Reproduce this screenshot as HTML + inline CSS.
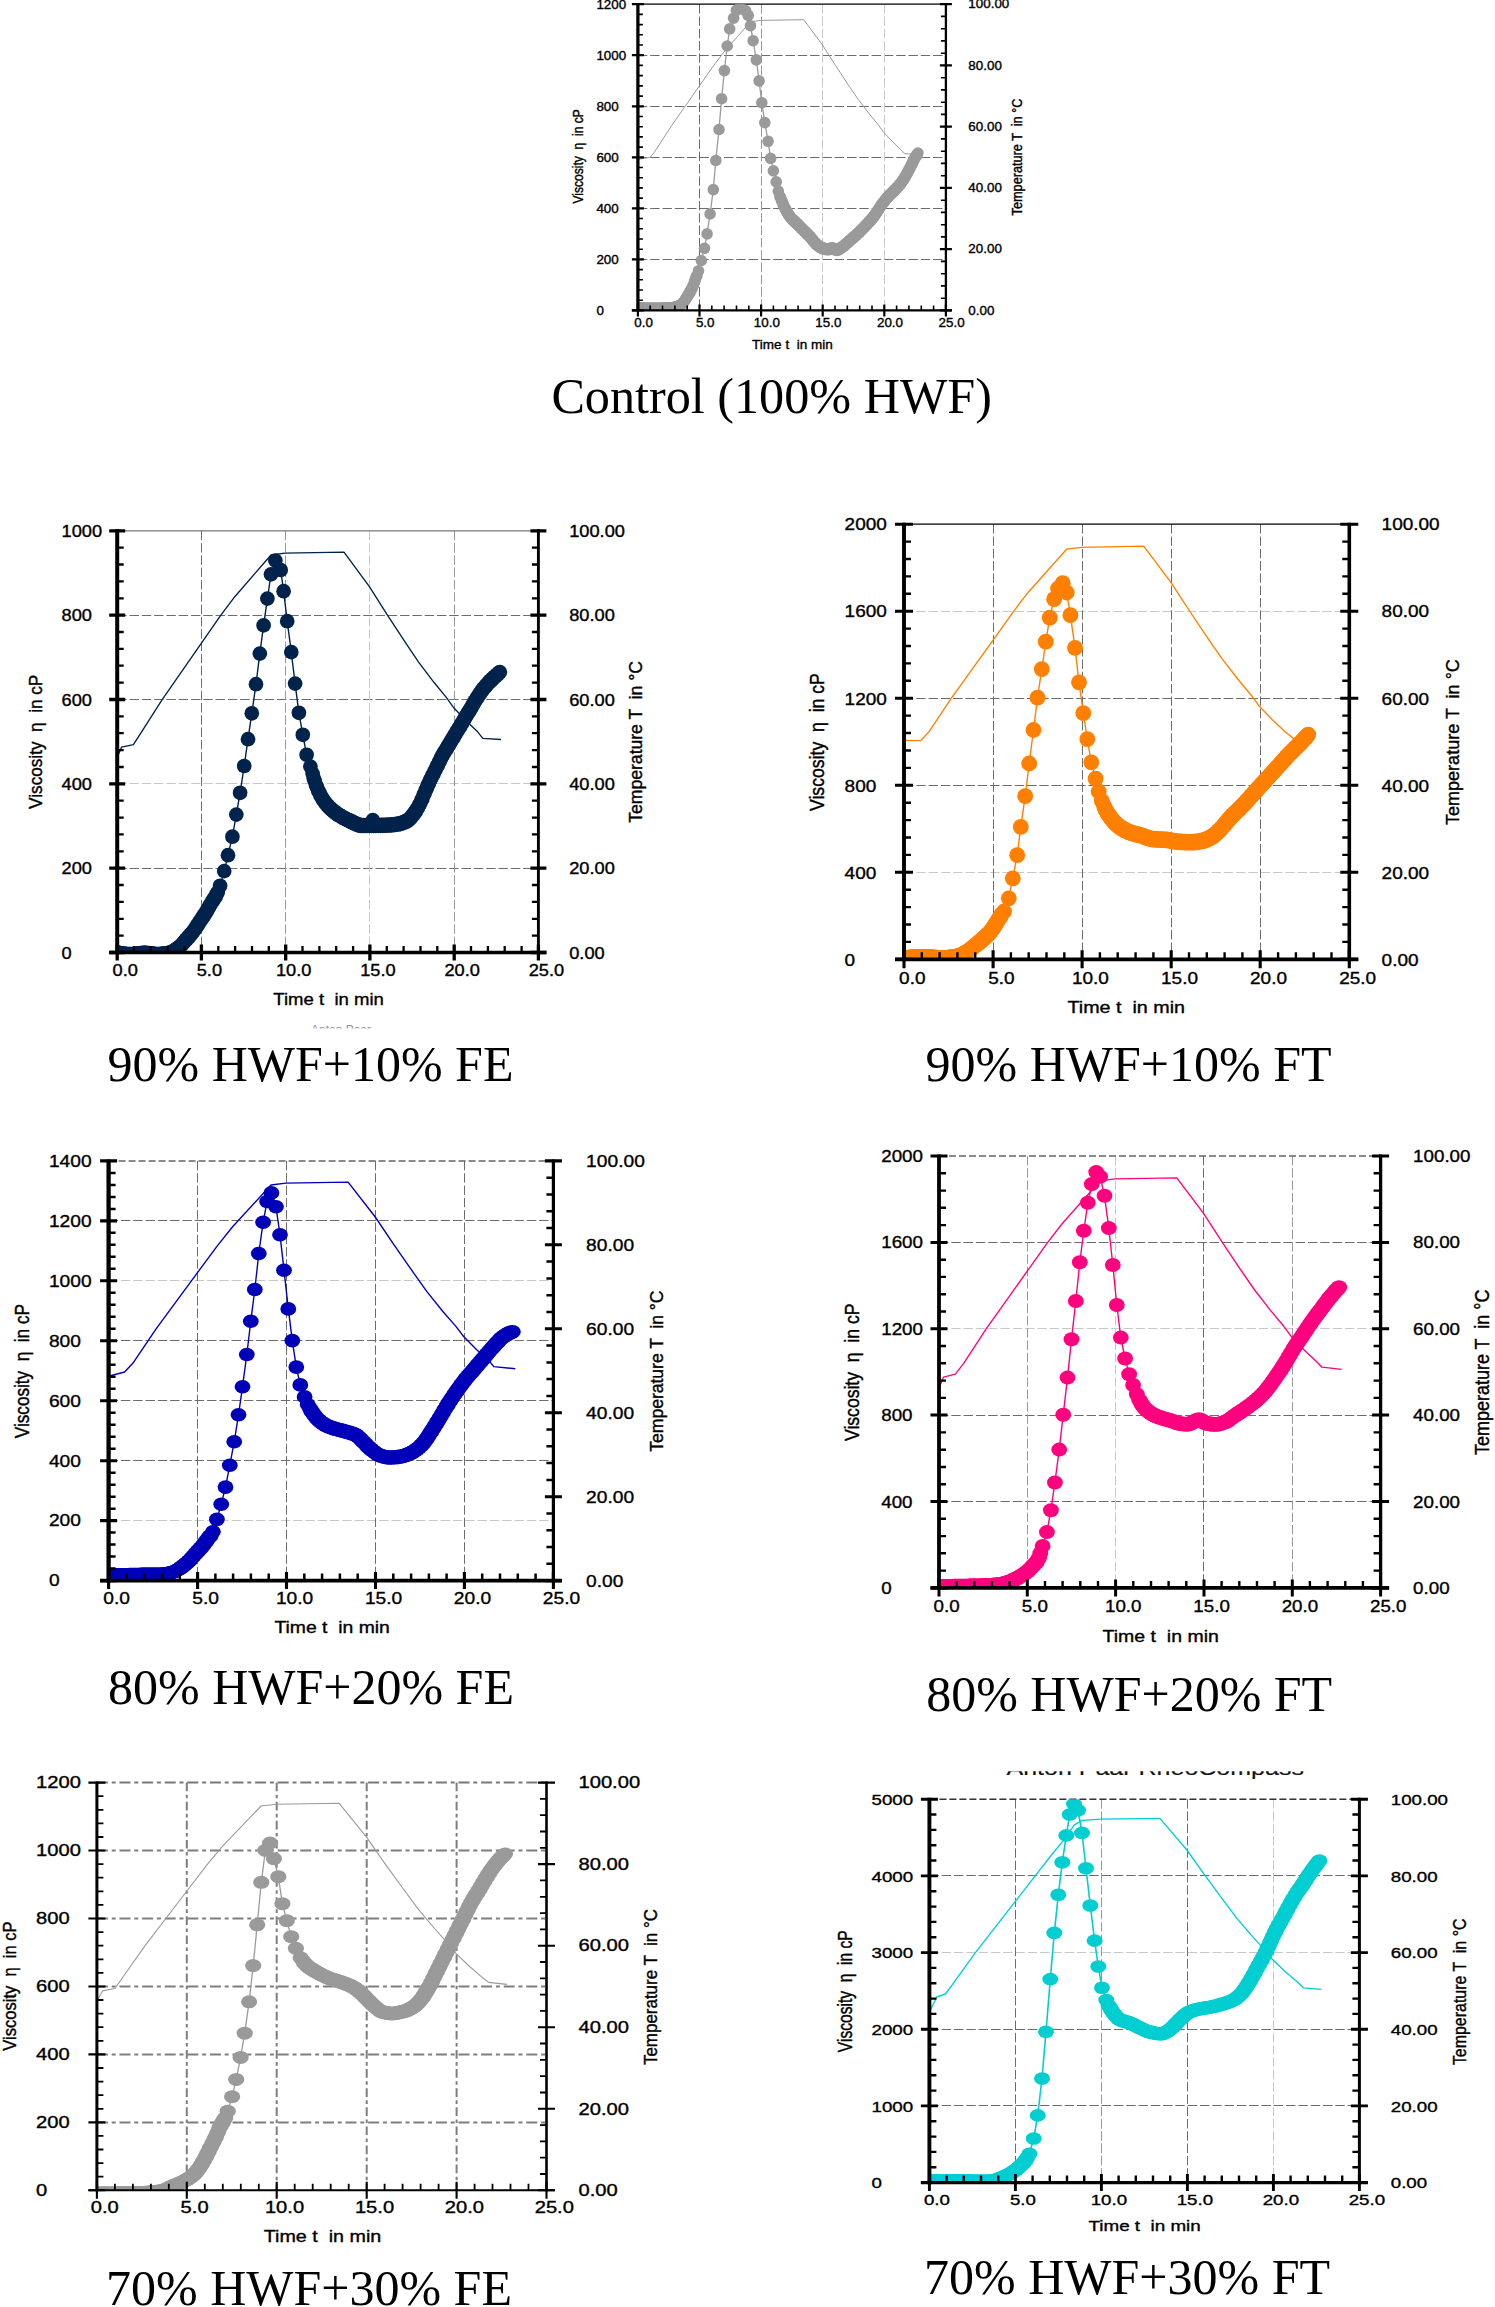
<!DOCTYPE html>
<html lang="en">
<head>
<meta charset="utf-8">
<title>RVA pasting profiles</title>
<style>html,body{margin:0;padding:0;background:#fff}body{width:1495px;height:2307px;overflow:hidden}svg{display:block}text{white-space:pre}</style>
</head>
<body>
<svg width="1495" height="2307" viewBox="0 0 1495 2307">
<rect width="1495" height="2307" fill="#fff"/>
<defs><clipPath id="clipA"><rect x="290" y="1024" width="120" height="4.6"/></clipPath><clipPath id="clipB"><rect x="1000" y="1771.2" width="320" height="12"/></clipPath></defs>
<!-- control -->
<g>
<g stroke-width="1" stroke-dasharray="9.4 2.9" fill="none">
<path d="M637.9 259.5H945.9" stroke="#6c6c6c"/>
<path d="M637.9 208.5H945.9" stroke="#6c6c6c"/>
<path d="M637.9 157.5H945.9" stroke="#6c6c6c"/>
<path d="M637.9 106.5H945.9" stroke="#6c6c6c"/>
<path d="M637.9 55.5H945.9" stroke="#6c6c6c"/>
<path d="M699.5 4.2V310.4" stroke="#6c6c6c"/>
<path d="M761.5 4.2V310.4" stroke="#989898"/>
<path d="M822.5 4.2V310.4" stroke="#c8c8c8"/>
<path d="M884.5 4.2V310.4" stroke="#c8c8c8"/>
</g>
<path d="M637.9 4.2H945.9" stroke="#000" stroke-width="1.3" fill="none"/>
<clipPath id="cp_control"><rect x="637.9" y="4.2" width="308" height="306.2"/></clipPath>
<g clip-path="url(#cp_control)">
<polyline fill="none" stroke="#9a9a9a" stroke-width="1.0" stroke-linejoin="round" points="637.9,159.4 650.1,157.3 655.1,151.2 670.7,127 700.1,84.9 713.4,65.8 723.9,52.1 750.4,21.8 760.6,20.4 803.7,19.7 822.3,44.7 835.6,65.6 848.3,84.9 858.3,99.6 869.5,114.2 878.4,125 883.7,132.3 892.8,141.9 901.7,150.4 904.6,153.6 917.6,154.5"/>
<polyline fill="none" stroke="#9a9a9a" stroke-width="1.3" stroke-linejoin="round" points="636.6,308 637.4,308 638.2,308 639.1,308 639.9,308.1 640.7,308.1 641.5,308.1 642.3,308.1 643.1,308.1 643.9,308.1 644.8,308.2 645.6,308.2 646.4,308.2 647.2,308.2 648,308.2 648.8,308.2 649.6,308.2 650.5,308.2 651.3,308.2 652.1,308.2 652.9,308.2 653.7,308.2 654.5,308.2 655.3,308.2 656.2,308.2 657,308.2 657.8,308.2 658.6,308.2 659.4,308.2 660.2,308.2 661,308.2 661.9,308.2 662.7,308.1 663.5,308.1 664.3,308.1 665.1,308.1 665.9,308 666.7,308 667.6,307.9 668.4,307.9 669.2,307.8 670,307.8 670.8,307.7 671.6,307.7 672.4,307.6 673.3,307.5 674.1,307.4 674.9,307.2 675.7,307 676.5,306.7 677.3,306.4 678.1,306.1 679,305.7 679.8,305.3 680.6,304.8 681.4,304.4 682.2,303.7 683,302.9 683.8,301.8 684.7,300.7 685.5,299.4 686.3,298.2 687.1,297 687.9,295.2 688.7,294.7 689.5,292.3 690.4,291.8 691.2,289.2 692,288.6 692.8,286 693.6,285.1 694.4,281.7 695.2,279.9 696.1,276.8 696.9,275.7 698.5,270.8 701.3,260.5 704.5,248.3 707.1,233.9 710.1,214 713.3,189.6 715.8,160.5 719,129.5 721.6,98.7 724.4,70.6 727.2,46 729.7,28.9 733.6,18.2 736.4,10.3 739.4,8.1 742.4,9 745.6,10.7 748.2,15.4 750.5,25.7 753.1,40.7 756.3,59.9 759.1,80.9 761.8,102.7 764.8,122.6 768.1,141.3 770.6,158.4 773.4,170.8 776.2,181.9 778.3,191.1 780,196.7 780.8,197.8 781.6,200.8 782.4,201.8 783.2,204.7 784,205.8 784.8,208.5 785.7,209.2 786.5,211.6 787.3,212 788.1,214.3 788.9,214.6 789.7,216.6 790.5,216.8 791.4,218.7 792.2,218.7 793,220.4 793.8,220.2 794.6,221.9 795.4,221.7 796.2,223.5 797.1,223.4 797.9,225.1 798.7,224.9 799.5,226.7 800.3,226.6 801.1,228.3 801.9,228.2 802.8,230 803.6,229.9 804.4,231.6 805.2,231.4 806,233.2 806.8,233 807.6,234.8 808.5,234.6 809.3,236.4 810.1,236.4 810.9,238.2 811.7,238.4 812.5,240.3 813.3,240.4 814.2,242.3 815,242.3 815.8,244.1 816.6,243.9 817.4,245.4 818.2,245.2 819,246.8 819.9,246.4 820.7,247.8 821.5,247.4 822.3,248.6 823.1,247.9 823.9,249.2 824.7,248.4 825.6,249.5 826.4,248.7 827.2,249.8 828,248.9 828.8,249.7 829.6,248.5 830.4,249.2 831.3,247.9 832.1,248.7 832.9,247.9 833.7,249.2 834.5,248.8 835.3,250.2 836.1,249.5 837,250.4 837.8,249.3 838.6,249.9 839.4,248.5 840.2,248.8 841,247.3 841.8,247.7 842.7,246.3 843.5,246.6 844.3,245 845.1,245.2 845.9,243.5 846.7,243.7 847.5,242.1 848.4,242.3 849.2,240.7 850,240.9 850.8,239.3 851.6,239.5 852.4,237.9 853.2,238.1 854.1,236.5 854.9,236.7 855.7,235 856.5,235.2 857.3,233.5 858.1,233.7 858.9,232 859.8,232.1 860.6,230.3 861.4,230.5 862.2,228.7 863,228.8 863.8,227 864.6,227.1 865.5,225.4 866.3,225.4 867.1,223.6 867.9,223.7 868.7,221.9 869.5,221.9 870.3,220.1 871.2,220.1 872,218.2 872.8,218.2 873.6,216.3 874.4,216.1 875.2,214.1 876,213.8 876.9,211.6 877.7,211.2 878.5,209 879.3,208.7 880.1,206.6 880.9,206.3 881.7,204.2 882.6,204 883.4,202 884.2,201.8 885,199.8 885.8,199.7 886.6,197.8 887.4,197.8 888.3,196 889.1,196.1 889.9,194.4 890.7,194.5 891.5,192.8 892.3,193 893.1,191.2 894,191.4 894.8,189.6 895.6,189.7 896.4,187.9 897.2,187.9 898,186.1 898.8,186.2 899.7,184.3 900.5,184.2 901.3,182.2 902.1,182 902.9,179.9 903.7,179.6 904.5,177.3 905.4,176.9 906.2,174.5 907,174 907.8,171.6 908.6,171 909.4,168.5 910.2,167.8 911.1,165.2 911.9,164.4 912.7,161.9 913.5,161.2 914.3,158.7 915.1,158.2 915.9,155.9 916.8,155.4 917.9,153"/>
<g fill="#9a9a9a">
<ellipse cx="636.6" cy="308" rx="5.8" ry="5.8"/>
<ellipse cx="637.4" cy="308" rx="5.8" ry="5.8"/>
<ellipse cx="638.2" cy="308" rx="5.8" ry="5.8"/>
<ellipse cx="639.1" cy="308" rx="5.8" ry="5.8"/>
<ellipse cx="639.9" cy="308.1" rx="5.8" ry="5.8"/>
<ellipse cx="640.7" cy="308.1" rx="5.8" ry="5.8"/>
<ellipse cx="641.5" cy="308.1" rx="5.8" ry="5.8"/>
<ellipse cx="642.3" cy="308.1" rx="5.8" ry="5.8"/>
<ellipse cx="643.1" cy="308.1" rx="5.8" ry="5.8"/>
<ellipse cx="643.9" cy="308.1" rx="5.8" ry="5.8"/>
<ellipse cx="644.8" cy="308.2" rx="5.8" ry="5.8"/>
<ellipse cx="645.6" cy="308.2" rx="5.8" ry="5.8"/>
<ellipse cx="646.4" cy="308.2" rx="5.8" ry="5.8"/>
<ellipse cx="647.2" cy="308.2" rx="5.8" ry="5.8"/>
<ellipse cx="648" cy="308.2" rx="5.8" ry="5.8"/>
<ellipse cx="648.8" cy="308.2" rx="5.8" ry="5.8"/>
<ellipse cx="649.6" cy="308.2" rx="5.8" ry="5.8"/>
<ellipse cx="650.5" cy="308.2" rx="5.8" ry="5.8"/>
<ellipse cx="651.3" cy="308.2" rx="5.8" ry="5.8"/>
<ellipse cx="652.1" cy="308.2" rx="5.8" ry="5.8"/>
<ellipse cx="652.9" cy="308.2" rx="5.8" ry="5.8"/>
<ellipse cx="653.7" cy="308.2" rx="5.8" ry="5.8"/>
<ellipse cx="654.5" cy="308.2" rx="5.8" ry="5.8"/>
<ellipse cx="655.3" cy="308.2" rx="5.8" ry="5.8"/>
<ellipse cx="656.2" cy="308.2" rx="5.8" ry="5.8"/>
<ellipse cx="657" cy="308.2" rx="5.8" ry="5.8"/>
<ellipse cx="657.8" cy="308.2" rx="5.8" ry="5.8"/>
<ellipse cx="658.6" cy="308.2" rx="5.8" ry="5.8"/>
<ellipse cx="659.4" cy="308.2" rx="5.8" ry="5.8"/>
<ellipse cx="660.2" cy="308.2" rx="5.8" ry="5.8"/>
<ellipse cx="661" cy="308.2" rx="5.8" ry="5.8"/>
<ellipse cx="661.9" cy="308.2" rx="5.8" ry="5.8"/>
<ellipse cx="662.7" cy="308.1" rx="5.8" ry="5.8"/>
<ellipse cx="663.5" cy="308.1" rx="5.8" ry="5.8"/>
<ellipse cx="664.3" cy="308.1" rx="5.8" ry="5.8"/>
<ellipse cx="665.1" cy="308.1" rx="5.8" ry="5.8"/>
<ellipse cx="665.9" cy="308" rx="5.8" ry="5.8"/>
<ellipse cx="666.7" cy="308" rx="5.8" ry="5.8"/>
<ellipse cx="667.6" cy="307.9" rx="5.8" ry="5.8"/>
<ellipse cx="668.4" cy="307.9" rx="5.8" ry="5.8"/>
<ellipse cx="669.2" cy="307.8" rx="5.8" ry="5.8"/>
<ellipse cx="670" cy="307.8" rx="5.8" ry="5.8"/>
<ellipse cx="670.8" cy="307.7" rx="5.8" ry="5.8"/>
<ellipse cx="671.6" cy="307.7" rx="5.8" ry="5.8"/>
<ellipse cx="672.4" cy="307.6" rx="5.8" ry="5.8"/>
<ellipse cx="673.3" cy="307.5" rx="5.8" ry="5.8"/>
<ellipse cx="674.1" cy="307.4" rx="5.8" ry="5.8"/>
<ellipse cx="674.9" cy="307.2" rx="5.8" ry="5.8"/>
<ellipse cx="675.7" cy="307" rx="5.8" ry="5.8"/>
<ellipse cx="676.5" cy="306.7" rx="5.8" ry="5.8"/>
<ellipse cx="677.3" cy="306.4" rx="5.8" ry="5.8"/>
<ellipse cx="678.1" cy="306.1" rx="5.8" ry="5.8"/>
<ellipse cx="679" cy="305.7" rx="5.8" ry="5.8"/>
<ellipse cx="679.8" cy="305.3" rx="5.8" ry="5.8"/>
<ellipse cx="680.6" cy="304.8" rx="5.8" ry="5.8"/>
<ellipse cx="681.4" cy="304.4" rx="5.8" ry="5.8"/>
<ellipse cx="682.2" cy="303.7" rx="5.8" ry="5.8"/>
<ellipse cx="683" cy="302.9" rx="5.8" ry="5.8"/>
<ellipse cx="683.8" cy="301.8" rx="5.8" ry="5.8"/>
<ellipse cx="684.7" cy="300.7" rx="5.8" ry="5.8"/>
<ellipse cx="685.5" cy="299.4" rx="5.8" ry="5.8"/>
<ellipse cx="686.3" cy="298.2" rx="5.8" ry="5.8"/>
<ellipse cx="687.1" cy="297" rx="5.8" ry="5.8"/>
<ellipse cx="687.9" cy="295.2" rx="5.8" ry="5.8"/>
<ellipse cx="688.7" cy="294.7" rx="5.8" ry="5.8"/>
<ellipse cx="689.5" cy="292.3" rx="5.8" ry="5.8"/>
<ellipse cx="690.4" cy="291.8" rx="5.8" ry="5.8"/>
<ellipse cx="691.2" cy="289.2" rx="5.8" ry="5.8"/>
<ellipse cx="692" cy="288.6" rx="5.8" ry="5.8"/>
<ellipse cx="692.8" cy="286" rx="5.8" ry="5.8"/>
<ellipse cx="693.6" cy="285.1" rx="5.8" ry="5.8"/>
<ellipse cx="694.4" cy="281.7" rx="5.8" ry="5.8"/>
<ellipse cx="695.2" cy="279.9" rx="5.8" ry="5.8"/>
<ellipse cx="696.1" cy="276.8" rx="5.8" ry="5.8"/>
<ellipse cx="696.9" cy="275.7" rx="5.8" ry="5.8"/>
<ellipse cx="698.5" cy="270.8" rx="5.8" ry="5.8"/>
<ellipse cx="701.3" cy="260.5" rx="5.8" ry="5.8"/>
<ellipse cx="704.5" cy="248.3" rx="5.8" ry="5.8"/>
<ellipse cx="707.1" cy="233.9" rx="5.8" ry="5.8"/>
<ellipse cx="710.1" cy="214" rx="5.8" ry="5.8"/>
<ellipse cx="713.3" cy="189.6" rx="5.8" ry="5.8"/>
<ellipse cx="715.8" cy="160.5" rx="5.8" ry="5.8"/>
<ellipse cx="719" cy="129.5" rx="5.8" ry="5.8"/>
<ellipse cx="721.6" cy="98.7" rx="5.8" ry="5.8"/>
<ellipse cx="724.4" cy="70.6" rx="5.8" ry="5.8"/>
<ellipse cx="727.2" cy="46" rx="5.8" ry="5.8"/>
<ellipse cx="729.7" cy="28.9" rx="5.8" ry="5.8"/>
<ellipse cx="733.6" cy="18.2" rx="5.8" ry="5.8"/>
<ellipse cx="736.4" cy="10.3" rx="5.8" ry="5.8"/>
<ellipse cx="739.4" cy="8.1" rx="5.8" ry="5.8"/>
<ellipse cx="742.4" cy="9" rx="5.8" ry="5.8"/>
<ellipse cx="745.6" cy="10.7" rx="5.8" ry="5.8"/>
<ellipse cx="748.2" cy="15.4" rx="5.8" ry="5.8"/>
<ellipse cx="750.5" cy="25.7" rx="5.8" ry="5.8"/>
<ellipse cx="753.1" cy="40.7" rx="5.8" ry="5.8"/>
<ellipse cx="756.3" cy="59.9" rx="5.8" ry="5.8"/>
<ellipse cx="759.1" cy="80.9" rx="5.8" ry="5.8"/>
<ellipse cx="761.8" cy="102.7" rx="5.8" ry="5.8"/>
<ellipse cx="764.8" cy="122.6" rx="5.8" ry="5.8"/>
<ellipse cx="768.1" cy="141.3" rx="5.8" ry="5.8"/>
<ellipse cx="770.6" cy="158.4" rx="5.8" ry="5.8"/>
<ellipse cx="773.4" cy="170.8" rx="5.8" ry="5.8"/>
<ellipse cx="776.2" cy="181.9" rx="5.8" ry="5.8"/>
<ellipse cx="778.3" cy="191.1" rx="5.8" ry="5.8"/>
<ellipse cx="780" cy="196.7" rx="5.8" ry="5.8"/>
<ellipse cx="780.8" cy="197.8" rx="5.8" ry="5.8"/>
<ellipse cx="781.6" cy="200.8" rx="5.8" ry="5.8"/>
<ellipse cx="782.4" cy="201.8" rx="5.8" ry="5.8"/>
<ellipse cx="783.2" cy="204.7" rx="5.8" ry="5.8"/>
<ellipse cx="784" cy="205.8" rx="5.8" ry="5.8"/>
<ellipse cx="784.8" cy="208.5" rx="5.8" ry="5.8"/>
<ellipse cx="785.7" cy="209.2" rx="5.8" ry="5.8"/>
<ellipse cx="786.5" cy="211.6" rx="5.8" ry="5.8"/>
<ellipse cx="787.3" cy="212" rx="5.8" ry="5.8"/>
<ellipse cx="788.1" cy="214.3" rx="5.8" ry="5.8"/>
<ellipse cx="788.9" cy="214.6" rx="5.8" ry="5.8"/>
<ellipse cx="789.7" cy="216.6" rx="5.8" ry="5.8"/>
<ellipse cx="790.5" cy="216.8" rx="5.8" ry="5.8"/>
<ellipse cx="791.4" cy="218.7" rx="5.8" ry="5.8"/>
<ellipse cx="792.2" cy="218.7" rx="5.8" ry="5.8"/>
<ellipse cx="793" cy="220.4" rx="5.8" ry="5.8"/>
<ellipse cx="793.8" cy="220.2" rx="5.8" ry="5.8"/>
<ellipse cx="794.6" cy="221.9" rx="5.8" ry="5.8"/>
<ellipse cx="795.4" cy="221.7" rx="5.8" ry="5.8"/>
<ellipse cx="796.2" cy="223.5" rx="5.8" ry="5.8"/>
<ellipse cx="797.1" cy="223.4" rx="5.8" ry="5.8"/>
<ellipse cx="797.9" cy="225.1" rx="5.8" ry="5.8"/>
<ellipse cx="798.7" cy="224.9" rx="5.8" ry="5.8"/>
<ellipse cx="799.5" cy="226.7" rx="5.8" ry="5.8"/>
<ellipse cx="800.3" cy="226.6" rx="5.8" ry="5.8"/>
<ellipse cx="801.1" cy="228.3" rx="5.8" ry="5.8"/>
<ellipse cx="801.9" cy="228.2" rx="5.8" ry="5.8"/>
<ellipse cx="802.8" cy="230" rx="5.8" ry="5.8"/>
<ellipse cx="803.6" cy="229.9" rx="5.8" ry="5.8"/>
<ellipse cx="804.4" cy="231.6" rx="5.8" ry="5.8"/>
<ellipse cx="805.2" cy="231.4" rx="5.8" ry="5.8"/>
<ellipse cx="806" cy="233.2" rx="5.8" ry="5.8"/>
<ellipse cx="806.8" cy="233" rx="5.8" ry="5.8"/>
<ellipse cx="807.6" cy="234.8" rx="5.8" ry="5.8"/>
<ellipse cx="808.5" cy="234.6" rx="5.8" ry="5.8"/>
<ellipse cx="809.3" cy="236.4" rx="5.8" ry="5.8"/>
<ellipse cx="810.1" cy="236.4" rx="5.8" ry="5.8"/>
<ellipse cx="810.9" cy="238.2" rx="5.8" ry="5.8"/>
<ellipse cx="811.7" cy="238.4" rx="5.8" ry="5.8"/>
<ellipse cx="812.5" cy="240.3" rx="5.8" ry="5.8"/>
<ellipse cx="813.3" cy="240.4" rx="5.8" ry="5.8"/>
<ellipse cx="814.2" cy="242.3" rx="5.8" ry="5.8"/>
<ellipse cx="815" cy="242.3" rx="5.8" ry="5.8"/>
<ellipse cx="815.8" cy="244.1" rx="5.8" ry="5.8"/>
<ellipse cx="816.6" cy="243.9" rx="5.8" ry="5.8"/>
<ellipse cx="817.4" cy="245.4" rx="5.8" ry="5.8"/>
<ellipse cx="818.2" cy="245.2" rx="5.8" ry="5.8"/>
<ellipse cx="819" cy="246.8" rx="5.8" ry="5.8"/>
<ellipse cx="819.9" cy="246.4" rx="5.8" ry="5.8"/>
<ellipse cx="820.7" cy="247.8" rx="5.8" ry="5.8"/>
<ellipse cx="821.5" cy="247.4" rx="5.8" ry="5.8"/>
<ellipse cx="822.3" cy="248.6" rx="5.8" ry="5.8"/>
<ellipse cx="823.1" cy="247.9" rx="5.8" ry="5.8"/>
<ellipse cx="823.9" cy="249.2" rx="5.8" ry="5.8"/>
<ellipse cx="824.7" cy="248.4" rx="5.8" ry="5.8"/>
<ellipse cx="825.6" cy="249.5" rx="5.8" ry="5.8"/>
<ellipse cx="826.4" cy="248.7" rx="5.8" ry="5.8"/>
<ellipse cx="827.2" cy="249.8" rx="5.8" ry="5.8"/>
<ellipse cx="828" cy="248.9" rx="5.8" ry="5.8"/>
<ellipse cx="828.8" cy="249.7" rx="5.8" ry="5.8"/>
<ellipse cx="829.6" cy="248.5" rx="5.8" ry="5.8"/>
<ellipse cx="830.4" cy="249.2" rx="5.8" ry="5.8"/>
<ellipse cx="831.3" cy="247.9" rx="5.8" ry="5.8"/>
<ellipse cx="832.1" cy="248.7" rx="5.8" ry="5.8"/>
<ellipse cx="832.9" cy="247.9" rx="5.8" ry="5.8"/>
<ellipse cx="833.7" cy="249.2" rx="5.8" ry="5.8"/>
<ellipse cx="834.5" cy="248.8" rx="5.8" ry="5.8"/>
<ellipse cx="835.3" cy="250.2" rx="5.8" ry="5.8"/>
<ellipse cx="836.1" cy="249.5" rx="5.8" ry="5.8"/>
<ellipse cx="837" cy="250.4" rx="5.8" ry="5.8"/>
<ellipse cx="837.8" cy="249.3" rx="5.8" ry="5.8"/>
<ellipse cx="838.6" cy="249.9" rx="5.8" ry="5.8"/>
<ellipse cx="839.4" cy="248.5" rx="5.8" ry="5.8"/>
<ellipse cx="840.2" cy="248.8" rx="5.8" ry="5.8"/>
<ellipse cx="841" cy="247.3" rx="5.8" ry="5.8"/>
<ellipse cx="841.8" cy="247.7" rx="5.8" ry="5.8"/>
<ellipse cx="842.7" cy="246.3" rx="5.8" ry="5.8"/>
<ellipse cx="843.5" cy="246.6" rx="5.8" ry="5.8"/>
<ellipse cx="844.3" cy="245" rx="5.8" ry="5.8"/>
<ellipse cx="845.1" cy="245.2" rx="5.8" ry="5.8"/>
<ellipse cx="845.9" cy="243.5" rx="5.8" ry="5.8"/>
<ellipse cx="846.7" cy="243.7" rx="5.8" ry="5.8"/>
<ellipse cx="847.5" cy="242.1" rx="5.8" ry="5.8"/>
<ellipse cx="848.4" cy="242.3" rx="5.8" ry="5.8"/>
<ellipse cx="849.2" cy="240.7" rx="5.8" ry="5.8"/>
<ellipse cx="850" cy="240.9" rx="5.8" ry="5.8"/>
<ellipse cx="850.8" cy="239.3" rx="5.8" ry="5.8"/>
<ellipse cx="851.6" cy="239.5" rx="5.8" ry="5.8"/>
<ellipse cx="852.4" cy="237.9" rx="5.8" ry="5.8"/>
<ellipse cx="853.2" cy="238.1" rx="5.8" ry="5.8"/>
<ellipse cx="854.1" cy="236.5" rx="5.8" ry="5.8"/>
<ellipse cx="854.9" cy="236.7" rx="5.8" ry="5.8"/>
<ellipse cx="855.7" cy="235" rx="5.8" ry="5.8"/>
<ellipse cx="856.5" cy="235.2" rx="5.8" ry="5.8"/>
<ellipse cx="857.3" cy="233.5" rx="5.8" ry="5.8"/>
<ellipse cx="858.1" cy="233.7" rx="5.8" ry="5.8"/>
<ellipse cx="858.9" cy="232" rx="5.8" ry="5.8"/>
<ellipse cx="859.8" cy="232.1" rx="5.8" ry="5.8"/>
<ellipse cx="860.6" cy="230.3" rx="5.8" ry="5.8"/>
<ellipse cx="861.4" cy="230.5" rx="5.8" ry="5.8"/>
<ellipse cx="862.2" cy="228.7" rx="5.8" ry="5.8"/>
<ellipse cx="863" cy="228.8" rx="5.8" ry="5.8"/>
<ellipse cx="863.8" cy="227" rx="5.8" ry="5.8"/>
<ellipse cx="864.6" cy="227.1" rx="5.8" ry="5.8"/>
<ellipse cx="865.5" cy="225.4" rx="5.8" ry="5.8"/>
<ellipse cx="866.3" cy="225.4" rx="5.8" ry="5.8"/>
<ellipse cx="867.1" cy="223.6" rx="5.8" ry="5.8"/>
<ellipse cx="867.9" cy="223.7" rx="5.8" ry="5.8"/>
<ellipse cx="868.7" cy="221.9" rx="5.8" ry="5.8"/>
<ellipse cx="869.5" cy="221.9" rx="5.8" ry="5.8"/>
<ellipse cx="870.3" cy="220.1" rx="5.8" ry="5.8"/>
<ellipse cx="871.2" cy="220.1" rx="5.8" ry="5.8"/>
<ellipse cx="872" cy="218.2" rx="5.8" ry="5.8"/>
<ellipse cx="872.8" cy="218.2" rx="5.8" ry="5.8"/>
<ellipse cx="873.6" cy="216.3" rx="5.8" ry="5.8"/>
<ellipse cx="874.4" cy="216.1" rx="5.8" ry="5.8"/>
<ellipse cx="875.2" cy="214.1" rx="5.8" ry="5.8"/>
<ellipse cx="876" cy="213.8" rx="5.8" ry="5.8"/>
<ellipse cx="876.9" cy="211.6" rx="5.8" ry="5.8"/>
<ellipse cx="877.7" cy="211.2" rx="5.8" ry="5.8"/>
<ellipse cx="878.5" cy="209" rx="5.8" ry="5.8"/>
<ellipse cx="879.3" cy="208.7" rx="5.8" ry="5.8"/>
<ellipse cx="880.1" cy="206.6" rx="5.8" ry="5.8"/>
<ellipse cx="880.9" cy="206.3" rx="5.8" ry="5.8"/>
<ellipse cx="881.7" cy="204.2" rx="5.8" ry="5.8"/>
<ellipse cx="882.6" cy="204" rx="5.8" ry="5.8"/>
<ellipse cx="883.4" cy="202" rx="5.8" ry="5.8"/>
<ellipse cx="884.2" cy="201.8" rx="5.8" ry="5.8"/>
<ellipse cx="885" cy="199.8" rx="5.8" ry="5.8"/>
<ellipse cx="885.8" cy="199.7" rx="5.8" ry="5.8"/>
<ellipse cx="886.6" cy="197.8" rx="5.8" ry="5.8"/>
<ellipse cx="887.4" cy="197.8" rx="5.8" ry="5.8"/>
<ellipse cx="888.3" cy="196" rx="5.8" ry="5.8"/>
<ellipse cx="889.1" cy="196.1" rx="5.8" ry="5.8"/>
<ellipse cx="889.9" cy="194.4" rx="5.8" ry="5.8"/>
<ellipse cx="890.7" cy="194.5" rx="5.8" ry="5.8"/>
<ellipse cx="891.5" cy="192.8" rx="5.8" ry="5.8"/>
<ellipse cx="892.3" cy="193" rx="5.8" ry="5.8"/>
<ellipse cx="893.1" cy="191.2" rx="5.8" ry="5.8"/>
<ellipse cx="894" cy="191.4" rx="5.8" ry="5.8"/>
<ellipse cx="894.8" cy="189.6" rx="5.8" ry="5.8"/>
<ellipse cx="895.6" cy="189.7" rx="5.8" ry="5.8"/>
<ellipse cx="896.4" cy="187.9" rx="5.8" ry="5.8"/>
<ellipse cx="897.2" cy="187.9" rx="5.8" ry="5.8"/>
<ellipse cx="898" cy="186.1" rx="5.8" ry="5.8"/>
<ellipse cx="898.8" cy="186.2" rx="5.8" ry="5.8"/>
<ellipse cx="899.7" cy="184.3" rx="5.8" ry="5.8"/>
<ellipse cx="900.5" cy="184.2" rx="5.8" ry="5.8"/>
<ellipse cx="901.3" cy="182.2" rx="5.8" ry="5.8"/>
<ellipse cx="902.1" cy="182" rx="5.8" ry="5.8"/>
<ellipse cx="902.9" cy="179.9" rx="5.8" ry="5.8"/>
<ellipse cx="903.7" cy="179.6" rx="5.8" ry="5.8"/>
<ellipse cx="904.5" cy="177.3" rx="5.8" ry="5.8"/>
<ellipse cx="905.4" cy="176.9" rx="5.8" ry="5.8"/>
<ellipse cx="906.2" cy="174.5" rx="5.8" ry="5.8"/>
<ellipse cx="907" cy="174" rx="5.8" ry="5.8"/>
<ellipse cx="907.8" cy="171.6" rx="5.8" ry="5.8"/>
<ellipse cx="908.6" cy="171" rx="5.8" ry="5.8"/>
<ellipse cx="909.4" cy="168.5" rx="5.8" ry="5.8"/>
<ellipse cx="910.2" cy="167.8" rx="5.8" ry="5.8"/>
<ellipse cx="911.1" cy="165.2" rx="5.8" ry="5.8"/>
<ellipse cx="911.9" cy="164.4" rx="5.8" ry="5.8"/>
<ellipse cx="912.7" cy="161.9" rx="5.8" ry="5.8"/>
<ellipse cx="913.5" cy="161.2" rx="5.8" ry="5.8"/>
<ellipse cx="914.3" cy="158.7" rx="5.8" ry="5.8"/>
<ellipse cx="915.1" cy="158.2" rx="5.8" ry="5.8"/>
<ellipse cx="915.9" cy="155.9" rx="5.8" ry="5.8"/>
<ellipse cx="916.8" cy="155.4" rx="5.8" ry="5.8"/>
<ellipse cx="917.9" cy="153" rx="5.8" ry="5.8"/>
</g>
</g>
<g stroke="#000" fill="none" stroke-linecap="butt">
<path d="M637.9 3.1V311.5" stroke-width="3.3"/>
<path d="M945.9 3.1V311.5" stroke-width="2.3"/>
<path d="M631.9 310.4H951.9" stroke-width="2.3"/>
<path d="M631.9 310.4H643.9M631.9 259.4H643.9M631.9 208.3H643.9M631.9 157.3H643.9M631.9 106.3H643.9M631.9 55.2H643.9M631.9 4.2H643.9M939.9 310.4H951.9M939.9 249.2H951.9M939.9 187.9H951.9M939.9 126.7H951.9M939.9 65.4H951.9M939.9 4.2H951.9M637.9 304.4V316.4M699.5 304.4V316.4M761.1 304.4V316.4M822.7 304.4V316.4M884.3 304.4V316.4M945.9 304.4V316.4" stroke-width="2.2"/>
<path d="M637.9 300.2H642.9M637.9 290H642.9M637.9 279.8H642.9M637.9 269.6H642.9M637.9 249.2H642.9M637.9 239H642.9M637.9 228.7H642.9M637.9 218.5H642.9M637.9 198.1H642.9M637.9 187.9H642.9M637.9 177.7H642.9M637.9 167.5H642.9M637.9 147.1H642.9M637.9 136.9H642.9M637.9 126.7H642.9M637.9 116.5H642.9M637.9 96.1H642.9M637.9 85.9H642.9M637.9 75.6H642.9M637.9 65.4H642.9M637.9 45H642.9M637.9 34.8H642.9M637.9 24.6H642.9M637.9 14.4H642.9M940.9 298.2H945.9M940.9 285.9H945.9M940.9 273.7H945.9M940.9 261.4H945.9M940.9 236.9H945.9M940.9 224.7H945.9M940.9 212.4H945.9M940.9 200.2H945.9M940.9 175.7H945.9M940.9 163.4H945.9M940.9 151.2H945.9M940.9 138.9H945.9M940.9 114.4H945.9M940.9 102.2H945.9M940.9 89.9H945.9M940.9 77.7H945.9M940.9 53.2H945.9M940.9 40.9H945.9M940.9 28.7H945.9M940.9 16.4H945.9M650.2 305.4V310.4M662.5 305.4V310.4M674.9 305.4V310.4M687.2 305.4V310.4M711.8 305.4V310.4M724.1 305.4V310.4M736.5 305.4V310.4M748.8 305.4V310.4M773.4 305.4V310.4M785.7 305.4V310.4M798.1 305.4V310.4M810.4 305.4V310.4M835 305.4V310.4M847.3 305.4V310.4M859.7 305.4V310.4M872 305.4V310.4M896.6 305.4V310.4M908.9 305.4V310.4M921.3 305.4V310.4M933.6 305.4V310.4" stroke-width="1.6"/>
</g>
<g font-family='"Liberation Sans", Arial, Helvetica, sans-serif' font-size="12.3" fill="#000" stroke="#000" stroke-width="0.35">
<text transform="translate(596.4 315.3) scale(1.09 1)">0</text>
<text transform="translate(596.4 264.3) scale(1.09 1)">200</text>
<text transform="translate(596.4 213.2) scale(1.09 1)">400</text>
<text transform="translate(596.4 162.2) scale(1.09 1)">600</text>
<text transform="translate(596.4 111.2) scale(1.09 1)">800</text>
<text transform="translate(596.4 60.1) scale(1.09 1)">1000</text>
<text transform="translate(596.4 9.1) scale(1.09 1)">1200</text>
<text transform="translate(968.3 314.5) scale(1.09 1)">0.00</text>
<text transform="translate(968.3 253.3) scale(1.09 1)">20.00</text>
<text transform="translate(968.3 192) scale(1.09 1)">40.00</text>
<text transform="translate(968.3 130.8) scale(1.09 1)">60.00</text>
<text transform="translate(968.3 69.5) scale(1.09 1)">80.00</text>
<text transform="translate(968.3 8.3) scale(1.09 1)">100.00</text>
<text text-anchor="middle" transform="translate(643.6 327.4) scale(1.09 1)">0.0</text>
<text text-anchor="middle" transform="translate(705.2 327.4) scale(1.09 1)">5.0</text>
<text text-anchor="middle" transform="translate(766.8 327.4) scale(1.09 1)">10.0</text>
<text text-anchor="middle" transform="translate(828.4 327.4) scale(1.09 1)">15.0</text>
<text text-anchor="middle" transform="translate(890 327.4) scale(1.09 1)">20.0</text>
<text text-anchor="middle" transform="translate(951.6 327.4) scale(1.09 1)">25.0</text>
</g>
<g font-family='"Liberation Sans", Arial, Helvetica, sans-serif' font-size="12.4" fill="#000" stroke="#000" stroke-width="0.35">
<text transform="translate(752.1 349) scale(1.0903 1)">Time t  in min</text>
<text transform="translate(582.9 203.6) rotate(-90) scale(0.9755 1.12)">Viscosity  η  in cP</text>
<text transform="translate(1022.2 215.4) rotate(-90) scale(1.0247 1.12)">Temperature T  in °C</text>
</g>
</g>
<!-- 90FE -->
<g>
<g stroke-width="1" stroke-dasharray="9.4 2.9" fill="none">
<path d="M117.2 868.5H538.4" stroke="#6c6c6c"/>
<path d="M117.2 783.5H538.4" stroke="#c8c8c8"/>
<path d="M117.2 699.5H538.4" stroke="#6c6c6c"/>
<path d="M117.2 615.5H538.4" stroke="#6c6c6c"/>
<path d="M201.5 530.8V952.5" stroke="#6c6c6c"/>
<path d="M285.5 530.8V952.5" stroke="#989898"/>
<path d="M369.5 530.8V952.5" stroke="#c8c8c8"/>
<path d="M454.5 530.8V952.5" stroke="#989898"/>
</g>
<path d="M117.2 530.8H538.4" stroke="#777" stroke-width="1.3" fill="none"/>
<clipPath id="cp_90FE"><rect x="117.2" y="530.8" width="421.2" height="421.7"/></clipPath>
<g clip-path="url(#cp_90FE)">
<polyline fill="none" stroke="#00234b" stroke-width="1.35" stroke-linejoin="round" points="117.2,757.3 121.6,747.1 133.4,744.6 140.8,733.2 162,699.9 202.3,641.9 220.5,615.7 234.8,596.7 271,555 285,553.2 344,552.1 369.4,586.6 387.6,615.4 405,641.9 418.6,662.1 433.9,682.3 446.1,697.1 453.3,707.2 465.8,720.5 477.9,732.1 482.8,738.3 501,739.5"/>
<polyline fill="none" stroke="#00234b" stroke-width="1.4" stroke-linejoin="round" points="115.9,952.6 117,952.6 118.1,952.7 119.2,953 120.3,953.2 121.4,953.3 122.5,953.5 123.6,953.6 124.7,953.8 125.8,953.9 126.9,954 128.1,954 129.2,954.1 130.3,954.1 131.4,954.1 132.5,954 133.6,954 134.7,953.9 135.8,953.7 136.9,953.6 138,953.5 139.1,953.3 140.2,953.2 141.4,953.1 142.5,953 143.6,952.9 144.7,952.9 145.8,952.9 146.9,953 148,953.1 149.1,953.2 150.2,953.3 151.3,953.5 152.4,953.7 153.6,953.8 154.7,953.9 155.8,954 156.9,954.1 158,954.1 159.1,954 160.2,954 161.3,953.9 162.4,953.8 163.5,953.7 164.6,953.5 165.7,953.4 166.9,953.2 168,953.1 169.1,952.9 170.2,952.6 171.3,952.2 172.4,951.6 173.5,951 174.6,950.3 175.7,949.6 176.8,948.8 177.9,947.9 179,947.1 180.2,946.2 181.3,945.2 182.4,944 183.5,942.8 184.6,941.6 185.7,939.8 186.8,939.5 187.9,937.3 189,937 190.1,934.7 191.2,934.4 192.4,932.1 193.5,931.6 194.6,929.1 195.7,928.4 196.8,925.8 197.9,925.1 199,922.4 200.1,921.6 201.2,919.1 202.3,918.4 203.4,915.8 204.5,915 205.7,912.4 206.8,911.5 207.9,908.6 209,907.5 210.1,904.6 211.2,903.6 212.3,900.9 213.4,900.3 214.5,897.7 215.6,896.9 216.7,893.7 217.8,892.1 220.1,885.8 224.2,871.1 228,855.2 232.4,836.7 236.3,814.6 240.1,792.8 244.2,766 248,739.2 251.8,713.3 256,684.2 259.8,653.6 263.6,625.4 267.4,598.6 271,574.4 275.4,560.6 280.7,570 283.6,591.2 287.2,621.2 291.3,652.1 295.1,683.6 298.9,712.8 302.8,734.8 306.6,754.8 310.4,766.6 312.6,773.6 313.7,778.2 314.8,780.9 316,785.2 317.1,787.2 318.2,790.8 319.3,792.4 320.4,795.6 321.5,796.6 322.6,799.4 323.7,800.1 324.8,802.6 325.9,803.1 327,805.3 328.1,805.6 329.3,807.8 330.4,808 331.5,809.9 332.6,810 333.7,811.9 334.8,811.8 335.9,813.5 337,813.4 338.1,815 339.2,814.9 340.3,816.4 341.5,816.2 342.6,817.8 343.7,817.5 344.8,818.9 345.9,818.6 347,820.1 348.1,819.8 349.2,821.1 350.3,820.7 351.4,822.2 352.5,821.7 353.6,823.2 354.8,822.8 355.9,824.3 357,823.8 358.1,825.3 359.2,824.7 360.3,825.8 361.4,825 362.5,826 363.6,825 364.7,826 365.8,825 366.9,825.9 368.1,825 369.2,825.9 370.3,825 371.4,825.9 372.5,825 373.6,826 374.7,825 375.8,825.9 376.9,825 378,825.9 379.1,825 380.3,825.8 381.4,824.9 382.5,825.8 383.6,824.8 384.7,825.7 385.8,824.8 386.9,825.6 388,824.7 389.1,825.5 390.2,824.5 391.3,825.4 392.4,824.3 393.6,825.1 394.7,824.1 395.8,824.8 396.9,823.8 398,824.5 399.1,823.4 400.2,824.1 401.3,822.9 402.4,823.4 403.5,822.1 404.6,822.6 405.7,821.1 406.9,821.5 408,819.8 409.1,819.9 410.2,817.9 411.3,817.6 412.4,815.2 413.5,814.7 414.6,812.3 415.7,811.7 416.8,808.9 417.9,807.9 419.1,804.9 420.2,803.6 421.3,800.3 422.4,798.7 423.5,795.1 424.6,793.4 425.7,789.9 426.8,788.3 427.9,784.8 429,783.2 430.1,779.9 431.2,778.5 432.4,775.3 433.5,774 434.6,770.9 435.7,769.6 436.8,766.5 437.9,765.2 439,762 440.1,760.6 441.2,757.5 442.3,756.3 443.4,753.4 444.5,752.4 445.7,749.6 446.8,748.7 447.9,746 449,745.1 450.1,742.4 451.2,741.5 452.3,738.7 453.4,737.7 454.5,735 455.6,734.1 456.7,731.3 457.9,730.4 459,727.6 460.1,726.7 461.2,724 462.3,723 463.4,720.2 464.5,719.3 465.6,716.5 466.7,715.6 467.8,712.8 468.9,711.9 470,709.1 471.2,708.2 472.3,705.3 473.4,704.3 474.5,701.5 475.6,700.6 476.7,697.9 477.8,697.2 478.9,694.6 480,693.9 481.1,691.4 482.2,690.8 483.3,688.5 484.5,687.9 485.6,685.6 486.7,685.3 487.8,683.2 488.9,682.9 490,680.8 491.1,680.7 492.2,678.7 493.3,678.6 494.4,676.6 495.5,676.5 496.7,674.6 497.8,674.5 498.9,672.6 499.9,672.1"/>
<g fill="#00234b">
<ellipse cx="115.9" cy="952.6" rx="7.35" ry="7.35"/>
<ellipse cx="117" cy="952.6" rx="7.35" ry="7.35"/>
<ellipse cx="118.1" cy="952.7" rx="7.35" ry="7.35"/>
<ellipse cx="119.2" cy="953" rx="7.35" ry="7.35"/>
<ellipse cx="120.3" cy="953.2" rx="7.35" ry="7.35"/>
<ellipse cx="121.4" cy="953.3" rx="7.35" ry="7.35"/>
<ellipse cx="122.5" cy="953.5" rx="7.35" ry="7.35"/>
<ellipse cx="123.6" cy="953.6" rx="7.35" ry="7.35"/>
<ellipse cx="124.7" cy="953.8" rx="7.35" ry="7.35"/>
<ellipse cx="125.8" cy="953.9" rx="7.35" ry="7.35"/>
<ellipse cx="126.9" cy="954" rx="7.35" ry="7.35"/>
<ellipse cx="128.1" cy="954" rx="7.35" ry="7.35"/>
<ellipse cx="129.2" cy="954.1" rx="7.35" ry="7.35"/>
<ellipse cx="130.3" cy="954.1" rx="7.35" ry="7.35"/>
<ellipse cx="131.4" cy="954.1" rx="7.35" ry="7.35"/>
<ellipse cx="132.5" cy="954" rx="7.35" ry="7.35"/>
<ellipse cx="133.6" cy="954" rx="7.35" ry="7.35"/>
<ellipse cx="134.7" cy="953.9" rx="7.35" ry="7.35"/>
<ellipse cx="135.8" cy="953.7" rx="7.35" ry="7.35"/>
<ellipse cx="136.9" cy="953.6" rx="7.35" ry="7.35"/>
<ellipse cx="138" cy="953.5" rx="7.35" ry="7.35"/>
<ellipse cx="139.1" cy="953.3" rx="7.35" ry="7.35"/>
<ellipse cx="140.2" cy="953.2" rx="7.35" ry="7.35"/>
<ellipse cx="141.4" cy="953.1" rx="7.35" ry="7.35"/>
<ellipse cx="142.5" cy="953" rx="7.35" ry="7.35"/>
<ellipse cx="143.6" cy="952.9" rx="7.35" ry="7.35"/>
<ellipse cx="144.7" cy="952.9" rx="7.35" ry="7.35"/>
<ellipse cx="145.8" cy="952.9" rx="7.35" ry="7.35"/>
<ellipse cx="146.9" cy="953" rx="7.35" ry="7.35"/>
<ellipse cx="148" cy="953.1" rx="7.35" ry="7.35"/>
<ellipse cx="149.1" cy="953.2" rx="7.35" ry="7.35"/>
<ellipse cx="150.2" cy="953.3" rx="7.35" ry="7.35"/>
<ellipse cx="151.3" cy="953.5" rx="7.35" ry="7.35"/>
<ellipse cx="152.4" cy="953.7" rx="7.35" ry="7.35"/>
<ellipse cx="153.6" cy="953.8" rx="7.35" ry="7.35"/>
<ellipse cx="154.7" cy="953.9" rx="7.35" ry="7.35"/>
<ellipse cx="155.8" cy="954" rx="7.35" ry="7.35"/>
<ellipse cx="156.9" cy="954.1" rx="7.35" ry="7.35"/>
<ellipse cx="158" cy="954.1" rx="7.35" ry="7.35"/>
<ellipse cx="159.1" cy="954" rx="7.35" ry="7.35"/>
<ellipse cx="160.2" cy="954" rx="7.35" ry="7.35"/>
<ellipse cx="161.3" cy="953.9" rx="7.35" ry="7.35"/>
<ellipse cx="162.4" cy="953.8" rx="7.35" ry="7.35"/>
<ellipse cx="163.5" cy="953.7" rx="7.35" ry="7.35"/>
<ellipse cx="164.6" cy="953.5" rx="7.35" ry="7.35"/>
<ellipse cx="165.7" cy="953.4" rx="7.35" ry="7.35"/>
<ellipse cx="166.9" cy="953.2" rx="7.35" ry="7.35"/>
<ellipse cx="168" cy="953.1" rx="7.35" ry="7.35"/>
<ellipse cx="169.1" cy="952.9" rx="7.35" ry="7.35"/>
<ellipse cx="170.2" cy="952.6" rx="7.35" ry="7.35"/>
<ellipse cx="171.3" cy="952.2" rx="7.35" ry="7.35"/>
<ellipse cx="172.4" cy="951.6" rx="7.35" ry="7.35"/>
<ellipse cx="173.5" cy="951" rx="7.35" ry="7.35"/>
<ellipse cx="174.6" cy="950.3" rx="7.35" ry="7.35"/>
<ellipse cx="175.7" cy="949.6" rx="7.35" ry="7.35"/>
<ellipse cx="176.8" cy="948.8" rx="7.35" ry="7.35"/>
<ellipse cx="177.9" cy="947.9" rx="7.35" ry="7.35"/>
<ellipse cx="179" cy="947.1" rx="7.35" ry="7.35"/>
<ellipse cx="180.2" cy="946.2" rx="7.35" ry="7.35"/>
<ellipse cx="181.3" cy="945.2" rx="7.35" ry="7.35"/>
<ellipse cx="182.4" cy="944" rx="7.35" ry="7.35"/>
<ellipse cx="183.5" cy="942.8" rx="7.35" ry="7.35"/>
<ellipse cx="184.6" cy="941.6" rx="7.35" ry="7.35"/>
<ellipse cx="185.7" cy="939.8" rx="7.35" ry="7.35"/>
<ellipse cx="186.8" cy="939.5" rx="7.35" ry="7.35"/>
<ellipse cx="187.9" cy="937.3" rx="7.35" ry="7.35"/>
<ellipse cx="189" cy="937" rx="7.35" ry="7.35"/>
<ellipse cx="190.1" cy="934.7" rx="7.35" ry="7.35"/>
<ellipse cx="191.2" cy="934.4" rx="7.35" ry="7.35"/>
<ellipse cx="192.4" cy="932.1" rx="7.35" ry="7.35"/>
<ellipse cx="193.5" cy="931.6" rx="7.35" ry="7.35"/>
<ellipse cx="194.6" cy="929.1" rx="7.35" ry="7.35"/>
<ellipse cx="195.7" cy="928.4" rx="7.35" ry="7.35"/>
<ellipse cx="196.8" cy="925.8" rx="7.35" ry="7.35"/>
<ellipse cx="197.9" cy="925.1" rx="7.35" ry="7.35"/>
<ellipse cx="199" cy="922.4" rx="7.35" ry="7.35"/>
<ellipse cx="200.1" cy="921.6" rx="7.35" ry="7.35"/>
<ellipse cx="201.2" cy="919.1" rx="7.35" ry="7.35"/>
<ellipse cx="202.3" cy="918.4" rx="7.35" ry="7.35"/>
<ellipse cx="203.4" cy="915.8" rx="7.35" ry="7.35"/>
<ellipse cx="204.5" cy="915" rx="7.35" ry="7.35"/>
<ellipse cx="205.7" cy="912.4" rx="7.35" ry="7.35"/>
<ellipse cx="206.8" cy="911.5" rx="7.35" ry="7.35"/>
<ellipse cx="207.9" cy="908.6" rx="7.35" ry="7.35"/>
<ellipse cx="209" cy="907.5" rx="7.35" ry="7.35"/>
<ellipse cx="210.1" cy="904.6" rx="7.35" ry="7.35"/>
<ellipse cx="211.2" cy="903.6" rx="7.35" ry="7.35"/>
<ellipse cx="212.3" cy="900.9" rx="7.35" ry="7.35"/>
<ellipse cx="213.4" cy="900.3" rx="7.35" ry="7.35"/>
<ellipse cx="214.5" cy="897.7" rx="7.35" ry="7.35"/>
<ellipse cx="215.6" cy="896.9" rx="7.35" ry="7.35"/>
<ellipse cx="216.7" cy="893.7" rx="7.35" ry="7.35"/>
<ellipse cx="217.8" cy="892.1" rx="7.35" ry="7.35"/>
<ellipse cx="220.1" cy="885.8" rx="7.35" ry="7.35"/>
<ellipse cx="224.2" cy="871.1" rx="7.35" ry="7.35"/>
<ellipse cx="228" cy="855.2" rx="7.35" ry="7.35"/>
<ellipse cx="232.4" cy="836.7" rx="7.35" ry="7.35"/>
<ellipse cx="236.3" cy="814.6" rx="7.35" ry="7.35"/>
<ellipse cx="240.1" cy="792.8" rx="7.35" ry="7.35"/>
<ellipse cx="244.2" cy="766" rx="7.35" ry="7.35"/>
<ellipse cx="248" cy="739.2" rx="7.35" ry="7.35"/>
<ellipse cx="251.8" cy="713.3" rx="7.35" ry="7.35"/>
<ellipse cx="256" cy="684.2" rx="7.35" ry="7.35"/>
<ellipse cx="259.8" cy="653.6" rx="7.35" ry="7.35"/>
<ellipse cx="263.6" cy="625.4" rx="7.35" ry="7.35"/>
<ellipse cx="267.4" cy="598.6" rx="7.35" ry="7.35"/>
<ellipse cx="271" cy="574.4" rx="7.35" ry="7.35"/>
<ellipse cx="275.4" cy="560.6" rx="7.35" ry="7.35"/>
<ellipse cx="280.7" cy="570" rx="7.35" ry="7.35"/>
<ellipse cx="283.6" cy="591.2" rx="7.35" ry="7.35"/>
<ellipse cx="287.2" cy="621.2" rx="7.35" ry="7.35"/>
<ellipse cx="291.3" cy="652.1" rx="7.35" ry="7.35"/>
<ellipse cx="295.1" cy="683.6" rx="7.35" ry="7.35"/>
<ellipse cx="298.9" cy="712.8" rx="7.35" ry="7.35"/>
<ellipse cx="302.8" cy="734.8" rx="7.35" ry="7.35"/>
<ellipse cx="306.6" cy="754.8" rx="7.35" ry="7.35"/>
<ellipse cx="310.4" cy="766.6" rx="7.35" ry="7.35"/>
<ellipse cx="312.6" cy="773.6" rx="7.35" ry="7.35"/>
<ellipse cx="313.7" cy="778.2" rx="7.35" ry="7.35"/>
<ellipse cx="314.8" cy="780.9" rx="7.35" ry="7.35"/>
<ellipse cx="316" cy="785.2" rx="7.35" ry="7.35"/>
<ellipse cx="317.1" cy="787.2" rx="7.35" ry="7.35"/>
<ellipse cx="318.2" cy="790.8" rx="7.35" ry="7.35"/>
<ellipse cx="319.3" cy="792.4" rx="7.35" ry="7.35"/>
<ellipse cx="320.4" cy="795.6" rx="7.35" ry="7.35"/>
<ellipse cx="321.5" cy="796.6" rx="7.35" ry="7.35"/>
<ellipse cx="322.6" cy="799.4" rx="7.35" ry="7.35"/>
<ellipse cx="323.7" cy="800.1" rx="7.35" ry="7.35"/>
<ellipse cx="324.8" cy="802.6" rx="7.35" ry="7.35"/>
<ellipse cx="325.9" cy="803.1" rx="7.35" ry="7.35"/>
<ellipse cx="327" cy="805.3" rx="7.35" ry="7.35"/>
<ellipse cx="328.1" cy="805.6" rx="7.35" ry="7.35"/>
<ellipse cx="329.3" cy="807.8" rx="7.35" ry="7.35"/>
<ellipse cx="330.4" cy="808" rx="7.35" ry="7.35"/>
<ellipse cx="331.5" cy="809.9" rx="7.35" ry="7.35"/>
<ellipse cx="332.6" cy="810" rx="7.35" ry="7.35"/>
<ellipse cx="333.7" cy="811.9" rx="7.35" ry="7.35"/>
<ellipse cx="334.8" cy="811.8" rx="7.35" ry="7.35"/>
<ellipse cx="335.9" cy="813.5" rx="7.35" ry="7.35"/>
<ellipse cx="337" cy="813.4" rx="7.35" ry="7.35"/>
<ellipse cx="338.1" cy="815" rx="7.35" ry="7.35"/>
<ellipse cx="339.2" cy="814.9" rx="7.35" ry="7.35"/>
<ellipse cx="340.3" cy="816.4" rx="7.35" ry="7.35"/>
<ellipse cx="341.5" cy="816.2" rx="7.35" ry="7.35"/>
<ellipse cx="342.6" cy="817.8" rx="7.35" ry="7.35"/>
<ellipse cx="343.7" cy="817.5" rx="7.35" ry="7.35"/>
<ellipse cx="344.8" cy="818.9" rx="7.35" ry="7.35"/>
<ellipse cx="345.9" cy="818.6" rx="7.35" ry="7.35"/>
<ellipse cx="347" cy="820.1" rx="7.35" ry="7.35"/>
<ellipse cx="348.1" cy="819.8" rx="7.35" ry="7.35"/>
<ellipse cx="349.2" cy="821.1" rx="7.35" ry="7.35"/>
<ellipse cx="350.3" cy="820.7" rx="7.35" ry="7.35"/>
<ellipse cx="351.4" cy="822.2" rx="7.35" ry="7.35"/>
<ellipse cx="352.5" cy="821.7" rx="7.35" ry="7.35"/>
<ellipse cx="353.6" cy="823.2" rx="7.35" ry="7.35"/>
<ellipse cx="354.8" cy="822.8" rx="7.35" ry="7.35"/>
<ellipse cx="355.9" cy="824.3" rx="7.35" ry="7.35"/>
<ellipse cx="357" cy="823.8" rx="7.35" ry="7.35"/>
<ellipse cx="358.1" cy="825.3" rx="7.35" ry="7.35"/>
<ellipse cx="359.2" cy="824.7" rx="7.35" ry="7.35"/>
<ellipse cx="360.3" cy="825.8" rx="7.35" ry="7.35"/>
<ellipse cx="361.4" cy="825" rx="7.35" ry="7.35"/>
<ellipse cx="362.5" cy="826" rx="7.35" ry="7.35"/>
<ellipse cx="363.6" cy="825" rx="7.35" ry="7.35"/>
<ellipse cx="364.7" cy="826" rx="7.35" ry="7.35"/>
<ellipse cx="365.8" cy="825" rx="7.35" ry="7.35"/>
<ellipse cx="366.9" cy="825.9" rx="7.35" ry="7.35"/>
<ellipse cx="368.1" cy="825" rx="7.35" ry="7.35"/>
<ellipse cx="369.2" cy="825.9" rx="7.35" ry="7.35"/>
<ellipse cx="370.3" cy="825" rx="7.35" ry="7.35"/>
<ellipse cx="371.4" cy="825.9" rx="7.35" ry="7.35"/>
<ellipse cx="372.5" cy="825" rx="7.35" ry="7.35"/>
<ellipse cx="373.6" cy="826" rx="7.35" ry="7.35"/>
<ellipse cx="374.7" cy="825" rx="7.35" ry="7.35"/>
<ellipse cx="375.8" cy="825.9" rx="7.35" ry="7.35"/>
<ellipse cx="376.9" cy="825" rx="7.35" ry="7.35"/>
<ellipse cx="378" cy="825.9" rx="7.35" ry="7.35"/>
<ellipse cx="379.1" cy="825" rx="7.35" ry="7.35"/>
<ellipse cx="380.3" cy="825.8" rx="7.35" ry="7.35"/>
<ellipse cx="381.4" cy="824.9" rx="7.35" ry="7.35"/>
<ellipse cx="382.5" cy="825.8" rx="7.35" ry="7.35"/>
<ellipse cx="383.6" cy="824.8" rx="7.35" ry="7.35"/>
<ellipse cx="384.7" cy="825.7" rx="7.35" ry="7.35"/>
<ellipse cx="385.8" cy="824.8" rx="7.35" ry="7.35"/>
<ellipse cx="386.9" cy="825.6" rx="7.35" ry="7.35"/>
<ellipse cx="388" cy="824.7" rx="7.35" ry="7.35"/>
<ellipse cx="389.1" cy="825.5" rx="7.35" ry="7.35"/>
<ellipse cx="390.2" cy="824.5" rx="7.35" ry="7.35"/>
<ellipse cx="391.3" cy="825.4" rx="7.35" ry="7.35"/>
<ellipse cx="392.4" cy="824.3" rx="7.35" ry="7.35"/>
<ellipse cx="393.6" cy="825.1" rx="7.35" ry="7.35"/>
<ellipse cx="394.7" cy="824.1" rx="7.35" ry="7.35"/>
<ellipse cx="395.8" cy="824.8" rx="7.35" ry="7.35"/>
<ellipse cx="396.9" cy="823.8" rx="7.35" ry="7.35"/>
<ellipse cx="398" cy="824.5" rx="7.35" ry="7.35"/>
<ellipse cx="399.1" cy="823.4" rx="7.35" ry="7.35"/>
<ellipse cx="400.2" cy="824.1" rx="7.35" ry="7.35"/>
<ellipse cx="401.3" cy="822.9" rx="7.35" ry="7.35"/>
<ellipse cx="402.4" cy="823.4" rx="7.35" ry="7.35"/>
<ellipse cx="403.5" cy="822.1" rx="7.35" ry="7.35"/>
<ellipse cx="404.6" cy="822.6" rx="7.35" ry="7.35"/>
<ellipse cx="405.7" cy="821.1" rx="7.35" ry="7.35"/>
<ellipse cx="406.9" cy="821.5" rx="7.35" ry="7.35"/>
<ellipse cx="408" cy="819.8" rx="7.35" ry="7.35"/>
<ellipse cx="409.1" cy="819.9" rx="7.35" ry="7.35"/>
<ellipse cx="410.2" cy="817.9" rx="7.35" ry="7.35"/>
<ellipse cx="411.3" cy="817.6" rx="7.35" ry="7.35"/>
<ellipse cx="412.4" cy="815.2" rx="7.35" ry="7.35"/>
<ellipse cx="413.5" cy="814.7" rx="7.35" ry="7.35"/>
<ellipse cx="414.6" cy="812.3" rx="7.35" ry="7.35"/>
<ellipse cx="415.7" cy="811.7" rx="7.35" ry="7.35"/>
<ellipse cx="416.8" cy="808.9" rx="7.35" ry="7.35"/>
<ellipse cx="417.9" cy="807.9" rx="7.35" ry="7.35"/>
<ellipse cx="419.1" cy="804.9" rx="7.35" ry="7.35"/>
<ellipse cx="420.2" cy="803.6" rx="7.35" ry="7.35"/>
<ellipse cx="421.3" cy="800.3" rx="7.35" ry="7.35"/>
<ellipse cx="422.4" cy="798.7" rx="7.35" ry="7.35"/>
<ellipse cx="423.5" cy="795.1" rx="7.35" ry="7.35"/>
<ellipse cx="424.6" cy="793.4" rx="7.35" ry="7.35"/>
<ellipse cx="425.7" cy="789.9" rx="7.35" ry="7.35"/>
<ellipse cx="426.8" cy="788.3" rx="7.35" ry="7.35"/>
<ellipse cx="427.9" cy="784.8" rx="7.35" ry="7.35"/>
<ellipse cx="429" cy="783.2" rx="7.35" ry="7.35"/>
<ellipse cx="430.1" cy="779.9" rx="7.35" ry="7.35"/>
<ellipse cx="431.2" cy="778.5" rx="7.35" ry="7.35"/>
<ellipse cx="432.4" cy="775.3" rx="7.35" ry="7.35"/>
<ellipse cx="433.5" cy="774" rx="7.35" ry="7.35"/>
<ellipse cx="434.6" cy="770.9" rx="7.35" ry="7.35"/>
<ellipse cx="435.7" cy="769.6" rx="7.35" ry="7.35"/>
<ellipse cx="436.8" cy="766.5" rx="7.35" ry="7.35"/>
<ellipse cx="437.9" cy="765.2" rx="7.35" ry="7.35"/>
<ellipse cx="439" cy="762" rx="7.35" ry="7.35"/>
<ellipse cx="440.1" cy="760.6" rx="7.35" ry="7.35"/>
<ellipse cx="441.2" cy="757.5" rx="7.35" ry="7.35"/>
<ellipse cx="442.3" cy="756.3" rx="7.35" ry="7.35"/>
<ellipse cx="443.4" cy="753.4" rx="7.35" ry="7.35"/>
<ellipse cx="444.5" cy="752.4" rx="7.35" ry="7.35"/>
<ellipse cx="445.7" cy="749.6" rx="7.35" ry="7.35"/>
<ellipse cx="446.8" cy="748.7" rx="7.35" ry="7.35"/>
<ellipse cx="447.9" cy="746" rx="7.35" ry="7.35"/>
<ellipse cx="449" cy="745.1" rx="7.35" ry="7.35"/>
<ellipse cx="450.1" cy="742.4" rx="7.35" ry="7.35"/>
<ellipse cx="451.2" cy="741.5" rx="7.35" ry="7.35"/>
<ellipse cx="452.3" cy="738.7" rx="7.35" ry="7.35"/>
<ellipse cx="453.4" cy="737.7" rx="7.35" ry="7.35"/>
<ellipse cx="454.5" cy="735" rx="7.35" ry="7.35"/>
<ellipse cx="455.6" cy="734.1" rx="7.35" ry="7.35"/>
<ellipse cx="456.7" cy="731.3" rx="7.35" ry="7.35"/>
<ellipse cx="457.9" cy="730.4" rx="7.35" ry="7.35"/>
<ellipse cx="459" cy="727.6" rx="7.35" ry="7.35"/>
<ellipse cx="460.1" cy="726.7" rx="7.35" ry="7.35"/>
<ellipse cx="461.2" cy="724" rx="7.35" ry="7.35"/>
<ellipse cx="462.3" cy="723" rx="7.35" ry="7.35"/>
<ellipse cx="463.4" cy="720.2" rx="7.35" ry="7.35"/>
<ellipse cx="464.5" cy="719.3" rx="7.35" ry="7.35"/>
<ellipse cx="465.6" cy="716.5" rx="7.35" ry="7.35"/>
<ellipse cx="466.7" cy="715.6" rx="7.35" ry="7.35"/>
<ellipse cx="467.8" cy="712.8" rx="7.35" ry="7.35"/>
<ellipse cx="468.9" cy="711.9" rx="7.35" ry="7.35"/>
<ellipse cx="470" cy="709.1" rx="7.35" ry="7.35"/>
<ellipse cx="471.2" cy="708.2" rx="7.35" ry="7.35"/>
<ellipse cx="472.3" cy="705.3" rx="7.35" ry="7.35"/>
<ellipse cx="473.4" cy="704.3" rx="7.35" ry="7.35"/>
<ellipse cx="474.5" cy="701.5" rx="7.35" ry="7.35"/>
<ellipse cx="475.6" cy="700.6" rx="7.35" ry="7.35"/>
<ellipse cx="476.7" cy="697.9" rx="7.35" ry="7.35"/>
<ellipse cx="477.8" cy="697.2" rx="7.35" ry="7.35"/>
<ellipse cx="478.9" cy="694.6" rx="7.35" ry="7.35"/>
<ellipse cx="480" cy="693.9" rx="7.35" ry="7.35"/>
<ellipse cx="481.1" cy="691.4" rx="7.35" ry="7.35"/>
<ellipse cx="482.2" cy="690.8" rx="7.35" ry="7.35"/>
<ellipse cx="483.3" cy="688.5" rx="7.35" ry="7.35"/>
<ellipse cx="484.5" cy="687.9" rx="7.35" ry="7.35"/>
<ellipse cx="485.6" cy="685.6" rx="7.35" ry="7.35"/>
<ellipse cx="486.7" cy="685.3" rx="7.35" ry="7.35"/>
<ellipse cx="487.8" cy="683.2" rx="7.35" ry="7.35"/>
<ellipse cx="488.9" cy="682.9" rx="7.35" ry="7.35"/>
<ellipse cx="490" cy="680.8" rx="7.35" ry="7.35"/>
<ellipse cx="491.1" cy="680.7" rx="7.35" ry="7.35"/>
<ellipse cx="492.2" cy="678.7" rx="7.35" ry="7.35"/>
<ellipse cx="493.3" cy="678.6" rx="7.35" ry="7.35"/>
<ellipse cx="494.4" cy="676.6" rx="7.35" ry="7.35"/>
<ellipse cx="495.5" cy="676.5" rx="7.35" ry="7.35"/>
<ellipse cx="496.7" cy="674.6" rx="7.35" ry="7.35"/>
<ellipse cx="497.8" cy="674.5" rx="7.35" ry="7.35"/>
<ellipse cx="498.9" cy="672.6" rx="7.35" ry="7.35"/>
<ellipse cx="499.9" cy="672.1" rx="7.35" ry="7.35"/>
<ellipse cx="372.8" cy="820.2" rx="7.35" ry="7.35"/>
</g>
</g>
<g stroke="#000" fill="none" stroke-linecap="butt">
<path d="M117.2 529.1V954.2" stroke-width="4.0"/>
<path d="M538.4 529.1V954.2" stroke-width="2.9"/>
<path d="M109.2 952.5H546.4" stroke-width="3.4"/>
<path d="M109.2 952.5H125.2M109.2 868.2H125.2M109.2 783.8H125.2M109.2 699.5H125.2M109.2 615.1H125.2M109.2 530.8H125.2M530.4 952.5H546.4M530.4 868.2H546.4M530.4 783.8H546.4M530.4 699.5H546.4M530.4 615.1H546.4M530.4 530.8H546.4M117.2 944.5V960.5M201.4 944.5V960.5M285.7 944.5V960.5M369.9 944.5V960.5M454.2 944.5V960.5M538.4 944.5V960.5" stroke-width="3.3"/>
<path d="M117.2 935.6H123.7M117.2 918.8H123.7M117.2 901.9H123.7M117.2 885H123.7M117.2 851.3H123.7M117.2 834.4H123.7M117.2 817.6H123.7M117.2 800.7H123.7M117.2 767H123.7M117.2 750.1H123.7M117.2 733.2H123.7M117.2 716.3H123.7M117.2 682.6H123.7M117.2 665.7H123.7M117.2 648.9H123.7M117.2 632H123.7M117.2 598.3H123.7M117.2 581.4H123.7M117.2 564.5H123.7M117.2 547.7H123.7M531.9 935.6H538.4M531.9 918.8H538.4M531.9 901.9H538.4M531.9 885H538.4M531.9 851.3H538.4M531.9 834.4H538.4M531.9 817.6H538.4M531.9 800.7H538.4M531.9 767H538.4M531.9 750.1H538.4M531.9 733.2H538.4M531.9 716.3H538.4M531.9 682.6H538.4M531.9 665.7H538.4M531.9 648.9H538.4M531.9 632H538.4M531.9 598.3H538.4M531.9 581.4H538.4M531.9 564.5H538.4M531.9 547.7H538.4M134 946V952.5M150.9 946V952.5M167.7 946V952.5M184.6 946V952.5M218.3 946V952.5M235.1 946V952.5M252 946V952.5M268.8 946V952.5M302.5 946V952.5M319.4 946V952.5M336.2 946V952.5M353.1 946V952.5M386.8 946V952.5M403.6 946V952.5M420.5 946V952.5M437.3 946V952.5M471 946V952.5M487.9 946V952.5M504.7 946V952.5M521.6 946V952.5" stroke-width="2.3"/>
</g>
<g font-family='"Liberation Sans", Arial, Helvetica, sans-serif' font-size="16.2" fill="#000" stroke="#000" stroke-width="0.35">
<text transform="translate(61.5 958.5) scale(1.125 1)">0</text>
<text transform="translate(61.5 874.2) scale(1.125 1)">200</text>
<text transform="translate(61.5 789.8) scale(1.125 1)">400</text>
<text transform="translate(61.5 705.5) scale(1.125 1)">600</text>
<text transform="translate(61.5 621.1) scale(1.125 1)">800</text>
<text transform="translate(61.5 536.8) scale(1.125 1)">1000</text>
<text transform="translate(569.2 958.5) scale(1.125 1)">0.00</text>
<text transform="translate(569.2 874.2) scale(1.125 1)">20.00</text>
<text transform="translate(569.2 789.8) scale(1.125 1)">40.00</text>
<text transform="translate(569.2 705.5) scale(1.125 1)">60.00</text>
<text transform="translate(569.2 621.1) scale(1.125 1)">80.00</text>
<text transform="translate(569.2 536.8) scale(1.125 1)">100.00</text>
<text text-anchor="middle" transform="translate(125.2 976.2) scale(1.125 1)">0.0</text>
<text text-anchor="middle" transform="translate(209.4 976.2) scale(1.125 1)">5.0</text>
<text text-anchor="middle" transform="translate(293.7 976.2) scale(1.125 1)">10.0</text>
<text text-anchor="middle" transform="translate(377.9 976.2) scale(1.125 1)">15.0</text>
<text text-anchor="middle" transform="translate(462.2 976.2) scale(1.125 1)">20.0</text>
<text text-anchor="middle" transform="translate(546.4 976.2) scale(1.125 1)">25.0</text>
</g>
<g font-family='"Liberation Sans", Arial, Helvetica, sans-serif' font-size="16.5" fill="#000" stroke="#000" stroke-width="0.35">
<text transform="translate(273.3 1004.9) scale(1.1251 1)">Time t  in min</text>
<text transform="translate(41.5 808.9) rotate(-90) scale(1.0412 1.12)">Viscosity  η  in cP</text>
<text transform="translate(642.2 822.7) rotate(-90) scale(1.0657 1.12)">Temperature T  in °C</text>
</g>
<text x="311" y="1034.3" font-family='"Liberation Sans", Arial, sans-serif' font-size="12" fill="#8f93a3" clip-path="url(#clipA)">Anton Paar</text>
</g>
<!-- 90FT -->
<g>
<g stroke-width="1" stroke-dasharray="9.4 2.9" fill="none">
<path d="M904 872.5H1349.3" stroke="#c8c8c8"/>
<path d="M904 785.5H1349.3" stroke="#6c6c6c"/>
<path d="M904 698.5H1349.3" stroke="#6c6c6c"/>
<path d="M904 611.5H1349.3" stroke="#c8c8c8"/>
<path d="M993.5 524.2V959.3" stroke="#6c6c6c"/>
<path d="M1082.5 524.2V959.3" stroke="#6c6c6c"/>
<path d="M1171.5 524.2V959.3" stroke="#6c6c6c"/>
<path d="M1260.5 524.2V959.3" stroke="#6c6c6c"/>
</g>
<path d="M904 524.2H1349.3" stroke="#000" stroke-width="1.3" fill="none"/>
<clipPath id="cp_90FT"><rect x="904" y="524.2" width="445.3" height="435.1"/></clipPath>
<g clip-path="url(#cp_90FT)">
<polyline fill="none" stroke="#ff8000" stroke-width="1.35" stroke-linejoin="round" points="904,740.4 920.6,740.7 928.9,731.9 951.4,698.2 994,638.8 1013.2,611.8 1028.3,592.2 1066.6,549.2 1081.4,547.3 1143.7,546.2 1170.6,581.8 1189.9,611.5 1208.2,638.8 1222.7,659.7 1238.9,680.5 1251.7,695.8 1259.3,706.2 1272.5,719.9 1285.4,731.9 1294.1,739.1"/>
<polyline fill="none" stroke="#ff8000" stroke-width="1.4" stroke-linejoin="round" points="902.6,958.3 903.8,958.3 905,958.1 906.1,957.9 907.3,957.8 908.5,957.7 909.6,957.5 910.8,957.4 912,957.3 913.1,957.2 914.3,957.1 915.5,957.1 916.6,957 917.8,956.9 918.9,956.9 920.1,956.8 921.3,956.8 922.4,956.8 923.6,956.8 924.8,956.8 925.9,956.8 927.1,956.8 928.3,956.9 929.4,956.9 930.6,957.1 931.8,957.2 932.9,957.3 934.1,957.5 935.3,957.6 936.4,957.7 937.6,957.8 938.8,957.9 939.9,958 941.1,958 942.3,958 943.4,958 944.6,957.9 945.8,957.8 946.9,957.8 948.1,957.6 949.3,957.5 950.4,957.4 951.6,957.2 952.8,957.1 953.9,956.9 955.1,956.7 956.3,956.5 957.4,956.3 958.6,956 959.7,955.7 960.9,955.2 962.1,954.7 963.2,954 964.4,953.3 965.6,952.6 966.7,951.9 967.9,951.2 969.1,950.4 970.2,949.5 971.4,948.6 972.6,947.7 973.7,946.7 974.9,945.8 976.1,944.4 977.2,944.4 978.4,942.5 979.6,942.4 980.7,940.5 981.9,940.4 983.1,938.4 984.2,938.4 985.4,936.4 986.6,936.2 987.7,934.2 988.9,934 990.1,931.8 991.2,931.2 992.4,928.7 993.6,927.8 994.7,925.1 995.9,924.1 997.1,921.3 998.2,920.3 999.4,917.5 1000.5,916.6 1001.7,914.2 1004,911.5 1008.8,898.3 1012.8,878.3 1017.2,855.2 1020.8,826.9 1025.2,796.2 1029.2,763.5 1033.5,730 1037.5,697.7 1041.8,669.1 1045.8,641.7 1049.8,617.7 1054.1,599.2 1058.1,588.5 1062.7,583.2 1066.7,592.5 1070.4,615.2 1075,647.8 1079,682.3 1083.3,713.1 1087.3,739.2 1091.3,762.3 1095.6,778.6 1098.7,791.5 1101.8,800.8 1104.1,806.1 1105.3,809.5 1106.4,810.7 1107.6,813.7 1108.8,814.5 1109.9,817.1 1111.1,817.8 1112.3,820.1 1113.4,820.6 1114.6,822.8 1115.8,823.1 1116.9,825.1 1118.1,825.3 1119.3,827.2 1120.4,827 1121.6,828.7 1122.8,828.4 1123.9,830.1 1125.1,829.7 1126.2,831.2 1127.4,830.8 1128.6,832.3 1129.7,831.8 1130.9,833.1 1132.1,832.6 1133.2,833.9 1134.4,833.3 1135.6,834.5 1136.7,833.9 1137.9,835.1 1139.1,834.5 1140.2,835.7 1141.4,835.2 1142.6,836.5 1143.7,836 1144.9,837.2 1146.1,836.8 1147.2,838.1 1148.4,837.6 1149.6,838.9 1150.7,838.3 1151.9,839.5 1153.1,838.7 1154.2,839.7 1155.4,838.9 1156.6,839.9 1157.7,839 1158.9,840 1160.1,839.1 1161.2,840 1162.4,839.2 1163.6,840.2 1164.7,839.3 1165.9,840.3 1167,839.5 1168.2,840.6 1169.4,839.8 1170.5,840.9 1171.7,840.3 1172.9,841.4 1174,840.7 1175.2,841.8 1176.4,841.1 1177.5,842.1 1178.7,841.3 1179.9,842.3 1181,841.5 1182.2,842.4 1183.4,841.6 1184.5,842.6 1185.7,841.7 1186.9,842.7 1188,841.8 1189.2,842.7 1190.4,841.9 1191.5,842.7 1192.7,841.8 1193.9,842.6 1195,841.5 1196.2,842.3 1197.4,841.3 1198.5,842 1199.7,840.9 1200.9,841.6 1202,840.4 1203.2,841.2 1204.4,839.9 1205.5,840.4 1206.7,839 1207.8,839.4 1209,838 1210.2,838.2 1211.3,836.6 1212.5,836.9 1213.7,835.1 1214.8,835.1 1216,833.1 1217.2,833 1218.3,830.9 1219.5,830.6 1220.7,828.5 1221.8,828.2 1223,826 1224.2,825.5 1225.3,823.2 1226.5,822.7 1227.7,820.4 1228.8,819.9 1230,817.7 1231.2,817.3 1232.3,815.2 1233.5,814.9 1234.7,812.9 1235.8,812.7 1237,810.6 1238.2,810.4 1239.3,808.3 1240.5,808.1 1241.7,806 1242.8,805.7 1244,803.6 1245.2,803.3 1246.3,801.1 1247.5,800.7 1248.6,798.5 1249.8,798.1 1251,795.9 1252.1,795.5 1253.3,793.3 1254.5,792.9 1255.6,790.7 1256.8,790.4 1258,788.1 1259.1,787.7 1260.3,785.5 1261.5,785.2 1262.6,783 1263.8,782.6 1265,780.4 1266.1,780.1 1267.3,777.9 1268.5,777.5 1269.6,775.3 1270.8,774.9 1272,772.7 1273.1,772.4 1274.3,770.1 1275.5,769.8 1276.6,767.6 1277.8,767.2 1279,765 1280.1,764.6 1281.3,762.3 1282.5,762 1283.6,759.8 1284.8,759.5 1286,757.2 1287.1,756.9 1288.3,754.7 1289.4,754.4 1290.6,752.4 1291.8,752.1 1292.9,750 1294.1,749.8 1295.3,747.8 1296.4,747.5 1297.6,745.4 1298.8,745.2 1299.9,743.1 1301.1,742.8 1302.3,740.6 1303.4,740.3 1304.6,738.2 1305.8,737.8 1306.9,735.6 1308.2,734.6"/>
<g fill="#ff8000">
<ellipse cx="902.6" cy="958.3" rx="7.9" ry="7.9"/>
<ellipse cx="903.8" cy="958.3" rx="7.9" ry="7.9"/>
<ellipse cx="905" cy="958.1" rx="7.9" ry="7.9"/>
<ellipse cx="906.1" cy="957.9" rx="7.9" ry="7.9"/>
<ellipse cx="907.3" cy="957.8" rx="7.9" ry="7.9"/>
<ellipse cx="908.5" cy="957.7" rx="7.9" ry="7.9"/>
<ellipse cx="909.6" cy="957.5" rx="7.9" ry="7.9"/>
<ellipse cx="910.8" cy="957.4" rx="7.9" ry="7.9"/>
<ellipse cx="912" cy="957.3" rx="7.9" ry="7.9"/>
<ellipse cx="913.1" cy="957.2" rx="7.9" ry="7.9"/>
<ellipse cx="914.3" cy="957.1" rx="7.9" ry="7.9"/>
<ellipse cx="915.5" cy="957.1" rx="7.9" ry="7.9"/>
<ellipse cx="916.6" cy="957" rx="7.9" ry="7.9"/>
<ellipse cx="917.8" cy="956.9" rx="7.9" ry="7.9"/>
<ellipse cx="918.9" cy="956.9" rx="7.9" ry="7.9"/>
<ellipse cx="920.1" cy="956.8" rx="7.9" ry="7.9"/>
<ellipse cx="921.3" cy="956.8" rx="7.9" ry="7.9"/>
<ellipse cx="922.4" cy="956.8" rx="7.9" ry="7.9"/>
<ellipse cx="923.6" cy="956.8" rx="7.9" ry="7.9"/>
<ellipse cx="924.8" cy="956.8" rx="7.9" ry="7.9"/>
<ellipse cx="925.9" cy="956.8" rx="7.9" ry="7.9"/>
<ellipse cx="927.1" cy="956.8" rx="7.9" ry="7.9"/>
<ellipse cx="928.3" cy="956.9" rx="7.9" ry="7.9"/>
<ellipse cx="929.4" cy="956.9" rx="7.9" ry="7.9"/>
<ellipse cx="930.6" cy="957.1" rx="7.9" ry="7.9"/>
<ellipse cx="931.8" cy="957.2" rx="7.9" ry="7.9"/>
<ellipse cx="932.9" cy="957.3" rx="7.9" ry="7.9"/>
<ellipse cx="934.1" cy="957.5" rx="7.9" ry="7.9"/>
<ellipse cx="935.3" cy="957.6" rx="7.9" ry="7.9"/>
<ellipse cx="936.4" cy="957.7" rx="7.9" ry="7.9"/>
<ellipse cx="937.6" cy="957.8" rx="7.9" ry="7.9"/>
<ellipse cx="938.8" cy="957.9" rx="7.9" ry="7.9"/>
<ellipse cx="939.9" cy="958" rx="7.9" ry="7.9"/>
<ellipse cx="941.1" cy="958" rx="7.9" ry="7.9"/>
<ellipse cx="942.3" cy="958" rx="7.9" ry="7.9"/>
<ellipse cx="943.4" cy="958" rx="7.9" ry="7.9"/>
<ellipse cx="944.6" cy="957.9" rx="7.9" ry="7.9"/>
<ellipse cx="945.8" cy="957.8" rx="7.9" ry="7.9"/>
<ellipse cx="946.9" cy="957.8" rx="7.9" ry="7.9"/>
<ellipse cx="948.1" cy="957.6" rx="7.9" ry="7.9"/>
<ellipse cx="949.3" cy="957.5" rx="7.9" ry="7.9"/>
<ellipse cx="950.4" cy="957.4" rx="7.9" ry="7.9"/>
<ellipse cx="951.6" cy="957.2" rx="7.9" ry="7.9"/>
<ellipse cx="952.8" cy="957.1" rx="7.9" ry="7.9"/>
<ellipse cx="953.9" cy="956.9" rx="7.9" ry="7.9"/>
<ellipse cx="955.1" cy="956.7" rx="7.9" ry="7.9"/>
<ellipse cx="956.3" cy="956.5" rx="7.9" ry="7.9"/>
<ellipse cx="957.4" cy="956.3" rx="7.9" ry="7.9"/>
<ellipse cx="958.6" cy="956" rx="7.9" ry="7.9"/>
<ellipse cx="959.7" cy="955.7" rx="7.9" ry="7.9"/>
<ellipse cx="960.9" cy="955.2" rx="7.9" ry="7.9"/>
<ellipse cx="962.1" cy="954.7" rx="7.9" ry="7.9"/>
<ellipse cx="963.2" cy="954" rx="7.9" ry="7.9"/>
<ellipse cx="964.4" cy="953.3" rx="7.9" ry="7.9"/>
<ellipse cx="965.6" cy="952.6" rx="7.9" ry="7.9"/>
<ellipse cx="966.7" cy="951.9" rx="7.9" ry="7.9"/>
<ellipse cx="967.9" cy="951.2" rx="7.9" ry="7.9"/>
<ellipse cx="969.1" cy="950.4" rx="7.9" ry="7.9"/>
<ellipse cx="970.2" cy="949.5" rx="7.9" ry="7.9"/>
<ellipse cx="971.4" cy="948.6" rx="7.9" ry="7.9"/>
<ellipse cx="972.6" cy="947.7" rx="7.9" ry="7.9"/>
<ellipse cx="973.7" cy="946.7" rx="7.9" ry="7.9"/>
<ellipse cx="974.9" cy="945.8" rx="7.9" ry="7.9"/>
<ellipse cx="976.1" cy="944.4" rx="7.9" ry="7.9"/>
<ellipse cx="977.2" cy="944.4" rx="7.9" ry="7.9"/>
<ellipse cx="978.4" cy="942.5" rx="7.9" ry="7.9"/>
<ellipse cx="979.6" cy="942.4" rx="7.9" ry="7.9"/>
<ellipse cx="980.7" cy="940.5" rx="7.9" ry="7.9"/>
<ellipse cx="981.9" cy="940.4" rx="7.9" ry="7.9"/>
<ellipse cx="983.1" cy="938.4" rx="7.9" ry="7.9"/>
<ellipse cx="984.2" cy="938.4" rx="7.9" ry="7.9"/>
<ellipse cx="985.4" cy="936.4" rx="7.9" ry="7.9"/>
<ellipse cx="986.6" cy="936.2" rx="7.9" ry="7.9"/>
<ellipse cx="987.7" cy="934.2" rx="7.9" ry="7.9"/>
<ellipse cx="988.9" cy="934" rx="7.9" ry="7.9"/>
<ellipse cx="990.1" cy="931.8" rx="7.9" ry="7.9"/>
<ellipse cx="991.2" cy="931.2" rx="7.9" ry="7.9"/>
<ellipse cx="992.4" cy="928.7" rx="7.9" ry="7.9"/>
<ellipse cx="993.6" cy="927.8" rx="7.9" ry="7.9"/>
<ellipse cx="994.7" cy="925.1" rx="7.9" ry="7.9"/>
<ellipse cx="995.9" cy="924.1" rx="7.9" ry="7.9"/>
<ellipse cx="997.1" cy="921.3" rx="7.9" ry="7.9"/>
<ellipse cx="998.2" cy="920.3" rx="7.9" ry="7.9"/>
<ellipse cx="999.4" cy="917.5" rx="7.9" ry="7.9"/>
<ellipse cx="1000.5" cy="916.6" rx="7.9" ry="7.9"/>
<ellipse cx="1001.7" cy="914.2" rx="7.9" ry="7.9"/>
<ellipse cx="1004" cy="911.5" rx="7.9" ry="7.9"/>
<ellipse cx="1008.8" cy="898.3" rx="7.9" ry="7.9"/>
<ellipse cx="1012.8" cy="878.3" rx="7.9" ry="7.9"/>
<ellipse cx="1017.2" cy="855.2" rx="7.9" ry="7.9"/>
<ellipse cx="1020.8" cy="826.9" rx="7.9" ry="7.9"/>
<ellipse cx="1025.2" cy="796.2" rx="7.9" ry="7.9"/>
<ellipse cx="1029.2" cy="763.5" rx="7.9" ry="7.9"/>
<ellipse cx="1033.5" cy="730" rx="7.9" ry="7.9"/>
<ellipse cx="1037.5" cy="697.7" rx="7.9" ry="7.9"/>
<ellipse cx="1041.8" cy="669.1" rx="7.9" ry="7.9"/>
<ellipse cx="1045.8" cy="641.7" rx="7.9" ry="7.9"/>
<ellipse cx="1049.8" cy="617.7" rx="7.9" ry="7.9"/>
<ellipse cx="1054.1" cy="599.2" rx="7.9" ry="7.9"/>
<ellipse cx="1058.1" cy="588.5" rx="7.9" ry="7.9"/>
<ellipse cx="1062.7" cy="583.2" rx="7.9" ry="7.9"/>
<ellipse cx="1066.7" cy="592.5" rx="7.9" ry="7.9"/>
<ellipse cx="1070.4" cy="615.2" rx="7.9" ry="7.9"/>
<ellipse cx="1075" cy="647.8" rx="7.9" ry="7.9"/>
<ellipse cx="1079" cy="682.3" rx="7.9" ry="7.9"/>
<ellipse cx="1083.3" cy="713.1" rx="7.9" ry="7.9"/>
<ellipse cx="1087.3" cy="739.2" rx="7.9" ry="7.9"/>
<ellipse cx="1091.3" cy="762.3" rx="7.9" ry="7.9"/>
<ellipse cx="1095.6" cy="778.6" rx="7.9" ry="7.9"/>
<ellipse cx="1098.7" cy="791.5" rx="7.9" ry="7.9"/>
<ellipse cx="1101.8" cy="800.8" rx="7.9" ry="7.9"/>
<ellipse cx="1104.1" cy="806.1" rx="7.9" ry="7.9"/>
<ellipse cx="1105.3" cy="809.5" rx="7.9" ry="7.9"/>
<ellipse cx="1106.4" cy="810.7" rx="7.9" ry="7.9"/>
<ellipse cx="1107.6" cy="813.7" rx="7.9" ry="7.9"/>
<ellipse cx="1108.8" cy="814.5" rx="7.9" ry="7.9"/>
<ellipse cx="1109.9" cy="817.1" rx="7.9" ry="7.9"/>
<ellipse cx="1111.1" cy="817.8" rx="7.9" ry="7.9"/>
<ellipse cx="1112.3" cy="820.1" rx="7.9" ry="7.9"/>
<ellipse cx="1113.4" cy="820.6" rx="7.9" ry="7.9"/>
<ellipse cx="1114.6" cy="822.8" rx="7.9" ry="7.9"/>
<ellipse cx="1115.8" cy="823.1" rx="7.9" ry="7.9"/>
<ellipse cx="1116.9" cy="825.1" rx="7.9" ry="7.9"/>
<ellipse cx="1118.1" cy="825.3" rx="7.9" ry="7.9"/>
<ellipse cx="1119.3" cy="827.2" rx="7.9" ry="7.9"/>
<ellipse cx="1120.4" cy="827" rx="7.9" ry="7.9"/>
<ellipse cx="1121.6" cy="828.7" rx="7.9" ry="7.9"/>
<ellipse cx="1122.8" cy="828.4" rx="7.9" ry="7.9"/>
<ellipse cx="1123.9" cy="830.1" rx="7.9" ry="7.9"/>
<ellipse cx="1125.1" cy="829.7" rx="7.9" ry="7.9"/>
<ellipse cx="1126.2" cy="831.2" rx="7.9" ry="7.9"/>
<ellipse cx="1127.4" cy="830.8" rx="7.9" ry="7.9"/>
<ellipse cx="1128.6" cy="832.3" rx="7.9" ry="7.9"/>
<ellipse cx="1129.7" cy="831.8" rx="7.9" ry="7.9"/>
<ellipse cx="1130.9" cy="833.1" rx="7.9" ry="7.9"/>
<ellipse cx="1132.1" cy="832.6" rx="7.9" ry="7.9"/>
<ellipse cx="1133.2" cy="833.9" rx="7.9" ry="7.9"/>
<ellipse cx="1134.4" cy="833.3" rx="7.9" ry="7.9"/>
<ellipse cx="1135.6" cy="834.5" rx="7.9" ry="7.9"/>
<ellipse cx="1136.7" cy="833.9" rx="7.9" ry="7.9"/>
<ellipse cx="1137.9" cy="835.1" rx="7.9" ry="7.9"/>
<ellipse cx="1139.1" cy="834.5" rx="7.9" ry="7.9"/>
<ellipse cx="1140.2" cy="835.7" rx="7.9" ry="7.9"/>
<ellipse cx="1141.4" cy="835.2" rx="7.9" ry="7.9"/>
<ellipse cx="1142.6" cy="836.5" rx="7.9" ry="7.9"/>
<ellipse cx="1143.7" cy="836" rx="7.9" ry="7.9"/>
<ellipse cx="1144.9" cy="837.2" rx="7.9" ry="7.9"/>
<ellipse cx="1146.1" cy="836.8" rx="7.9" ry="7.9"/>
<ellipse cx="1147.2" cy="838.1" rx="7.9" ry="7.9"/>
<ellipse cx="1148.4" cy="837.6" rx="7.9" ry="7.9"/>
<ellipse cx="1149.6" cy="838.9" rx="7.9" ry="7.9"/>
<ellipse cx="1150.7" cy="838.3" rx="7.9" ry="7.9"/>
<ellipse cx="1151.9" cy="839.5" rx="7.9" ry="7.9"/>
<ellipse cx="1153.1" cy="838.7" rx="7.9" ry="7.9"/>
<ellipse cx="1154.2" cy="839.7" rx="7.9" ry="7.9"/>
<ellipse cx="1155.4" cy="838.9" rx="7.9" ry="7.9"/>
<ellipse cx="1156.6" cy="839.9" rx="7.9" ry="7.9"/>
<ellipse cx="1157.7" cy="839" rx="7.9" ry="7.9"/>
<ellipse cx="1158.9" cy="840" rx="7.9" ry="7.9"/>
<ellipse cx="1160.1" cy="839.1" rx="7.9" ry="7.9"/>
<ellipse cx="1161.2" cy="840" rx="7.9" ry="7.9"/>
<ellipse cx="1162.4" cy="839.2" rx="7.9" ry="7.9"/>
<ellipse cx="1163.6" cy="840.2" rx="7.9" ry="7.9"/>
<ellipse cx="1164.7" cy="839.3" rx="7.9" ry="7.9"/>
<ellipse cx="1165.9" cy="840.3" rx="7.9" ry="7.9"/>
<ellipse cx="1167" cy="839.5" rx="7.9" ry="7.9"/>
<ellipse cx="1168.2" cy="840.6" rx="7.9" ry="7.9"/>
<ellipse cx="1169.4" cy="839.8" rx="7.9" ry="7.9"/>
<ellipse cx="1170.5" cy="840.9" rx="7.9" ry="7.9"/>
<ellipse cx="1171.7" cy="840.3" rx="7.9" ry="7.9"/>
<ellipse cx="1172.9" cy="841.4" rx="7.9" ry="7.9"/>
<ellipse cx="1174" cy="840.7" rx="7.9" ry="7.9"/>
<ellipse cx="1175.2" cy="841.8" rx="7.9" ry="7.9"/>
<ellipse cx="1176.4" cy="841.1" rx="7.9" ry="7.9"/>
<ellipse cx="1177.5" cy="842.1" rx="7.9" ry="7.9"/>
<ellipse cx="1178.7" cy="841.3" rx="7.9" ry="7.9"/>
<ellipse cx="1179.9" cy="842.3" rx="7.9" ry="7.9"/>
<ellipse cx="1181" cy="841.5" rx="7.9" ry="7.9"/>
<ellipse cx="1182.2" cy="842.4" rx="7.9" ry="7.9"/>
<ellipse cx="1183.4" cy="841.6" rx="7.9" ry="7.9"/>
<ellipse cx="1184.5" cy="842.6" rx="7.9" ry="7.9"/>
<ellipse cx="1185.7" cy="841.7" rx="7.9" ry="7.9"/>
<ellipse cx="1186.9" cy="842.7" rx="7.9" ry="7.9"/>
<ellipse cx="1188" cy="841.8" rx="7.9" ry="7.9"/>
<ellipse cx="1189.2" cy="842.7" rx="7.9" ry="7.9"/>
<ellipse cx="1190.4" cy="841.9" rx="7.9" ry="7.9"/>
<ellipse cx="1191.5" cy="842.7" rx="7.9" ry="7.9"/>
<ellipse cx="1192.7" cy="841.8" rx="7.9" ry="7.9"/>
<ellipse cx="1193.9" cy="842.6" rx="7.9" ry="7.9"/>
<ellipse cx="1195" cy="841.5" rx="7.9" ry="7.9"/>
<ellipse cx="1196.2" cy="842.3" rx="7.9" ry="7.9"/>
<ellipse cx="1197.4" cy="841.3" rx="7.9" ry="7.9"/>
<ellipse cx="1198.5" cy="842" rx="7.9" ry="7.9"/>
<ellipse cx="1199.7" cy="840.9" rx="7.9" ry="7.9"/>
<ellipse cx="1200.9" cy="841.6" rx="7.9" ry="7.9"/>
<ellipse cx="1202" cy="840.4" rx="7.9" ry="7.9"/>
<ellipse cx="1203.2" cy="841.2" rx="7.9" ry="7.9"/>
<ellipse cx="1204.4" cy="839.9" rx="7.9" ry="7.9"/>
<ellipse cx="1205.5" cy="840.4" rx="7.9" ry="7.9"/>
<ellipse cx="1206.7" cy="839" rx="7.9" ry="7.9"/>
<ellipse cx="1207.8" cy="839.4" rx="7.9" ry="7.9"/>
<ellipse cx="1209" cy="838" rx="7.9" ry="7.9"/>
<ellipse cx="1210.2" cy="838.2" rx="7.9" ry="7.9"/>
<ellipse cx="1211.3" cy="836.6" rx="7.9" ry="7.9"/>
<ellipse cx="1212.5" cy="836.9" rx="7.9" ry="7.9"/>
<ellipse cx="1213.7" cy="835.1" rx="7.9" ry="7.9"/>
<ellipse cx="1214.8" cy="835.1" rx="7.9" ry="7.9"/>
<ellipse cx="1216" cy="833.1" rx="7.9" ry="7.9"/>
<ellipse cx="1217.2" cy="833" rx="7.9" ry="7.9"/>
<ellipse cx="1218.3" cy="830.9" rx="7.9" ry="7.9"/>
<ellipse cx="1219.5" cy="830.6" rx="7.9" ry="7.9"/>
<ellipse cx="1220.7" cy="828.5" rx="7.9" ry="7.9"/>
<ellipse cx="1221.8" cy="828.2" rx="7.9" ry="7.9"/>
<ellipse cx="1223" cy="826" rx="7.9" ry="7.9"/>
<ellipse cx="1224.2" cy="825.5" rx="7.9" ry="7.9"/>
<ellipse cx="1225.3" cy="823.2" rx="7.9" ry="7.9"/>
<ellipse cx="1226.5" cy="822.7" rx="7.9" ry="7.9"/>
<ellipse cx="1227.7" cy="820.4" rx="7.9" ry="7.9"/>
<ellipse cx="1228.8" cy="819.9" rx="7.9" ry="7.9"/>
<ellipse cx="1230" cy="817.7" rx="7.9" ry="7.9"/>
<ellipse cx="1231.2" cy="817.3" rx="7.9" ry="7.9"/>
<ellipse cx="1232.3" cy="815.2" rx="7.9" ry="7.9"/>
<ellipse cx="1233.5" cy="814.9" rx="7.9" ry="7.9"/>
<ellipse cx="1234.7" cy="812.9" rx="7.9" ry="7.9"/>
<ellipse cx="1235.8" cy="812.7" rx="7.9" ry="7.9"/>
<ellipse cx="1237" cy="810.6" rx="7.9" ry="7.9"/>
<ellipse cx="1238.2" cy="810.4" rx="7.9" ry="7.9"/>
<ellipse cx="1239.3" cy="808.3" rx="7.9" ry="7.9"/>
<ellipse cx="1240.5" cy="808.1" rx="7.9" ry="7.9"/>
<ellipse cx="1241.7" cy="806" rx="7.9" ry="7.9"/>
<ellipse cx="1242.8" cy="805.7" rx="7.9" ry="7.9"/>
<ellipse cx="1244" cy="803.6" rx="7.9" ry="7.9"/>
<ellipse cx="1245.2" cy="803.3" rx="7.9" ry="7.9"/>
<ellipse cx="1246.3" cy="801.1" rx="7.9" ry="7.9"/>
<ellipse cx="1247.5" cy="800.7" rx="7.9" ry="7.9"/>
<ellipse cx="1248.6" cy="798.5" rx="7.9" ry="7.9"/>
<ellipse cx="1249.8" cy="798.1" rx="7.9" ry="7.9"/>
<ellipse cx="1251" cy="795.9" rx="7.9" ry="7.9"/>
<ellipse cx="1252.1" cy="795.5" rx="7.9" ry="7.9"/>
<ellipse cx="1253.3" cy="793.3" rx="7.9" ry="7.9"/>
<ellipse cx="1254.5" cy="792.9" rx="7.9" ry="7.9"/>
<ellipse cx="1255.6" cy="790.7" rx="7.9" ry="7.9"/>
<ellipse cx="1256.8" cy="790.4" rx="7.9" ry="7.9"/>
<ellipse cx="1258" cy="788.1" rx="7.9" ry="7.9"/>
<ellipse cx="1259.1" cy="787.7" rx="7.9" ry="7.9"/>
<ellipse cx="1260.3" cy="785.5" rx="7.9" ry="7.9"/>
<ellipse cx="1261.5" cy="785.2" rx="7.9" ry="7.9"/>
<ellipse cx="1262.6" cy="783" rx="7.9" ry="7.9"/>
<ellipse cx="1263.8" cy="782.6" rx="7.9" ry="7.9"/>
<ellipse cx="1265" cy="780.4" rx="7.9" ry="7.9"/>
<ellipse cx="1266.1" cy="780.1" rx="7.9" ry="7.9"/>
<ellipse cx="1267.3" cy="777.9" rx="7.9" ry="7.9"/>
<ellipse cx="1268.5" cy="777.5" rx="7.9" ry="7.9"/>
<ellipse cx="1269.6" cy="775.3" rx="7.9" ry="7.9"/>
<ellipse cx="1270.8" cy="774.9" rx="7.9" ry="7.9"/>
<ellipse cx="1272" cy="772.7" rx="7.9" ry="7.9"/>
<ellipse cx="1273.1" cy="772.4" rx="7.9" ry="7.9"/>
<ellipse cx="1274.3" cy="770.1" rx="7.9" ry="7.9"/>
<ellipse cx="1275.5" cy="769.8" rx="7.9" ry="7.9"/>
<ellipse cx="1276.6" cy="767.6" rx="7.9" ry="7.9"/>
<ellipse cx="1277.8" cy="767.2" rx="7.9" ry="7.9"/>
<ellipse cx="1279" cy="765" rx="7.9" ry="7.9"/>
<ellipse cx="1280.1" cy="764.6" rx="7.9" ry="7.9"/>
<ellipse cx="1281.3" cy="762.3" rx="7.9" ry="7.9"/>
<ellipse cx="1282.5" cy="762" rx="7.9" ry="7.9"/>
<ellipse cx="1283.6" cy="759.8" rx="7.9" ry="7.9"/>
<ellipse cx="1284.8" cy="759.5" rx="7.9" ry="7.9"/>
<ellipse cx="1286" cy="757.2" rx="7.9" ry="7.9"/>
<ellipse cx="1287.1" cy="756.9" rx="7.9" ry="7.9"/>
<ellipse cx="1288.3" cy="754.7" rx="7.9" ry="7.9"/>
<ellipse cx="1289.4" cy="754.4" rx="7.9" ry="7.9"/>
<ellipse cx="1290.6" cy="752.4" rx="7.9" ry="7.9"/>
<ellipse cx="1291.8" cy="752.1" rx="7.9" ry="7.9"/>
<ellipse cx="1292.9" cy="750" rx="7.9" ry="7.9"/>
<ellipse cx="1294.1" cy="749.8" rx="7.9" ry="7.9"/>
<ellipse cx="1295.3" cy="747.8" rx="7.9" ry="7.9"/>
<ellipse cx="1296.4" cy="747.5" rx="7.9" ry="7.9"/>
<ellipse cx="1297.6" cy="745.4" rx="7.9" ry="7.9"/>
<ellipse cx="1298.8" cy="745.2" rx="7.9" ry="7.9"/>
<ellipse cx="1299.9" cy="743.1" rx="7.9" ry="7.9"/>
<ellipse cx="1301.1" cy="742.8" rx="7.9" ry="7.9"/>
<ellipse cx="1302.3" cy="740.6" rx="7.9" ry="7.9"/>
<ellipse cx="1303.4" cy="740.3" rx="7.9" ry="7.9"/>
<ellipse cx="1304.6" cy="738.2" rx="7.9" ry="7.9"/>
<ellipse cx="1305.8" cy="737.8" rx="7.9" ry="7.9"/>
<ellipse cx="1306.9" cy="735.6" rx="7.9" ry="7.9"/>
<ellipse cx="1308.2" cy="734.6" rx="7.9" ry="7.9"/>
</g>
</g>
<g stroke="#000" fill="none" stroke-linecap="butt">
<path d="M904 522.7V961.2" stroke-width="3.9"/>
<path d="M1349.3 522.7V961.2" stroke-width="3.6"/>
<path d="M895 959.3H1358.3" stroke-width="3.8"/>
<path d="M895 959.3H913M895 872.3H913M895 785.3H913M895 698.2H913M895 611.2H913M895 524.2H913M1340.3 959.3H1358.3M1340.3 872.3H1358.3M1340.3 785.3H1358.3M1340.3 698.2H1358.3M1340.3 611.2H1358.3M1340.3 524.2H1358.3M904 950.3V968.3M993.1 950.3V968.3M1082.1 950.3V968.3M1171.2 950.3V968.3M1260.2 950.3V968.3M1349.3 950.3V968.3" stroke-width="3.1"/>
<path d="M904 941.9H911M904 924.5H911M904 907.1H911M904 889.7H911M904 854.9H911M904 837.5H911M904 820.1H911M904 802.7H911M904 767.9H911M904 750.5H911M904 733H911M904 715.6H911M904 680.8H911M904 663.4H911M904 646H911M904 628.6H911M904 593.8H911M904 576.4H911M904 559H911M904 541.6H911M1342.3 941.9H1349.3M1342.3 924.5H1349.3M1342.3 907.1H1349.3M1342.3 889.7H1349.3M1342.3 854.9H1349.3M1342.3 837.5H1349.3M1342.3 820.1H1349.3M1342.3 802.7H1349.3M1342.3 767.9H1349.3M1342.3 750.5H1349.3M1342.3 733H1349.3M1342.3 715.6H1349.3M1342.3 680.8H1349.3M1342.3 663.4H1349.3M1342.3 646H1349.3M1342.3 628.6H1349.3M1342.3 593.8H1349.3M1342.3 576.4H1349.3M1342.3 559H1349.3M1342.3 541.6H1349.3M921.8 952.3V959.3M939.6 952.3V959.3M957.4 952.3V959.3M975.2 952.3V959.3M1010.9 952.3V959.3M1028.7 952.3V959.3M1046.5 952.3V959.3M1064.3 952.3V959.3M1099.9 952.3V959.3M1117.7 952.3V959.3M1135.6 952.3V959.3M1153.4 952.3V959.3M1189 952.3V959.3M1206.8 952.3V959.3M1224.6 952.3V959.3M1242.4 952.3V959.3M1278.1 952.3V959.3M1295.9 952.3V959.3M1313.7 952.3V959.3M1331.5 952.3V959.3" stroke-width="2.4"/>
</g>
<g font-family='"Liberation Sans", Arial, Helvetica, sans-serif' font-size="16.8" fill="#000" stroke="#000" stroke-width="0.35">
<text transform="translate(844.6 965.5) scale(1.13 1)">0</text>
<text transform="translate(844.6 878.5) scale(1.13 1)">400</text>
<text transform="translate(844.6 791.5) scale(1.13 1)">800</text>
<text transform="translate(844.6 704.5) scale(1.13 1)">1200</text>
<text transform="translate(844.6 617.4) scale(1.13 1)">1600</text>
<text transform="translate(844.6 530.4) scale(1.13 1)">2000</text>
<text transform="translate(1381.6 965.5) scale(1.13 1)">0.00</text>
<text transform="translate(1381.6 878.5) scale(1.13 1)">20.00</text>
<text transform="translate(1381.6 791.5) scale(1.13 1)">40.00</text>
<text transform="translate(1381.6 704.5) scale(1.13 1)">60.00</text>
<text transform="translate(1381.6 617.4) scale(1.13 1)">80.00</text>
<text transform="translate(1381.6 530.4) scale(1.13 1)">100.00</text>
<text text-anchor="middle" transform="translate(912.3 983.5) scale(1.13 1)">0.0</text>
<text text-anchor="middle" transform="translate(1001.4 983.5) scale(1.13 1)">5.0</text>
<text text-anchor="middle" transform="translate(1090.4 983.5) scale(1.13 1)">10.0</text>
<text text-anchor="middle" transform="translate(1179.5 983.5) scale(1.13 1)">15.0</text>
<text text-anchor="middle" transform="translate(1268.5 983.5) scale(1.13 1)">20.0</text>
<text text-anchor="middle" transform="translate(1357.6 983.5) scale(1.13 1)">25.0</text>
</g>
<g font-family='"Liberation Sans", Arial, Helvetica, sans-serif' font-size="16.5" fill="#000" stroke="#000" stroke-width="0.35">
<text transform="translate(1067.5 1013) scale(1.1961 1)">Time t  in min</text>
<text transform="translate(824.4 811) rotate(-90) scale(1.0693 1.23)">Viscosity  η  in cP</text>
<text transform="translate(1458.8 825) rotate(-90) scale(1.0935 1.15)">Temperature T  in °C</text>
</g>
</g>
<!-- 80FE -->
<g>
<g stroke-width="1" stroke-dasharray="9.4 2.9" fill="none">
<path d="M108.6 1520.5H553.4" stroke="#c8c8c8"/>
<path d="M108.6 1460.5H553.4" stroke="#6c6c6c"/>
<path d="M108.6 1400.5H553.4" stroke="#6c6c6c"/>
<path d="M108.6 1340.5H553.4" stroke="#6c6c6c"/>
<path d="M108.6 1280.5H553.4" stroke="#c8c8c8"/>
<path d="M108.6 1220.5H553.4" stroke="#6c6c6c"/>
<path d="M197.5 1160.9V1580.6" stroke="#6c6c6c"/>
<path d="M286.5 1160.9V1580.6" stroke="#6c6c6c"/>
<path d="M375.5 1160.9V1580.6" stroke="#6c6c6c"/>
<path d="M464.5 1160.9V1580.6" stroke="#6c6c6c"/>
</g>
<path d="M108.6 1160.9H553.4" stroke="#666" stroke-width="1.5" stroke-dasharray="7 3" fill="none"/>
<clipPath id="cp_80FE"><rect x="108.6" y="1160.9" width="444.8" height="419.7"/></clipPath>
<g clip-path="url(#cp_80FE)">
<polyline fill="none" stroke="#0000b8" stroke-width="1.4" stroke-linejoin="round" points="108.6,1376.2 124.6,1372 133.5,1362.4 155.9,1329.2 198.4,1271.4 217.7,1245.4 232.8,1226.5 271,1185 285.8,1183.1 348.1,1182.1 374.9,1216.5 394.2,1245.1 412.5,1271.4 426.9,1291.6 443.1,1311.7 455.9,1326.4 463.6,1336.5 476.7,1349.7 489.5,1361.3 493.8,1366.6 515.3,1368.7"/>
<polyline fill="none" stroke="#0000b8" stroke-width="1.4" stroke-linejoin="round" points="107,1575.1 108.2,1575.1 109.3,1575.1 110.5,1575 111.7,1575 112.9,1575 114,1575 115.2,1574.9 116.4,1574.9 117.6,1574.9 118.8,1574.9 119.9,1574.8 121.1,1574.8 122.3,1574.8 123.5,1574.8 124.6,1574.7 125.8,1574.7 127,1574.7 128.2,1574.7 129.3,1574.6 130.5,1574.6 131.7,1574.6 132.9,1574.6 134.1,1574.6 135.2,1574.5 136.4,1574.5 137.6,1574.5 138.8,1574.5 139.9,1574.5 141.1,1574.4 142.3,1574.4 143.5,1574.4 144.6,1574.4 145.8,1574.4 147,1574.4 148.2,1574.4 149.4,1574.4 150.5,1574.3 151.7,1574.3 152.9,1574.3 154.1,1574.3 155.2,1574.3 156.4,1574.3 157.6,1574.2 158.8,1574.2 160,1574.2 161.1,1574.2 162.3,1574.1 163.5,1574 164.7,1573.9 165.8,1573.7 167,1573.5 168.2,1573.3 169.4,1573 170.5,1572.8 171.7,1572.5 172.9,1572.1 174.1,1571.7 175.3,1571.1 176.4,1570.5 177.6,1569.8 178.8,1569.1 180,1568.8 181.1,1567.1 182.3,1567.2 183.5,1565.3 184.7,1565.3 185.8,1563.3 187,1563.3 188.2,1561.2 189.4,1561 190.6,1558.8 191.7,1558.4 192.9,1556.2 194.1,1555.8 195.3,1553.5 196.4,1553.1 197.6,1551 198.8,1550.6 200,1548.4 201.2,1548 202.3,1545.7 203.5,1545.1 204.7,1542.6 205.9,1542 207,1539.5 208.2,1538.8 209.4,1536.4 210.6,1535.9 212.9,1531.7 216.9,1519.4 221.2,1504.3 225.5,1487.1 229.8,1465.2 234.2,1441.8 238.5,1414.8 242.5,1386.8 246.8,1354.5 250.8,1321.2 254.8,1289.5 258.8,1253.5 263.1,1222.2 267.1,1201.5 271.4,1192.9 276,1206.8 280,1234.8 284,1270.2 288.3,1308.9 292.3,1340.6 296.3,1367.1 300.3,1384.9 304.6,1396.9 307.7,1404.6 310,1408.4 311.2,1411.2 312.4,1411.9 313.6,1414.6 314.8,1415.3 315.9,1417.7 317.1,1418.2 318.3,1420.3 319.5,1420.4 320.6,1422.3 321.8,1422.2 323,1424 324.2,1423.9 325.3,1425.4 326.5,1425.1 327.7,1426.7 328.9,1426.2 330.1,1427.5 331.2,1427 332.4,1428.4 333.6,1427.8 334.8,1429.1 335.9,1428.5 337.1,1429.8 338.3,1429.2 339.5,1430.4 340.7,1429.8 341.8,1431 343,1430.4 344.2,1431.6 345.4,1431 346.5,1432.3 347.7,1431.7 348.9,1432.9 350.1,1432.3 351.2,1433.6 352.4,1433.1 353.6,1434.4 354.8,1434 356,1435.6 357.1,1435.4 358.3,1437.3 359.5,1437.5 360.7,1439.6 361.8,1439.8 363,1442 364.2,1442.2 365.4,1444.3 366.5,1444.6 367.7,1446.9 368.9,1447.1 370.1,1449.1 371.3,1449.1 372.4,1451 373.6,1451 374.8,1452.8 376,1452.8 377.1,1454.4 378.3,1454.2 379.5,1455.7 380.7,1455.2 381.9,1456.5 383,1456 384.2,1457.2 385.4,1456.6 386.6,1457.7 387.7,1457 388.9,1458 390.1,1457.1 391.3,1458 392.4,1457 393.6,1457.8 394.8,1456.8 396,1457.6 397.2,1456.6 398.3,1457.4 399.5,1456.3 400.7,1457 401.9,1455.9 403,1456.4 404.2,1455.2 405.4,1455.7 406.6,1454.4 407.7,1454.9 408.9,1453.5 410.1,1453.9 411.3,1452.4 412.5,1452.7 413.6,1451 414.8,1451.2 416,1449.4 417.2,1449.5 418.3,1447.7 419.5,1447.5 420.7,1445.4 421.9,1445.2 423.1,1442.9 424.2,1442.5 425.4,1440 426.6,1439.3 427.8,1436.6 428.9,1435.6 430.1,1432.8 431.3,1432 432.5,1429.2 433.6,1428.3 434.8,1425.5 436,1424.4 437.2,1421.6 438.4,1420.6 439.5,1417.8 440.7,1416.8 441.9,1413.8 443.1,1412.7 444.2,1409.8 445.4,1408.8 446.6,1405.9 447.8,1405 448.9,1402.2 450.1,1401.3 451.3,1398.6 452.5,1397.7 453.7,1395 454.8,1394.2 456,1391.6 457.2,1390.9 458.4,1388.3 459.5,1387.6 460.7,1385.1 461.9,1384.4 463.1,1381.9 464.3,1381.3 465.4,1378.9 466.6,1378.3 467.8,1376 469,1375.5 470.1,1373.3 471.3,1372.9 472.5,1370.6 473.7,1370.1 474.8,1367.9 476,1367.4 477.2,1365.1 478.4,1364.7 479.6,1362.3 480.7,1361.9 481.9,1359.6 483.1,1359.2 484.3,1356.9 485.4,1356.4 486.6,1354.1 487.8,1353.6 489,1351.3 490.1,1350.8 491.3,1348.5 492.5,1348.1 493.7,1345.9 494.9,1345.5 496,1343.3 497.2,1342.9 498.4,1340.7 499.6,1340.4 500.7,1338.4 501.9,1338.2 503.1,1336.4 504.3,1336.5 505.5,1334.8 506.6,1335 507.8,1333.4 509,1333.8 510.2,1332.3 511.3,1332.7 512.9,1331.7"/>
<g fill="#0000b8">
<ellipse cx="107" cy="1575.1" rx="7.9" ry="6.8"/>
<ellipse cx="108.2" cy="1575.1" rx="7.9" ry="6.8"/>
<ellipse cx="109.3" cy="1575.1" rx="7.9" ry="6.8"/>
<ellipse cx="110.5" cy="1575" rx="7.9" ry="6.8"/>
<ellipse cx="111.7" cy="1575" rx="7.9" ry="6.8"/>
<ellipse cx="112.9" cy="1575" rx="7.9" ry="6.8"/>
<ellipse cx="114" cy="1575" rx="7.9" ry="6.8"/>
<ellipse cx="115.2" cy="1574.9" rx="7.9" ry="6.8"/>
<ellipse cx="116.4" cy="1574.9" rx="7.9" ry="6.8"/>
<ellipse cx="117.6" cy="1574.9" rx="7.9" ry="6.8"/>
<ellipse cx="118.8" cy="1574.9" rx="7.9" ry="6.8"/>
<ellipse cx="119.9" cy="1574.8" rx="7.9" ry="6.8"/>
<ellipse cx="121.1" cy="1574.8" rx="7.9" ry="6.8"/>
<ellipse cx="122.3" cy="1574.8" rx="7.9" ry="6.8"/>
<ellipse cx="123.5" cy="1574.8" rx="7.9" ry="6.8"/>
<ellipse cx="124.6" cy="1574.7" rx="7.9" ry="6.8"/>
<ellipse cx="125.8" cy="1574.7" rx="7.9" ry="6.8"/>
<ellipse cx="127" cy="1574.7" rx="7.9" ry="6.8"/>
<ellipse cx="128.2" cy="1574.7" rx="7.9" ry="6.8"/>
<ellipse cx="129.3" cy="1574.6" rx="7.9" ry="6.8"/>
<ellipse cx="130.5" cy="1574.6" rx="7.9" ry="6.8"/>
<ellipse cx="131.7" cy="1574.6" rx="7.9" ry="6.8"/>
<ellipse cx="132.9" cy="1574.6" rx="7.9" ry="6.8"/>
<ellipse cx="134.1" cy="1574.6" rx="7.9" ry="6.8"/>
<ellipse cx="135.2" cy="1574.5" rx="7.9" ry="6.8"/>
<ellipse cx="136.4" cy="1574.5" rx="7.9" ry="6.8"/>
<ellipse cx="137.6" cy="1574.5" rx="7.9" ry="6.8"/>
<ellipse cx="138.8" cy="1574.5" rx="7.9" ry="6.8"/>
<ellipse cx="139.9" cy="1574.5" rx="7.9" ry="6.8"/>
<ellipse cx="141.1" cy="1574.4" rx="7.9" ry="6.8"/>
<ellipse cx="142.3" cy="1574.4" rx="7.9" ry="6.8"/>
<ellipse cx="143.5" cy="1574.4" rx="7.9" ry="6.8"/>
<ellipse cx="144.6" cy="1574.4" rx="7.9" ry="6.8"/>
<ellipse cx="145.8" cy="1574.4" rx="7.9" ry="6.8"/>
<ellipse cx="147" cy="1574.4" rx="7.9" ry="6.8"/>
<ellipse cx="148.2" cy="1574.4" rx="7.9" ry="6.8"/>
<ellipse cx="149.4" cy="1574.4" rx="7.9" ry="6.8"/>
<ellipse cx="150.5" cy="1574.3" rx="7.9" ry="6.8"/>
<ellipse cx="151.7" cy="1574.3" rx="7.9" ry="6.8"/>
<ellipse cx="152.9" cy="1574.3" rx="7.9" ry="6.8"/>
<ellipse cx="154.1" cy="1574.3" rx="7.9" ry="6.8"/>
<ellipse cx="155.2" cy="1574.3" rx="7.9" ry="6.8"/>
<ellipse cx="156.4" cy="1574.3" rx="7.9" ry="6.8"/>
<ellipse cx="157.6" cy="1574.2" rx="7.9" ry="6.8"/>
<ellipse cx="158.8" cy="1574.2" rx="7.9" ry="6.8"/>
<ellipse cx="160" cy="1574.2" rx="7.9" ry="6.8"/>
<ellipse cx="161.1" cy="1574.2" rx="7.9" ry="6.8"/>
<ellipse cx="162.3" cy="1574.1" rx="7.9" ry="6.8"/>
<ellipse cx="163.5" cy="1574" rx="7.9" ry="6.8"/>
<ellipse cx="164.7" cy="1573.9" rx="7.9" ry="6.8"/>
<ellipse cx="165.8" cy="1573.7" rx="7.9" ry="6.8"/>
<ellipse cx="167" cy="1573.5" rx="7.9" ry="6.8"/>
<ellipse cx="168.2" cy="1573.3" rx="7.9" ry="6.8"/>
<ellipse cx="169.4" cy="1573" rx="7.9" ry="6.8"/>
<ellipse cx="170.5" cy="1572.8" rx="7.9" ry="6.8"/>
<ellipse cx="171.7" cy="1572.5" rx="7.9" ry="6.8"/>
<ellipse cx="172.9" cy="1572.1" rx="7.9" ry="6.8"/>
<ellipse cx="174.1" cy="1571.7" rx="7.9" ry="6.8"/>
<ellipse cx="175.3" cy="1571.1" rx="7.9" ry="6.8"/>
<ellipse cx="176.4" cy="1570.5" rx="7.9" ry="6.8"/>
<ellipse cx="177.6" cy="1569.8" rx="7.9" ry="6.8"/>
<ellipse cx="178.8" cy="1569.1" rx="7.9" ry="6.8"/>
<ellipse cx="180" cy="1568.8" rx="7.9" ry="6.8"/>
<ellipse cx="181.1" cy="1567.1" rx="7.9" ry="6.8"/>
<ellipse cx="182.3" cy="1567.2" rx="7.9" ry="6.8"/>
<ellipse cx="183.5" cy="1565.3" rx="7.9" ry="6.8"/>
<ellipse cx="184.7" cy="1565.3" rx="7.9" ry="6.8"/>
<ellipse cx="185.8" cy="1563.3" rx="7.9" ry="6.8"/>
<ellipse cx="187" cy="1563.3" rx="7.9" ry="6.8"/>
<ellipse cx="188.2" cy="1561.2" rx="7.9" ry="6.8"/>
<ellipse cx="189.4" cy="1561" rx="7.9" ry="6.8"/>
<ellipse cx="190.6" cy="1558.8" rx="7.9" ry="6.8"/>
<ellipse cx="191.7" cy="1558.4" rx="7.9" ry="6.8"/>
<ellipse cx="192.9" cy="1556.2" rx="7.9" ry="6.8"/>
<ellipse cx="194.1" cy="1555.8" rx="7.9" ry="6.8"/>
<ellipse cx="195.3" cy="1553.5" rx="7.9" ry="6.8"/>
<ellipse cx="196.4" cy="1553.1" rx="7.9" ry="6.8"/>
<ellipse cx="197.6" cy="1551" rx="7.9" ry="6.8"/>
<ellipse cx="198.8" cy="1550.6" rx="7.9" ry="6.8"/>
<ellipse cx="200" cy="1548.4" rx="7.9" ry="6.8"/>
<ellipse cx="201.2" cy="1548" rx="7.9" ry="6.8"/>
<ellipse cx="202.3" cy="1545.7" rx="7.9" ry="6.8"/>
<ellipse cx="203.5" cy="1545.1" rx="7.9" ry="6.8"/>
<ellipse cx="204.7" cy="1542.6" rx="7.9" ry="6.8"/>
<ellipse cx="205.9" cy="1542" rx="7.9" ry="6.8"/>
<ellipse cx="207" cy="1539.5" rx="7.9" ry="6.8"/>
<ellipse cx="208.2" cy="1538.8" rx="7.9" ry="6.8"/>
<ellipse cx="209.4" cy="1536.4" rx="7.9" ry="6.8"/>
<ellipse cx="210.6" cy="1535.9" rx="7.9" ry="6.8"/>
<ellipse cx="212.9" cy="1531.7" rx="7.9" ry="6.8"/>
<ellipse cx="216.9" cy="1519.4" rx="7.9" ry="6.8"/>
<ellipse cx="221.2" cy="1504.3" rx="7.9" ry="6.8"/>
<ellipse cx="225.5" cy="1487.1" rx="7.9" ry="6.8"/>
<ellipse cx="229.8" cy="1465.2" rx="7.9" ry="6.8"/>
<ellipse cx="234.2" cy="1441.8" rx="7.9" ry="6.8"/>
<ellipse cx="238.5" cy="1414.8" rx="7.9" ry="6.8"/>
<ellipse cx="242.5" cy="1386.8" rx="7.9" ry="6.8"/>
<ellipse cx="246.8" cy="1354.5" rx="7.9" ry="6.8"/>
<ellipse cx="250.8" cy="1321.2" rx="7.9" ry="6.8"/>
<ellipse cx="254.8" cy="1289.5" rx="7.9" ry="6.8"/>
<ellipse cx="258.8" cy="1253.5" rx="7.9" ry="6.8"/>
<ellipse cx="263.1" cy="1222.2" rx="7.9" ry="6.8"/>
<ellipse cx="267.1" cy="1201.5" rx="7.9" ry="6.8"/>
<ellipse cx="271.4" cy="1192.9" rx="7.9" ry="6.8"/>
<ellipse cx="276" cy="1206.8" rx="7.9" ry="6.8"/>
<ellipse cx="280" cy="1234.8" rx="7.9" ry="6.8"/>
<ellipse cx="284" cy="1270.2" rx="7.9" ry="6.8"/>
<ellipse cx="288.3" cy="1308.9" rx="7.9" ry="6.8"/>
<ellipse cx="292.3" cy="1340.6" rx="7.9" ry="6.8"/>
<ellipse cx="296.3" cy="1367.1" rx="7.9" ry="6.8"/>
<ellipse cx="300.3" cy="1384.9" rx="7.9" ry="6.8"/>
<ellipse cx="304.6" cy="1396.9" rx="7.9" ry="6.8"/>
<ellipse cx="307.7" cy="1404.6" rx="7.9" ry="6.8"/>
<ellipse cx="310" cy="1408.4" rx="7.9" ry="6.8"/>
<ellipse cx="311.2" cy="1411.2" rx="7.9" ry="6.8"/>
<ellipse cx="312.4" cy="1411.9" rx="7.9" ry="6.8"/>
<ellipse cx="313.6" cy="1414.6" rx="7.9" ry="6.8"/>
<ellipse cx="314.8" cy="1415.3" rx="7.9" ry="6.8"/>
<ellipse cx="315.9" cy="1417.7" rx="7.9" ry="6.8"/>
<ellipse cx="317.1" cy="1418.2" rx="7.9" ry="6.8"/>
<ellipse cx="318.3" cy="1420.3" rx="7.9" ry="6.8"/>
<ellipse cx="319.5" cy="1420.4" rx="7.9" ry="6.8"/>
<ellipse cx="320.6" cy="1422.3" rx="7.9" ry="6.8"/>
<ellipse cx="321.8" cy="1422.2" rx="7.9" ry="6.8"/>
<ellipse cx="323" cy="1424" rx="7.9" ry="6.8"/>
<ellipse cx="324.2" cy="1423.9" rx="7.9" ry="6.8"/>
<ellipse cx="325.3" cy="1425.4" rx="7.9" ry="6.8"/>
<ellipse cx="326.5" cy="1425.1" rx="7.9" ry="6.8"/>
<ellipse cx="327.7" cy="1426.7" rx="7.9" ry="6.8"/>
<ellipse cx="328.9" cy="1426.2" rx="7.9" ry="6.8"/>
<ellipse cx="330.1" cy="1427.5" rx="7.9" ry="6.8"/>
<ellipse cx="331.2" cy="1427" rx="7.9" ry="6.8"/>
<ellipse cx="332.4" cy="1428.4" rx="7.9" ry="6.8"/>
<ellipse cx="333.6" cy="1427.8" rx="7.9" ry="6.8"/>
<ellipse cx="334.8" cy="1429.1" rx="7.9" ry="6.8"/>
<ellipse cx="335.9" cy="1428.5" rx="7.9" ry="6.8"/>
<ellipse cx="337.1" cy="1429.8" rx="7.9" ry="6.8"/>
<ellipse cx="338.3" cy="1429.2" rx="7.9" ry="6.8"/>
<ellipse cx="339.5" cy="1430.4" rx="7.9" ry="6.8"/>
<ellipse cx="340.7" cy="1429.8" rx="7.9" ry="6.8"/>
<ellipse cx="341.8" cy="1431" rx="7.9" ry="6.8"/>
<ellipse cx="343" cy="1430.4" rx="7.9" ry="6.8"/>
<ellipse cx="344.2" cy="1431.6" rx="7.9" ry="6.8"/>
<ellipse cx="345.4" cy="1431" rx="7.9" ry="6.8"/>
<ellipse cx="346.5" cy="1432.3" rx="7.9" ry="6.8"/>
<ellipse cx="347.7" cy="1431.7" rx="7.9" ry="6.8"/>
<ellipse cx="348.9" cy="1432.9" rx="7.9" ry="6.8"/>
<ellipse cx="350.1" cy="1432.3" rx="7.9" ry="6.8"/>
<ellipse cx="351.2" cy="1433.6" rx="7.9" ry="6.8"/>
<ellipse cx="352.4" cy="1433.1" rx="7.9" ry="6.8"/>
<ellipse cx="353.6" cy="1434.4" rx="7.9" ry="6.8"/>
<ellipse cx="354.8" cy="1434" rx="7.9" ry="6.8"/>
<ellipse cx="356" cy="1435.6" rx="7.9" ry="6.8"/>
<ellipse cx="357.1" cy="1435.4" rx="7.9" ry="6.8"/>
<ellipse cx="358.3" cy="1437.3" rx="7.9" ry="6.8"/>
<ellipse cx="359.5" cy="1437.5" rx="7.9" ry="6.8"/>
<ellipse cx="360.7" cy="1439.6" rx="7.9" ry="6.8"/>
<ellipse cx="361.8" cy="1439.8" rx="7.9" ry="6.8"/>
<ellipse cx="363" cy="1442" rx="7.9" ry="6.8"/>
<ellipse cx="364.2" cy="1442.2" rx="7.9" ry="6.8"/>
<ellipse cx="365.4" cy="1444.3" rx="7.9" ry="6.8"/>
<ellipse cx="366.5" cy="1444.6" rx="7.9" ry="6.8"/>
<ellipse cx="367.7" cy="1446.9" rx="7.9" ry="6.8"/>
<ellipse cx="368.9" cy="1447.1" rx="7.9" ry="6.8"/>
<ellipse cx="370.1" cy="1449.1" rx="7.9" ry="6.8"/>
<ellipse cx="371.3" cy="1449.1" rx="7.9" ry="6.8"/>
<ellipse cx="372.4" cy="1451" rx="7.9" ry="6.8"/>
<ellipse cx="373.6" cy="1451" rx="7.9" ry="6.8"/>
<ellipse cx="374.8" cy="1452.8" rx="7.9" ry="6.8"/>
<ellipse cx="376" cy="1452.8" rx="7.9" ry="6.8"/>
<ellipse cx="377.1" cy="1454.4" rx="7.9" ry="6.8"/>
<ellipse cx="378.3" cy="1454.2" rx="7.9" ry="6.8"/>
<ellipse cx="379.5" cy="1455.7" rx="7.9" ry="6.8"/>
<ellipse cx="380.7" cy="1455.2" rx="7.9" ry="6.8"/>
<ellipse cx="381.9" cy="1456.5" rx="7.9" ry="6.8"/>
<ellipse cx="383" cy="1456" rx="7.9" ry="6.8"/>
<ellipse cx="384.2" cy="1457.2" rx="7.9" ry="6.8"/>
<ellipse cx="385.4" cy="1456.6" rx="7.9" ry="6.8"/>
<ellipse cx="386.6" cy="1457.7" rx="7.9" ry="6.8"/>
<ellipse cx="387.7" cy="1457" rx="7.9" ry="6.8"/>
<ellipse cx="388.9" cy="1458" rx="7.9" ry="6.8"/>
<ellipse cx="390.1" cy="1457.1" rx="7.9" ry="6.8"/>
<ellipse cx="391.3" cy="1458" rx="7.9" ry="6.8"/>
<ellipse cx="392.4" cy="1457" rx="7.9" ry="6.8"/>
<ellipse cx="393.6" cy="1457.8" rx="7.9" ry="6.8"/>
<ellipse cx="394.8" cy="1456.8" rx="7.9" ry="6.8"/>
<ellipse cx="396" cy="1457.6" rx="7.9" ry="6.8"/>
<ellipse cx="397.2" cy="1456.6" rx="7.9" ry="6.8"/>
<ellipse cx="398.3" cy="1457.4" rx="7.9" ry="6.8"/>
<ellipse cx="399.5" cy="1456.3" rx="7.9" ry="6.8"/>
<ellipse cx="400.7" cy="1457" rx="7.9" ry="6.8"/>
<ellipse cx="401.9" cy="1455.9" rx="7.9" ry="6.8"/>
<ellipse cx="403" cy="1456.4" rx="7.9" ry="6.8"/>
<ellipse cx="404.2" cy="1455.2" rx="7.9" ry="6.8"/>
<ellipse cx="405.4" cy="1455.7" rx="7.9" ry="6.8"/>
<ellipse cx="406.6" cy="1454.4" rx="7.9" ry="6.8"/>
<ellipse cx="407.7" cy="1454.9" rx="7.9" ry="6.8"/>
<ellipse cx="408.9" cy="1453.5" rx="7.9" ry="6.8"/>
<ellipse cx="410.1" cy="1453.9" rx="7.9" ry="6.8"/>
<ellipse cx="411.3" cy="1452.4" rx="7.9" ry="6.8"/>
<ellipse cx="412.5" cy="1452.7" rx="7.9" ry="6.8"/>
<ellipse cx="413.6" cy="1451" rx="7.9" ry="6.8"/>
<ellipse cx="414.8" cy="1451.2" rx="7.9" ry="6.8"/>
<ellipse cx="416" cy="1449.4" rx="7.9" ry="6.8"/>
<ellipse cx="417.2" cy="1449.5" rx="7.9" ry="6.8"/>
<ellipse cx="418.3" cy="1447.7" rx="7.9" ry="6.8"/>
<ellipse cx="419.5" cy="1447.5" rx="7.9" ry="6.8"/>
<ellipse cx="420.7" cy="1445.4" rx="7.9" ry="6.8"/>
<ellipse cx="421.9" cy="1445.2" rx="7.9" ry="6.8"/>
<ellipse cx="423.1" cy="1442.9" rx="7.9" ry="6.8"/>
<ellipse cx="424.2" cy="1442.5" rx="7.9" ry="6.8"/>
<ellipse cx="425.4" cy="1440" rx="7.9" ry="6.8"/>
<ellipse cx="426.6" cy="1439.3" rx="7.9" ry="6.8"/>
<ellipse cx="427.8" cy="1436.6" rx="7.9" ry="6.8"/>
<ellipse cx="428.9" cy="1435.6" rx="7.9" ry="6.8"/>
<ellipse cx="430.1" cy="1432.8" rx="7.9" ry="6.8"/>
<ellipse cx="431.3" cy="1432" rx="7.9" ry="6.8"/>
<ellipse cx="432.5" cy="1429.2" rx="7.9" ry="6.8"/>
<ellipse cx="433.6" cy="1428.3" rx="7.9" ry="6.8"/>
<ellipse cx="434.8" cy="1425.5" rx="7.9" ry="6.8"/>
<ellipse cx="436" cy="1424.4" rx="7.9" ry="6.8"/>
<ellipse cx="437.2" cy="1421.6" rx="7.9" ry="6.8"/>
<ellipse cx="438.4" cy="1420.6" rx="7.9" ry="6.8"/>
<ellipse cx="439.5" cy="1417.8" rx="7.9" ry="6.8"/>
<ellipse cx="440.7" cy="1416.8" rx="7.9" ry="6.8"/>
<ellipse cx="441.9" cy="1413.8" rx="7.9" ry="6.8"/>
<ellipse cx="443.1" cy="1412.7" rx="7.9" ry="6.8"/>
<ellipse cx="444.2" cy="1409.8" rx="7.9" ry="6.8"/>
<ellipse cx="445.4" cy="1408.8" rx="7.9" ry="6.8"/>
<ellipse cx="446.6" cy="1405.9" rx="7.9" ry="6.8"/>
<ellipse cx="447.8" cy="1405" rx="7.9" ry="6.8"/>
<ellipse cx="448.9" cy="1402.2" rx="7.9" ry="6.8"/>
<ellipse cx="450.1" cy="1401.3" rx="7.9" ry="6.8"/>
<ellipse cx="451.3" cy="1398.6" rx="7.9" ry="6.8"/>
<ellipse cx="452.5" cy="1397.7" rx="7.9" ry="6.8"/>
<ellipse cx="453.7" cy="1395" rx="7.9" ry="6.8"/>
<ellipse cx="454.8" cy="1394.2" rx="7.9" ry="6.8"/>
<ellipse cx="456" cy="1391.6" rx="7.9" ry="6.8"/>
<ellipse cx="457.2" cy="1390.9" rx="7.9" ry="6.8"/>
<ellipse cx="458.4" cy="1388.3" rx="7.9" ry="6.8"/>
<ellipse cx="459.5" cy="1387.6" rx="7.9" ry="6.8"/>
<ellipse cx="460.7" cy="1385.1" rx="7.9" ry="6.8"/>
<ellipse cx="461.9" cy="1384.4" rx="7.9" ry="6.8"/>
<ellipse cx="463.1" cy="1381.9" rx="7.9" ry="6.8"/>
<ellipse cx="464.3" cy="1381.3" rx="7.9" ry="6.8"/>
<ellipse cx="465.4" cy="1378.9" rx="7.9" ry="6.8"/>
<ellipse cx="466.6" cy="1378.3" rx="7.9" ry="6.8"/>
<ellipse cx="467.8" cy="1376" rx="7.9" ry="6.8"/>
<ellipse cx="469" cy="1375.5" rx="7.9" ry="6.8"/>
<ellipse cx="470.1" cy="1373.3" rx="7.9" ry="6.8"/>
<ellipse cx="471.3" cy="1372.9" rx="7.9" ry="6.8"/>
<ellipse cx="472.5" cy="1370.6" rx="7.9" ry="6.8"/>
<ellipse cx="473.7" cy="1370.1" rx="7.9" ry="6.8"/>
<ellipse cx="474.8" cy="1367.9" rx="7.9" ry="6.8"/>
<ellipse cx="476" cy="1367.4" rx="7.9" ry="6.8"/>
<ellipse cx="477.2" cy="1365.1" rx="7.9" ry="6.8"/>
<ellipse cx="478.4" cy="1364.7" rx="7.9" ry="6.8"/>
<ellipse cx="479.6" cy="1362.3" rx="7.9" ry="6.8"/>
<ellipse cx="480.7" cy="1361.9" rx="7.9" ry="6.8"/>
<ellipse cx="481.9" cy="1359.6" rx="7.9" ry="6.8"/>
<ellipse cx="483.1" cy="1359.2" rx="7.9" ry="6.8"/>
<ellipse cx="484.3" cy="1356.9" rx="7.9" ry="6.8"/>
<ellipse cx="485.4" cy="1356.4" rx="7.9" ry="6.8"/>
<ellipse cx="486.6" cy="1354.1" rx="7.9" ry="6.8"/>
<ellipse cx="487.8" cy="1353.6" rx="7.9" ry="6.8"/>
<ellipse cx="489" cy="1351.3" rx="7.9" ry="6.8"/>
<ellipse cx="490.1" cy="1350.8" rx="7.9" ry="6.8"/>
<ellipse cx="491.3" cy="1348.5" rx="7.9" ry="6.8"/>
<ellipse cx="492.5" cy="1348.1" rx="7.9" ry="6.8"/>
<ellipse cx="493.7" cy="1345.9" rx="7.9" ry="6.8"/>
<ellipse cx="494.9" cy="1345.5" rx="7.9" ry="6.8"/>
<ellipse cx="496" cy="1343.3" rx="7.9" ry="6.8"/>
<ellipse cx="497.2" cy="1342.9" rx="7.9" ry="6.8"/>
<ellipse cx="498.4" cy="1340.7" rx="7.9" ry="6.8"/>
<ellipse cx="499.6" cy="1340.4" rx="7.9" ry="6.8"/>
<ellipse cx="500.7" cy="1338.4" rx="7.9" ry="6.8"/>
<ellipse cx="501.9" cy="1338.2" rx="7.9" ry="6.8"/>
<ellipse cx="503.1" cy="1336.4" rx="7.9" ry="6.8"/>
<ellipse cx="504.3" cy="1336.5" rx="7.9" ry="6.8"/>
<ellipse cx="505.5" cy="1334.8" rx="7.9" ry="6.8"/>
<ellipse cx="506.6" cy="1335" rx="7.9" ry="6.8"/>
<ellipse cx="507.8" cy="1333.4" rx="7.9" ry="6.8"/>
<ellipse cx="509" cy="1333.8" rx="7.9" ry="6.8"/>
<ellipse cx="510.2" cy="1332.3" rx="7.9" ry="6.8"/>
<ellipse cx="511.3" cy="1332.7" rx="7.9" ry="6.8"/>
<ellipse cx="512.9" cy="1331.7" rx="7.9" ry="6.8"/>
</g>
</g>
<g stroke="#000" fill="none" stroke-linecap="butt">
<path d="M108.6 1159.4V1582.4" stroke-width="4.3"/>
<path d="M553.4 1159.4V1582.4" stroke-width="3.2"/>
<path d="M100.1 1580.6H561.9" stroke-width="3.6"/>
<path d="M100.1 1580.6H117.1M100.1 1520.6H117.1M100.1 1460.7H117.1M100.1 1400.7H117.1M100.1 1340.8H117.1M100.1 1280.8H117.1M100.1 1220.9H117.1M100.1 1160.9H117.1M544.9 1580.6H561.9M544.9 1496.7H561.9M544.9 1412.7H561.9M544.9 1328.8H561.9M544.9 1244.8H561.9M544.9 1160.9H561.9M108.6 1572.1V1589.1M197.6 1572.1V1589.1M286.5 1572.1V1589.1M375.5 1572.1V1589.1M464.4 1572.1V1589.1M553.4 1572.1V1589.1" stroke-width="3.1"/>
<path d="M108.6 1568.6H115.6M108.6 1556.6H115.6M108.6 1544.6H115.6M108.6 1532.6H115.6M108.6 1508.7H115.6M108.6 1496.7H115.6M108.6 1484.7H115.6M108.6 1472.7H115.6M108.6 1448.7H115.6M108.6 1436.7H115.6M108.6 1424.7H115.6M108.6 1412.7H115.6M108.6 1388.7H115.6M108.6 1376.7H115.6M108.6 1364.8H115.6M108.6 1352.8H115.6M108.6 1328.8H115.6M108.6 1316.8H115.6M108.6 1304.8H115.6M108.6 1292.8H115.6M108.6 1268.8H115.6M108.6 1256.8H115.6M108.6 1244.8H115.6M108.6 1232.8H115.6M108.6 1208.9H115.6M108.6 1196.9H115.6M108.6 1184.9H115.6M108.6 1172.9H115.6M546.4 1563.8H553.4M546.4 1547H553.4M546.4 1530.2H553.4M546.4 1513.4H553.4M546.4 1479.9H553.4M546.4 1463.1H553.4M546.4 1446.3H553.4M546.4 1429.5H553.4M546.4 1395.9H553.4M546.4 1379.1H553.4M546.4 1362.4H553.4M546.4 1345.6H553.4M546.4 1312H553.4M546.4 1295.2H553.4M546.4 1278.4H553.4M546.4 1261.6H553.4M546.4 1228.1H553.4M546.4 1211.3H553.4M546.4 1194.5H553.4M546.4 1177.7H553.4M126.4 1573.6V1580.6M144.2 1573.6V1580.6M162 1573.6V1580.6M179.8 1573.6V1580.6M215.4 1573.6V1580.6M233.1 1573.6V1580.6M250.9 1573.6V1580.6M268.7 1573.6V1580.6M304.3 1573.6V1580.6M322.1 1573.6V1580.6M339.9 1573.6V1580.6M357.7 1573.6V1580.6M393.3 1573.6V1580.6M411.1 1573.6V1580.6M428.9 1573.6V1580.6M446.6 1573.6V1580.6M482.2 1573.6V1580.6M500 1573.6V1580.6M517.8 1573.6V1580.6M535.6 1573.6V1580.6" stroke-width="2.5"/>
</g>
<g font-family='"Liberation Sans", Arial, Helvetica, sans-serif' font-size="17.0" fill="#000" stroke="#000" stroke-width="0.35">
<text transform="translate(48.9 1586.4) scale(1.13 1)">0</text>
<text transform="translate(48.9 1526.4) scale(1.13 1)">200</text>
<text transform="translate(48.9 1466.5) scale(1.13 1)">400</text>
<text transform="translate(48.9 1406.5) scale(1.13 1)">600</text>
<text transform="translate(48.9 1346.6) scale(1.13 1)">800</text>
<text transform="translate(48.9 1286.6) scale(1.13 1)">1000</text>
<text transform="translate(48.9 1226.6) scale(1.13 1)">1200</text>
<text transform="translate(48.9 1166.7) scale(1.13 1)">1400</text>
<text transform="translate(586.1 1586.7) scale(1.13 1)">0.00</text>
<text transform="translate(586.1 1502.7) scale(1.13 1)">20.00</text>
<text transform="translate(586.1 1418.8) scale(1.13 1)">40.00</text>
<text transform="translate(586.1 1334.9) scale(1.13 1)">60.00</text>
<text transform="translate(586.1 1250.9) scale(1.13 1)">80.00</text>
<text transform="translate(586.1 1167) scale(1.13 1)">100.00</text>
<text text-anchor="middle" transform="translate(116.7 1604) scale(1.13 1)">0.0</text>
<text text-anchor="middle" transform="translate(205.7 1604) scale(1.13 1)">5.0</text>
<text text-anchor="middle" transform="translate(294.6 1604) scale(1.13 1)">10.0</text>
<text text-anchor="middle" transform="translate(383.6 1604) scale(1.13 1)">15.0</text>
<text text-anchor="middle" transform="translate(472.5 1604) scale(1.13 1)">20.0</text>
<text text-anchor="middle" transform="translate(561.5 1604) scale(1.13 1)">25.0</text>
</g>
<g font-family='"Liberation Sans", Arial, Helvetica, sans-serif' font-size="16.5" fill="#000" stroke="#000" stroke-width="0.35">
<text transform="translate(274.4 1632.5) scale(1.1745 1)">Time t  in min</text>
<text transform="translate(29.1 1438.2) rotate(-90) scale(1.0404 1.23)">Viscosity  η  in cP</text>
<text transform="translate(662.6 1451.7) rotate(-90) scale(1.0624 1.12)">Temperature T  in °C</text>
</g>
</g>
<!-- 80FT -->
<g>
<g stroke-width="1" stroke-dasharray="9.4 2.9" fill="none">
<path d="M939 1501.5H1380.6" stroke="#6c6c6c"/>
<path d="M939 1415.5H1380.6" stroke="#6c6c6c"/>
<path d="M939 1328.5H1380.6" stroke="#c8c8c8"/>
<path d="M939 1242.5H1380.6" stroke="#6c6c6c"/>
<path d="M1027.5 1156V1587.9" stroke="#989898"/>
<path d="M1115.5 1156V1587.9" stroke="#c8c8c8"/>
<path d="M1203.5 1156V1587.9" stroke="#6c6c6c"/>
<path d="M1292.5 1156V1587.9" stroke="#989898"/>
</g>
<path d="M939 1156H1380.6" stroke="#666" stroke-width="1.5" stroke-dasharray="7 3" fill="none"/>
<clipPath id="cp_80FT"><rect x="939" y="1156" width="441.6" height="431.9"/></clipPath>
<g clip-path="url(#cp_80FT)">
<polyline fill="none" stroke="#ff007f" stroke-width="1.35" stroke-linejoin="round" points="939,1387.9 943.6,1377.1 955.3,1374.1 963.7,1363.3 986,1329.2 1028.2,1269.8 1047.3,1242.9 1062.3,1223.5 1100.3,1180.8 1114.9,1178.9 1176.8,1177.9 1203.4,1213.2 1222.5,1242.6 1240.7,1269.8 1255,1290.5 1271.1,1311.1 1283.8,1326.3 1291.4,1336.7 1304.5,1350.3 1317.2,1362.2 1322,1367.2 1341.7,1369.4"/>
<polyline fill="none" stroke="#ff007f" stroke-width="1.4" stroke-linejoin="round" points="937.8,1585.9 939,1585.9 940.2,1585.9 941.4,1585.9 942.6,1585.9 943.7,1585.9 944.9,1585.9 946.1,1585.9 947.3,1585.9 948.4,1585.9 949.6,1585.9 950.8,1585.9 952,1585.9 953.2,1585.8 954.3,1585.8 955.5,1585.8 956.7,1585.8 957.9,1585.8 959,1585.8 960.2,1585.8 961.4,1585.7 962.6,1585.7 963.7,1585.7 964.9,1585.7 966.1,1585.7 967.3,1585.7 968.5,1585.6 969.6,1585.6 970.8,1585.6 972,1585.6 973.2,1585.6 974.3,1585.5 975.5,1585.5 976.7,1585.5 977.9,1585.4 979,1585.4 980.2,1585.4 981.4,1585.3 982.6,1585.3 983.8,1585.2 984.9,1585.2 986.1,1585.1 987.3,1585.1 988.5,1585 989.6,1584.9 990.8,1584.9 992,1584.8 993.2,1584.7 994.4,1584.6 995.5,1584.6 996.7,1584.5 997.9,1584.4 999.1,1584.2 1000.2,1584 1001.4,1583.8 1002.6,1583.6 1003.8,1583.2 1004.9,1582.9 1006.1,1582.6 1007.3,1582.2 1008.5,1581.8 1009.7,1581.4 1010.8,1581.4 1012,1580.1 1013.2,1580.5 1014.4,1579.1 1015.5,1579.5 1016.7,1577.9 1017.9,1578.2 1019.1,1576.6 1020.2,1576.9 1021.4,1575.3 1022.6,1575.4 1023.8,1573.7 1025,1573.8 1026.1,1571.9 1027.3,1571.9 1028.5,1569.9 1029.7,1569.7 1030.8,1567.6 1032,1567.2 1033.2,1565 1034.4,1564.8 1035.6,1562.7 1036.7,1562.3 1037.9,1559.5 1039.1,1557.7 1040.3,1553.2 1042.6,1545.9 1046.9,1532.1 1050.9,1510.2 1054.9,1482.5 1059.2,1449.6 1063.2,1414.8 1067.5,1377.6 1071.5,1339.2 1075.8,1301 1079.8,1262.2 1083.8,1230.8 1087.8,1202.8 1091.8,1184.1 1096.2,1172.1 1100.2,1176.7 1104.5,1195.8 1108.8,1228.1 1112.8,1265 1116.8,1305 1120.8,1337.6 1125.1,1358.5 1129.1,1374.2 1133.1,1385 1136.8,1394.2 1139.1,1399.8 1140.3,1401.2 1141.5,1404.3 1142.7,1405 1143.8,1407.4 1145,1407.9 1146.2,1410 1147.4,1410.2 1148.5,1412.1 1149.7,1412 1150.9,1413.7 1152.1,1413.5 1153.2,1415.1 1154.4,1414.8 1155.6,1416.3 1156.8,1415.9 1158,1417.3 1159.1,1416.8 1160.3,1418.1 1161.5,1417.6 1162.7,1418.9 1163.8,1418.3 1165,1419.5 1166.2,1418.9 1167.4,1420.1 1168.6,1419.5 1169.7,1420.8 1170.9,1420.2 1172.1,1421.6 1173.3,1421.1 1174.4,1422.4 1175.6,1422 1176.8,1423.3 1178,1422.8 1179.1,1423.9 1180.3,1423.2 1181.5,1424.3 1182.7,1423.6 1183.9,1424.6 1185,1423.8 1186.2,1424.8 1187.4,1423.9 1188.6,1424.6 1189.7,1423.3 1190.9,1423.7 1192.1,1422.1 1193.3,1422.5 1194.4,1420.9 1195.6,1421.2 1196.8,1419.7 1198,1420.4 1199.2,1419.3 1200.3,1420.4 1201.5,1420 1202.7,1421.7 1203.9,1421.5 1205,1423.2 1206.2,1422.8 1207.4,1424 1208.6,1423.3 1209.8,1424.4 1210.9,1423.6 1212.1,1424.7 1213.3,1423.8 1214.5,1424.8 1215.6,1423.9 1216.8,1424.8 1218,1423.8 1219.2,1424.5 1220.3,1423.3 1221.5,1423.8 1222.7,1422.5 1223.9,1422.9 1225.1,1421.6 1226.2,1422 1227.4,1420.5 1228.6,1420.7 1229.8,1418.9 1230.9,1418.9 1232.1,1417.1 1233.3,1417.1 1234.5,1415.4 1235.6,1415.5 1236.8,1413.8 1238,1414 1239.2,1412.3 1240.4,1412.5 1241.5,1410.7 1242.7,1410.9 1243.9,1409.2 1245.1,1409.2 1246.2,1407.4 1247.4,1407.6 1248.6,1405.8 1249.8,1405.9 1251,1404.1 1252.1,1404.1 1253.3,1402.3 1254.5,1402.3 1255.7,1400.3 1256.8,1400.2 1258,1398.3 1259.2,1398.1 1260.4,1396 1261.5,1395.8 1262.7,1393.6 1263.9,1393.3 1265.1,1391.1 1266.3,1390.6 1267.4,1388.2 1268.6,1387.6 1269.8,1385.2 1271,1384.5 1272.1,1381.9 1273.3,1381.1 1274.5,1378.6 1275.7,1377.8 1276.8,1375.2 1278,1374.4 1279.2,1371.7 1280.4,1370.9 1281.6,1368.1 1282.7,1367.2 1283.9,1364.4 1285.1,1363.4 1286.3,1360.6 1287.4,1359.5 1288.6,1356.6 1289.8,1355.5 1291,1352.6 1292.2,1351.6 1293.3,1348.7 1294.5,1347.8 1295.7,1345.1 1296.9,1344.3 1298,1341.6 1299.2,1340.8 1300.4,1338.2 1301.6,1337.4 1302.7,1334.7 1303.9,1333.8 1305.1,1331.1 1306.3,1330.2 1307.5,1327.5 1308.6,1326.6 1309.8,1323.9 1311,1323.2 1312.2,1320.6 1313.3,1319.9 1314.5,1317.4 1315.7,1316.7 1316.9,1314.3 1318,1313.7 1319.2,1311.2 1320.4,1310.6 1321.6,1308.1 1322.8,1307.4 1323.9,1304.8 1325.1,1304.1 1326.3,1301.7 1327.5,1301 1328.6,1298.5 1329.8,1298 1331,1295.7 1332.2,1295.2 1333.4,1292.9 1334.5,1292.5 1335.7,1290.3 1336.9,1290 1338.1,1287.8 1339.2,1287.2"/>
<g fill="#ff007f">
<ellipse cx="937.8" cy="1585.9" rx="7.9" ry="7.0"/>
<ellipse cx="939" cy="1585.9" rx="7.9" ry="7.0"/>
<ellipse cx="940.2" cy="1585.9" rx="7.9" ry="7.0"/>
<ellipse cx="941.4" cy="1585.9" rx="7.9" ry="7.0"/>
<ellipse cx="942.6" cy="1585.9" rx="7.9" ry="7.0"/>
<ellipse cx="943.7" cy="1585.9" rx="7.9" ry="7.0"/>
<ellipse cx="944.9" cy="1585.9" rx="7.9" ry="7.0"/>
<ellipse cx="946.1" cy="1585.9" rx="7.9" ry="7.0"/>
<ellipse cx="947.3" cy="1585.9" rx="7.9" ry="7.0"/>
<ellipse cx="948.4" cy="1585.9" rx="7.9" ry="7.0"/>
<ellipse cx="949.6" cy="1585.9" rx="7.9" ry="7.0"/>
<ellipse cx="950.8" cy="1585.9" rx="7.9" ry="7.0"/>
<ellipse cx="952" cy="1585.9" rx="7.9" ry="7.0"/>
<ellipse cx="953.2" cy="1585.8" rx="7.9" ry="7.0"/>
<ellipse cx="954.3" cy="1585.8" rx="7.9" ry="7.0"/>
<ellipse cx="955.5" cy="1585.8" rx="7.9" ry="7.0"/>
<ellipse cx="956.7" cy="1585.8" rx="7.9" ry="7.0"/>
<ellipse cx="957.9" cy="1585.8" rx="7.9" ry="7.0"/>
<ellipse cx="959" cy="1585.8" rx="7.9" ry="7.0"/>
<ellipse cx="960.2" cy="1585.8" rx="7.9" ry="7.0"/>
<ellipse cx="961.4" cy="1585.7" rx="7.9" ry="7.0"/>
<ellipse cx="962.6" cy="1585.7" rx="7.9" ry="7.0"/>
<ellipse cx="963.7" cy="1585.7" rx="7.9" ry="7.0"/>
<ellipse cx="964.9" cy="1585.7" rx="7.9" ry="7.0"/>
<ellipse cx="966.1" cy="1585.7" rx="7.9" ry="7.0"/>
<ellipse cx="967.3" cy="1585.7" rx="7.9" ry="7.0"/>
<ellipse cx="968.5" cy="1585.6" rx="7.9" ry="7.0"/>
<ellipse cx="969.6" cy="1585.6" rx="7.9" ry="7.0"/>
<ellipse cx="970.8" cy="1585.6" rx="7.9" ry="7.0"/>
<ellipse cx="972" cy="1585.6" rx="7.9" ry="7.0"/>
<ellipse cx="973.2" cy="1585.6" rx="7.9" ry="7.0"/>
<ellipse cx="974.3" cy="1585.5" rx="7.9" ry="7.0"/>
<ellipse cx="975.5" cy="1585.5" rx="7.9" ry="7.0"/>
<ellipse cx="976.7" cy="1585.5" rx="7.9" ry="7.0"/>
<ellipse cx="977.9" cy="1585.4" rx="7.9" ry="7.0"/>
<ellipse cx="979" cy="1585.4" rx="7.9" ry="7.0"/>
<ellipse cx="980.2" cy="1585.4" rx="7.9" ry="7.0"/>
<ellipse cx="981.4" cy="1585.3" rx="7.9" ry="7.0"/>
<ellipse cx="982.6" cy="1585.3" rx="7.9" ry="7.0"/>
<ellipse cx="983.8" cy="1585.2" rx="7.9" ry="7.0"/>
<ellipse cx="984.9" cy="1585.2" rx="7.9" ry="7.0"/>
<ellipse cx="986.1" cy="1585.1" rx="7.9" ry="7.0"/>
<ellipse cx="987.3" cy="1585.1" rx="7.9" ry="7.0"/>
<ellipse cx="988.5" cy="1585" rx="7.9" ry="7.0"/>
<ellipse cx="989.6" cy="1584.9" rx="7.9" ry="7.0"/>
<ellipse cx="990.8" cy="1584.9" rx="7.9" ry="7.0"/>
<ellipse cx="992" cy="1584.8" rx="7.9" ry="7.0"/>
<ellipse cx="993.2" cy="1584.7" rx="7.9" ry="7.0"/>
<ellipse cx="994.4" cy="1584.6" rx="7.9" ry="7.0"/>
<ellipse cx="995.5" cy="1584.6" rx="7.9" ry="7.0"/>
<ellipse cx="996.7" cy="1584.5" rx="7.9" ry="7.0"/>
<ellipse cx="997.9" cy="1584.4" rx="7.9" ry="7.0"/>
<ellipse cx="999.1" cy="1584.2" rx="7.9" ry="7.0"/>
<ellipse cx="1000.2" cy="1584" rx="7.9" ry="7.0"/>
<ellipse cx="1001.4" cy="1583.8" rx="7.9" ry="7.0"/>
<ellipse cx="1002.6" cy="1583.6" rx="7.9" ry="7.0"/>
<ellipse cx="1003.8" cy="1583.2" rx="7.9" ry="7.0"/>
<ellipse cx="1004.9" cy="1582.9" rx="7.9" ry="7.0"/>
<ellipse cx="1006.1" cy="1582.6" rx="7.9" ry="7.0"/>
<ellipse cx="1007.3" cy="1582.2" rx="7.9" ry="7.0"/>
<ellipse cx="1008.5" cy="1581.8" rx="7.9" ry="7.0"/>
<ellipse cx="1009.7" cy="1581.4" rx="7.9" ry="7.0"/>
<ellipse cx="1010.8" cy="1581.4" rx="7.9" ry="7.0"/>
<ellipse cx="1012" cy="1580.1" rx="7.9" ry="7.0"/>
<ellipse cx="1013.2" cy="1580.5" rx="7.9" ry="7.0"/>
<ellipse cx="1014.4" cy="1579.1" rx="7.9" ry="7.0"/>
<ellipse cx="1015.5" cy="1579.5" rx="7.9" ry="7.0"/>
<ellipse cx="1016.7" cy="1577.9" rx="7.9" ry="7.0"/>
<ellipse cx="1017.9" cy="1578.2" rx="7.9" ry="7.0"/>
<ellipse cx="1019.1" cy="1576.6" rx="7.9" ry="7.0"/>
<ellipse cx="1020.2" cy="1576.9" rx="7.9" ry="7.0"/>
<ellipse cx="1021.4" cy="1575.3" rx="7.9" ry="7.0"/>
<ellipse cx="1022.6" cy="1575.4" rx="7.9" ry="7.0"/>
<ellipse cx="1023.8" cy="1573.7" rx="7.9" ry="7.0"/>
<ellipse cx="1025" cy="1573.8" rx="7.9" ry="7.0"/>
<ellipse cx="1026.1" cy="1571.9" rx="7.9" ry="7.0"/>
<ellipse cx="1027.3" cy="1571.9" rx="7.9" ry="7.0"/>
<ellipse cx="1028.5" cy="1569.9" rx="7.9" ry="7.0"/>
<ellipse cx="1029.7" cy="1569.7" rx="7.9" ry="7.0"/>
<ellipse cx="1030.8" cy="1567.6" rx="7.9" ry="7.0"/>
<ellipse cx="1032" cy="1567.2" rx="7.9" ry="7.0"/>
<ellipse cx="1033.2" cy="1565" rx="7.9" ry="7.0"/>
<ellipse cx="1034.4" cy="1564.8" rx="7.9" ry="7.0"/>
<ellipse cx="1035.6" cy="1562.7" rx="7.9" ry="7.0"/>
<ellipse cx="1036.7" cy="1562.3" rx="7.9" ry="7.0"/>
<ellipse cx="1037.9" cy="1559.5" rx="7.9" ry="7.0"/>
<ellipse cx="1039.1" cy="1557.7" rx="7.9" ry="7.0"/>
<ellipse cx="1040.3" cy="1553.2" rx="7.9" ry="7.0"/>
<ellipse cx="1042.6" cy="1545.9" rx="7.9" ry="7.0"/>
<ellipse cx="1046.9" cy="1532.1" rx="7.9" ry="7.0"/>
<ellipse cx="1050.9" cy="1510.2" rx="7.9" ry="7.0"/>
<ellipse cx="1054.9" cy="1482.5" rx="7.9" ry="7.0"/>
<ellipse cx="1059.2" cy="1449.6" rx="7.9" ry="7.0"/>
<ellipse cx="1063.2" cy="1414.8" rx="7.9" ry="7.0"/>
<ellipse cx="1067.5" cy="1377.6" rx="7.9" ry="7.0"/>
<ellipse cx="1071.5" cy="1339.2" rx="7.9" ry="7.0"/>
<ellipse cx="1075.8" cy="1301" rx="7.9" ry="7.0"/>
<ellipse cx="1079.8" cy="1262.2" rx="7.9" ry="7.0"/>
<ellipse cx="1083.8" cy="1230.8" rx="7.9" ry="7.0"/>
<ellipse cx="1087.8" cy="1202.8" rx="7.9" ry="7.0"/>
<ellipse cx="1091.8" cy="1184.1" rx="7.9" ry="7.0"/>
<ellipse cx="1096.2" cy="1172.1" rx="7.9" ry="7.0"/>
<ellipse cx="1100.2" cy="1176.7" rx="7.9" ry="7.0"/>
<ellipse cx="1104.5" cy="1195.8" rx="7.9" ry="7.0"/>
<ellipse cx="1108.8" cy="1228.1" rx="7.9" ry="7.0"/>
<ellipse cx="1112.8" cy="1265" rx="7.9" ry="7.0"/>
<ellipse cx="1116.8" cy="1305" rx="7.9" ry="7.0"/>
<ellipse cx="1120.8" cy="1337.6" rx="7.9" ry="7.0"/>
<ellipse cx="1125.1" cy="1358.5" rx="7.9" ry="7.0"/>
<ellipse cx="1129.1" cy="1374.2" rx="7.9" ry="7.0"/>
<ellipse cx="1133.1" cy="1385" rx="7.9" ry="7.0"/>
<ellipse cx="1136.8" cy="1394.2" rx="7.9" ry="7.0"/>
<ellipse cx="1139.1" cy="1399.8" rx="7.9" ry="7.0"/>
<ellipse cx="1140.3" cy="1401.2" rx="7.9" ry="7.0"/>
<ellipse cx="1141.5" cy="1404.3" rx="7.9" ry="7.0"/>
<ellipse cx="1142.7" cy="1405" rx="7.9" ry="7.0"/>
<ellipse cx="1143.8" cy="1407.4" rx="7.9" ry="7.0"/>
<ellipse cx="1145" cy="1407.9" rx="7.9" ry="7.0"/>
<ellipse cx="1146.2" cy="1410" rx="7.9" ry="7.0"/>
<ellipse cx="1147.4" cy="1410.2" rx="7.9" ry="7.0"/>
<ellipse cx="1148.5" cy="1412.1" rx="7.9" ry="7.0"/>
<ellipse cx="1149.7" cy="1412" rx="7.9" ry="7.0"/>
<ellipse cx="1150.9" cy="1413.7" rx="7.9" ry="7.0"/>
<ellipse cx="1152.1" cy="1413.5" rx="7.9" ry="7.0"/>
<ellipse cx="1153.2" cy="1415.1" rx="7.9" ry="7.0"/>
<ellipse cx="1154.4" cy="1414.8" rx="7.9" ry="7.0"/>
<ellipse cx="1155.6" cy="1416.3" rx="7.9" ry="7.0"/>
<ellipse cx="1156.8" cy="1415.9" rx="7.9" ry="7.0"/>
<ellipse cx="1158" cy="1417.3" rx="7.9" ry="7.0"/>
<ellipse cx="1159.1" cy="1416.8" rx="7.9" ry="7.0"/>
<ellipse cx="1160.3" cy="1418.1" rx="7.9" ry="7.0"/>
<ellipse cx="1161.5" cy="1417.6" rx="7.9" ry="7.0"/>
<ellipse cx="1162.7" cy="1418.9" rx="7.9" ry="7.0"/>
<ellipse cx="1163.8" cy="1418.3" rx="7.9" ry="7.0"/>
<ellipse cx="1165" cy="1419.5" rx="7.9" ry="7.0"/>
<ellipse cx="1166.2" cy="1418.9" rx="7.9" ry="7.0"/>
<ellipse cx="1167.4" cy="1420.1" rx="7.9" ry="7.0"/>
<ellipse cx="1168.6" cy="1419.5" rx="7.9" ry="7.0"/>
<ellipse cx="1169.7" cy="1420.8" rx="7.9" ry="7.0"/>
<ellipse cx="1170.9" cy="1420.2" rx="7.9" ry="7.0"/>
<ellipse cx="1172.1" cy="1421.6" rx="7.9" ry="7.0"/>
<ellipse cx="1173.3" cy="1421.1" rx="7.9" ry="7.0"/>
<ellipse cx="1174.4" cy="1422.4" rx="7.9" ry="7.0"/>
<ellipse cx="1175.6" cy="1422" rx="7.9" ry="7.0"/>
<ellipse cx="1176.8" cy="1423.3" rx="7.9" ry="7.0"/>
<ellipse cx="1178" cy="1422.8" rx="7.9" ry="7.0"/>
<ellipse cx="1179.1" cy="1423.9" rx="7.9" ry="7.0"/>
<ellipse cx="1180.3" cy="1423.2" rx="7.9" ry="7.0"/>
<ellipse cx="1181.5" cy="1424.3" rx="7.9" ry="7.0"/>
<ellipse cx="1182.7" cy="1423.6" rx="7.9" ry="7.0"/>
<ellipse cx="1183.9" cy="1424.6" rx="7.9" ry="7.0"/>
<ellipse cx="1185" cy="1423.8" rx="7.9" ry="7.0"/>
<ellipse cx="1186.2" cy="1424.8" rx="7.9" ry="7.0"/>
<ellipse cx="1187.4" cy="1423.9" rx="7.9" ry="7.0"/>
<ellipse cx="1188.6" cy="1424.6" rx="7.9" ry="7.0"/>
<ellipse cx="1189.7" cy="1423.3" rx="7.9" ry="7.0"/>
<ellipse cx="1190.9" cy="1423.7" rx="7.9" ry="7.0"/>
<ellipse cx="1192.1" cy="1422.1" rx="7.9" ry="7.0"/>
<ellipse cx="1193.3" cy="1422.5" rx="7.9" ry="7.0"/>
<ellipse cx="1194.4" cy="1420.9" rx="7.9" ry="7.0"/>
<ellipse cx="1195.6" cy="1421.2" rx="7.9" ry="7.0"/>
<ellipse cx="1196.8" cy="1419.7" rx="7.9" ry="7.0"/>
<ellipse cx="1198" cy="1420.4" rx="7.9" ry="7.0"/>
<ellipse cx="1199.2" cy="1419.3" rx="7.9" ry="7.0"/>
<ellipse cx="1200.3" cy="1420.4" rx="7.9" ry="7.0"/>
<ellipse cx="1201.5" cy="1420" rx="7.9" ry="7.0"/>
<ellipse cx="1202.7" cy="1421.7" rx="7.9" ry="7.0"/>
<ellipse cx="1203.9" cy="1421.5" rx="7.9" ry="7.0"/>
<ellipse cx="1205" cy="1423.2" rx="7.9" ry="7.0"/>
<ellipse cx="1206.2" cy="1422.8" rx="7.9" ry="7.0"/>
<ellipse cx="1207.4" cy="1424" rx="7.9" ry="7.0"/>
<ellipse cx="1208.6" cy="1423.3" rx="7.9" ry="7.0"/>
<ellipse cx="1209.8" cy="1424.4" rx="7.9" ry="7.0"/>
<ellipse cx="1210.9" cy="1423.6" rx="7.9" ry="7.0"/>
<ellipse cx="1212.1" cy="1424.7" rx="7.9" ry="7.0"/>
<ellipse cx="1213.3" cy="1423.8" rx="7.9" ry="7.0"/>
<ellipse cx="1214.5" cy="1424.8" rx="7.9" ry="7.0"/>
<ellipse cx="1215.6" cy="1423.9" rx="7.9" ry="7.0"/>
<ellipse cx="1216.8" cy="1424.8" rx="7.9" ry="7.0"/>
<ellipse cx="1218" cy="1423.8" rx="7.9" ry="7.0"/>
<ellipse cx="1219.2" cy="1424.5" rx="7.9" ry="7.0"/>
<ellipse cx="1220.3" cy="1423.3" rx="7.9" ry="7.0"/>
<ellipse cx="1221.5" cy="1423.8" rx="7.9" ry="7.0"/>
<ellipse cx="1222.7" cy="1422.5" rx="7.9" ry="7.0"/>
<ellipse cx="1223.9" cy="1422.9" rx="7.9" ry="7.0"/>
<ellipse cx="1225.1" cy="1421.6" rx="7.9" ry="7.0"/>
<ellipse cx="1226.2" cy="1422" rx="7.9" ry="7.0"/>
<ellipse cx="1227.4" cy="1420.5" rx="7.9" ry="7.0"/>
<ellipse cx="1228.6" cy="1420.7" rx="7.9" ry="7.0"/>
<ellipse cx="1229.8" cy="1418.9" rx="7.9" ry="7.0"/>
<ellipse cx="1230.9" cy="1418.9" rx="7.9" ry="7.0"/>
<ellipse cx="1232.1" cy="1417.1" rx="7.9" ry="7.0"/>
<ellipse cx="1233.3" cy="1417.1" rx="7.9" ry="7.0"/>
<ellipse cx="1234.5" cy="1415.4" rx="7.9" ry="7.0"/>
<ellipse cx="1235.6" cy="1415.5" rx="7.9" ry="7.0"/>
<ellipse cx="1236.8" cy="1413.8" rx="7.9" ry="7.0"/>
<ellipse cx="1238" cy="1414" rx="7.9" ry="7.0"/>
<ellipse cx="1239.2" cy="1412.3" rx="7.9" ry="7.0"/>
<ellipse cx="1240.4" cy="1412.5" rx="7.9" ry="7.0"/>
<ellipse cx="1241.5" cy="1410.7" rx="7.9" ry="7.0"/>
<ellipse cx="1242.7" cy="1410.9" rx="7.9" ry="7.0"/>
<ellipse cx="1243.9" cy="1409.2" rx="7.9" ry="7.0"/>
<ellipse cx="1245.1" cy="1409.2" rx="7.9" ry="7.0"/>
<ellipse cx="1246.2" cy="1407.4" rx="7.9" ry="7.0"/>
<ellipse cx="1247.4" cy="1407.6" rx="7.9" ry="7.0"/>
<ellipse cx="1248.6" cy="1405.8" rx="7.9" ry="7.0"/>
<ellipse cx="1249.8" cy="1405.9" rx="7.9" ry="7.0"/>
<ellipse cx="1251" cy="1404.1" rx="7.9" ry="7.0"/>
<ellipse cx="1252.1" cy="1404.1" rx="7.9" ry="7.0"/>
<ellipse cx="1253.3" cy="1402.3" rx="7.9" ry="7.0"/>
<ellipse cx="1254.5" cy="1402.3" rx="7.9" ry="7.0"/>
<ellipse cx="1255.7" cy="1400.3" rx="7.9" ry="7.0"/>
<ellipse cx="1256.8" cy="1400.2" rx="7.9" ry="7.0"/>
<ellipse cx="1258" cy="1398.3" rx="7.9" ry="7.0"/>
<ellipse cx="1259.2" cy="1398.1" rx="7.9" ry="7.0"/>
<ellipse cx="1260.4" cy="1396" rx="7.9" ry="7.0"/>
<ellipse cx="1261.5" cy="1395.8" rx="7.9" ry="7.0"/>
<ellipse cx="1262.7" cy="1393.6" rx="7.9" ry="7.0"/>
<ellipse cx="1263.9" cy="1393.3" rx="7.9" ry="7.0"/>
<ellipse cx="1265.1" cy="1391.1" rx="7.9" ry="7.0"/>
<ellipse cx="1266.3" cy="1390.6" rx="7.9" ry="7.0"/>
<ellipse cx="1267.4" cy="1388.2" rx="7.9" ry="7.0"/>
<ellipse cx="1268.6" cy="1387.6" rx="7.9" ry="7.0"/>
<ellipse cx="1269.8" cy="1385.2" rx="7.9" ry="7.0"/>
<ellipse cx="1271" cy="1384.5" rx="7.9" ry="7.0"/>
<ellipse cx="1272.1" cy="1381.9" rx="7.9" ry="7.0"/>
<ellipse cx="1273.3" cy="1381.1" rx="7.9" ry="7.0"/>
<ellipse cx="1274.5" cy="1378.6" rx="7.9" ry="7.0"/>
<ellipse cx="1275.7" cy="1377.8" rx="7.9" ry="7.0"/>
<ellipse cx="1276.8" cy="1375.2" rx="7.9" ry="7.0"/>
<ellipse cx="1278" cy="1374.4" rx="7.9" ry="7.0"/>
<ellipse cx="1279.2" cy="1371.7" rx="7.9" ry="7.0"/>
<ellipse cx="1280.4" cy="1370.9" rx="7.9" ry="7.0"/>
<ellipse cx="1281.6" cy="1368.1" rx="7.9" ry="7.0"/>
<ellipse cx="1282.7" cy="1367.2" rx="7.9" ry="7.0"/>
<ellipse cx="1283.9" cy="1364.4" rx="7.9" ry="7.0"/>
<ellipse cx="1285.1" cy="1363.4" rx="7.9" ry="7.0"/>
<ellipse cx="1286.3" cy="1360.6" rx="7.9" ry="7.0"/>
<ellipse cx="1287.4" cy="1359.5" rx="7.9" ry="7.0"/>
<ellipse cx="1288.6" cy="1356.6" rx="7.9" ry="7.0"/>
<ellipse cx="1289.8" cy="1355.5" rx="7.9" ry="7.0"/>
<ellipse cx="1291" cy="1352.6" rx="7.9" ry="7.0"/>
<ellipse cx="1292.2" cy="1351.6" rx="7.9" ry="7.0"/>
<ellipse cx="1293.3" cy="1348.7" rx="7.9" ry="7.0"/>
<ellipse cx="1294.5" cy="1347.8" rx="7.9" ry="7.0"/>
<ellipse cx="1295.7" cy="1345.1" rx="7.9" ry="7.0"/>
<ellipse cx="1296.9" cy="1344.3" rx="7.9" ry="7.0"/>
<ellipse cx="1298" cy="1341.6" rx="7.9" ry="7.0"/>
<ellipse cx="1299.2" cy="1340.8" rx="7.9" ry="7.0"/>
<ellipse cx="1300.4" cy="1338.2" rx="7.9" ry="7.0"/>
<ellipse cx="1301.6" cy="1337.4" rx="7.9" ry="7.0"/>
<ellipse cx="1302.7" cy="1334.7" rx="7.9" ry="7.0"/>
<ellipse cx="1303.9" cy="1333.8" rx="7.9" ry="7.0"/>
<ellipse cx="1305.1" cy="1331.1" rx="7.9" ry="7.0"/>
<ellipse cx="1306.3" cy="1330.2" rx="7.9" ry="7.0"/>
<ellipse cx="1307.5" cy="1327.5" rx="7.9" ry="7.0"/>
<ellipse cx="1308.6" cy="1326.6" rx="7.9" ry="7.0"/>
<ellipse cx="1309.8" cy="1323.9" rx="7.9" ry="7.0"/>
<ellipse cx="1311" cy="1323.2" rx="7.9" ry="7.0"/>
<ellipse cx="1312.2" cy="1320.6" rx="7.9" ry="7.0"/>
<ellipse cx="1313.3" cy="1319.9" rx="7.9" ry="7.0"/>
<ellipse cx="1314.5" cy="1317.4" rx="7.9" ry="7.0"/>
<ellipse cx="1315.7" cy="1316.7" rx="7.9" ry="7.0"/>
<ellipse cx="1316.9" cy="1314.3" rx="7.9" ry="7.0"/>
<ellipse cx="1318" cy="1313.7" rx="7.9" ry="7.0"/>
<ellipse cx="1319.2" cy="1311.2" rx="7.9" ry="7.0"/>
<ellipse cx="1320.4" cy="1310.6" rx="7.9" ry="7.0"/>
<ellipse cx="1321.6" cy="1308.1" rx="7.9" ry="7.0"/>
<ellipse cx="1322.8" cy="1307.4" rx="7.9" ry="7.0"/>
<ellipse cx="1323.9" cy="1304.8" rx="7.9" ry="7.0"/>
<ellipse cx="1325.1" cy="1304.1" rx="7.9" ry="7.0"/>
<ellipse cx="1326.3" cy="1301.7" rx="7.9" ry="7.0"/>
<ellipse cx="1327.5" cy="1301" rx="7.9" ry="7.0"/>
<ellipse cx="1328.6" cy="1298.5" rx="7.9" ry="7.0"/>
<ellipse cx="1329.8" cy="1298" rx="7.9" ry="7.0"/>
<ellipse cx="1331" cy="1295.7" rx="7.9" ry="7.0"/>
<ellipse cx="1332.2" cy="1295.2" rx="7.9" ry="7.0"/>
<ellipse cx="1333.4" cy="1292.9" rx="7.9" ry="7.0"/>
<ellipse cx="1334.5" cy="1292.5" rx="7.9" ry="7.0"/>
<ellipse cx="1335.7" cy="1290.3" rx="7.9" ry="7.0"/>
<ellipse cx="1336.9" cy="1290" rx="7.9" ry="7.0"/>
<ellipse cx="1338.1" cy="1287.8" rx="7.9" ry="7.0"/>
<ellipse cx="1339.2" cy="1287.2" rx="7.9" ry="7.0"/>
</g>
</g>
<g stroke="#000" fill="none" stroke-linecap="butt">
<path d="M939 1154.5V1589.7" stroke-width="3.8"/>
<path d="M1380.6 1154.5V1589.7" stroke-width="3.3"/>
<path d="M930.5 1587.9H1389.1" stroke-width="3.6"/>
<path d="M930.5 1587.9H947.5M930.5 1501.5H947.5M930.5 1415.1H947.5M930.5 1328.8H947.5M930.5 1242.4H947.5M930.5 1156H947.5M1372.1 1587.9H1389.1M1372.1 1501.5H1389.1M1372.1 1415.1H1389.1M1372.1 1328.8H1389.1M1372.1 1242.4H1389.1M1372.1 1156H1389.1M939 1579.4V1596.4M1027.3 1579.4V1596.4M1115.6 1579.4V1596.4M1204 1579.4V1596.4M1292.3 1579.4V1596.4M1380.6 1579.4V1596.4" stroke-width="3.0"/>
<path d="M939 1570.6H946M939 1553.3H946M939 1536.1H946M939 1518.8H946M939 1484.2H946M939 1467H946M939 1449.7H946M939 1432.4H946M939 1397.9H946M939 1380.6H946M939 1363.3H946M939 1346H946M939 1311.5H946M939 1294.2H946M939 1276.9H946M939 1259.7H946M939 1225.1H946M939 1207.8H946M939 1190.6H946M939 1173.3H946M1373.6 1570.6H1380.6M1373.6 1553.3H1380.6M1373.6 1536.1H1380.6M1373.6 1518.8H1380.6M1373.6 1484.2H1380.6M1373.6 1467H1380.6M1373.6 1449.7H1380.6M1373.6 1432.4H1380.6M1373.6 1397.9H1380.6M1373.6 1380.6H1380.6M1373.6 1363.3H1380.6M1373.6 1346H1380.6M1373.6 1311.5H1380.6M1373.6 1294.2H1380.6M1373.6 1276.9H1380.6M1373.6 1259.7H1380.6M1373.6 1225.1H1380.6M1373.6 1207.8H1380.6M1373.6 1190.6H1380.6M1373.6 1173.3H1380.6M956.7 1580.9V1587.9M974.3 1580.9V1587.9M992 1580.9V1587.9M1009.7 1580.9V1587.9M1045 1580.9V1587.9M1062.6 1580.9V1587.9M1080.3 1580.9V1587.9M1098 1580.9V1587.9M1133.3 1580.9V1587.9M1151 1580.9V1587.9M1168.6 1580.9V1587.9M1186.3 1580.9V1587.9M1221.6 1580.9V1587.9M1239.3 1580.9V1587.9M1257 1580.9V1587.9M1274.6 1580.9V1587.9M1309.9 1580.9V1587.9M1327.6 1580.9V1587.9M1345.3 1580.9V1587.9M1362.9 1580.9V1587.9" stroke-width="2.4"/>
</g>
<g font-family='"Liberation Sans", Arial, Helvetica, sans-serif' font-size="16.9" fill="#000" stroke="#000" stroke-width="0.35">
<text transform="translate(881.2 1594) scale(1.11 1)">0</text>
<text transform="translate(881.2 1507.6) scale(1.11 1)">400</text>
<text transform="translate(881.2 1421.2) scale(1.11 1)">800</text>
<text transform="translate(881.2 1334.8) scale(1.11 1)">1200</text>
<text transform="translate(881.2 1248.4) scale(1.11 1)">1600</text>
<text transform="translate(881.2 1162.1) scale(1.11 1)">2000</text>
<text transform="translate(1413.1 1594) scale(1.11 1)">0.00</text>
<text transform="translate(1413.1 1507.6) scale(1.11 1)">20.00</text>
<text transform="translate(1413.1 1421.2) scale(1.11 1)">40.00</text>
<text transform="translate(1413.1 1334.8) scale(1.11 1)">60.00</text>
<text transform="translate(1413.1 1248.4) scale(1.11 1)">80.00</text>
<text transform="translate(1413.1 1162.1) scale(1.11 1)">100.00</text>
<text text-anchor="middle" transform="translate(946.6 1612.2) scale(1.11 1)">0.0</text>
<text text-anchor="middle" transform="translate(1034.9 1612.2) scale(1.11 1)">5.0</text>
<text text-anchor="middle" transform="translate(1123.2 1612.2) scale(1.11 1)">10.0</text>
<text text-anchor="middle" transform="translate(1211.6 1612.2) scale(1.11 1)">15.0</text>
<text text-anchor="middle" transform="translate(1299.9 1612.2) scale(1.11 1)">20.0</text>
<text text-anchor="middle" transform="translate(1388.2 1612.2) scale(1.11 1)">25.0</text>
</g>
<g font-family='"Liberation Sans", Arial, Helvetica, sans-serif' font-size="16.5" fill="#000" stroke="#000" stroke-width="0.35">
<text transform="translate(1102.6 1642) scale(1.1817 1)">Time t  in min</text>
<text transform="translate(859.4 1441) rotate(-90) scale(1.0661 1.2)">Viscosity  η  in cP</text>
<text transform="translate(1489.3 1455) rotate(-90) scale(1.0902 1.2)">Temperature T  in °C</text>
</g>
</g>
<!-- 70FE -->
<g>
<g stroke-width="2.0" stroke-dasharray="8.7 3.4 3.6 3.4" fill="none">
<path d="M96.9 2122.4H546.5" stroke="#7e7e7e" stroke-dasharray="11 3.8 4 3.8"/>
<path d="M96.9 2054.4H546.5" stroke="#7e7e7e" stroke-dasharray="11 3.8 4 3.8"/>
<path d="M96.9 1986.5H546.5" stroke="#7e7e7e" stroke-dasharray="11 3.8 4 3.8"/>
<path d="M96.9 1918.5H546.5" stroke="#7e7e7e" stroke-dasharray="11 3.8 4 3.8"/>
<path d="M96.9 1850.5H546.5" stroke="#7e7e7e" stroke-dasharray="11 3.8 4 3.8"/>
<path d="M186.8 1782.6V2190.3" stroke="#7e7e7e"/>
<path d="M276.7 1782.6V2190.3" stroke="#7e7e7e"/>
<path d="M366.7 1782.6V2190.3" stroke="#7e7e7e"/>
<path d="M456.6 1782.6V2190.3" stroke="#7e7e7e"/>
</g>
<path d="M96.9 1782.6H546.5" stroke="#787878" stroke-width="2.0" stroke-dasharray="11 3.8 4 3.8" fill="none"/>
<clipPath id="cp_70FE"><rect x="96.9" y="1782.6" width="449.6" height="407.7"/></clipPath>
<g clip-path="url(#cp_70FE)">
<polyline fill="none" stroke="#9a9a9a" stroke-width="1.1" stroke-linejoin="round" points="96.9,2001.1 102.5,1990.9 114.9,1988.5 122.1,1978.3 144.7,1946.1 187.7,1890 207.1,1864.7 222.4,1846.3 261.1,1806 276,1804.2 339,1803.2 366.1,1836.6 385.5,1864.4 404.1,1890 418.6,1909.6 435,1929 447.9,1943.4 455.7,1953.1 469,1966 481.9,1977.2 488.6,1982.4 506.9,1984.4"/>
<polyline fill="none" stroke="#9a9a9a" stroke-width="1.3" stroke-linejoin="round" points="94.9,2192.9 96.1,2192.9 97.3,2192.9 98.4,2192.9 99.6,2192.9 100.8,2192.9 102,2192.9 103.2,2192.9 104.4,2192.9 105.6,2192.9 106.7,2192.9 107.9,2192.9 109.1,2192.9 110.3,2192.9 111.5,2192.9 112.7,2192.9 113.9,2192.9 115,2192.8 116.2,2192.8 117.4,2192.8 118.6,2192.8 119.8,2192.8 121,2192.8 122.2,2192.8 123.3,2192.8 124.5,2192.8 125.7,2192.7 126.9,2192.7 128.1,2192.7 129.3,2192.7 130.5,2192.7 131.6,2192.7 132.8,2192.7 134,2192.6 135.2,2192.6 136.4,2192.6 137.6,2192.6 138.8,2192.6 139.9,2192.5 141.1,2192.5 142.3,2192.4 143.5,2192.4 144.7,2192.3 145.9,2192.3 147.1,2192.2 148.2,2192.1 149.4,2192 150.6,2191.9 151.8,2191.8 153,2191.7 154.2,2191.6 155.4,2191.5 156.5,2191.3 157.7,2191.2 158.9,2191.1 160.1,2190.9 161.3,2190.6 162.5,2190.3 163.7,2189.9 164.8,2189.5 166,2189 167.2,2188.5 168.4,2188 169.6,2187.1 170.8,2187.5 172,2186.1 173.1,2186.6 174.3,2185.1 175.5,2185.6 176.7,2184.1 177.9,2184.6 179.1,2183.1 180.3,2183.5 181.4,2182 182.6,2182.3 183.8,2180.8 185,2181 186.2,2179.5 187.4,2179.7 188.6,2178.1 189.7,2178.2 190.9,2176.5 192.1,2176.5 193.3,2174.6 194.5,2174.4 195.7,2172.2 196.9,2171.7 198,2169.2 199.2,2168.5 200.4,2165.8 201.6,2164.8 202.8,2161.8 204,2160.6 205.2,2157.5 206.3,2156.2 207.5,2153 208.7,2151.6 209.9,2148.2 211.1,2146.7 212.3,2143.5 213.5,2142 214.6,2138.8 215.8,2137.2 217,2133.5 218.2,2131.5 219.4,2127.7 220.6,2126.2 221.8,2123.2 222.9,2122.3 224.1,2119.4 225.3,2117.8 227.7,2111.2 232.1,2096.7 236.2,2079.4 240.6,2057.4 244.7,2033.2 249.1,2001.8 253.2,1965.6 257.2,1924.8 261.3,1882.3 265.4,1850.3 270.1,1843 273.9,1858.7 278.3,1876.7 282.4,1903.7 286.8,1920.7 291.2,1936.7 295.9,1948.3 300.6,1957.8 303,1960.8 304.2,1963.2 305.4,1963.6 306.6,1965.8 307.7,1965.9 308.9,1967.7 310.1,1967.7 311.3,1969.4 312.5,1969.2 313.7,1970.8 314.9,1970.6 316,1972.2 317.2,1972 318.4,1973.5 319.6,1973.3 320.8,1974.9 322,1974.6 323.2,1976 324.3,1975.7 325.5,1977.2 326.7,1976.8 327.9,1978.2 329.1,1977.8 330.3,1979.2 331.5,1978.7 332.6,1979.9 333.8,1979.4 335,1980.7 336.2,1980.1 337.4,1981.4 338.6,1980.9 339.8,1982.1 340.9,1981.6 342.1,1983 343.3,1982.5 344.5,1983.9 345.7,1983.3 346.9,1984.7 348.1,1984.3 349.2,1985.7 350.4,1985.3 351.6,1986.8 352.8,1986.5 354,1988.1 355.2,1987.9 356.4,1989.6 357.5,1989.7 358.7,1991.6 359.9,1991.7 361.1,1993.7 362.3,1993.9 363.5,1995.9 364.7,1996.1 365.8,1998.3 367,1998.6 368.2,2000.7 369.4,2001.1 370.6,2003.2 371.8,2003.4 373,2005.4 374.1,2005.5 375.3,2007.5 376.5,2007.6 377.7,2009.5 378.9,2009.6 380.1,2011.3 381.3,2011 382.4,2012.4 383.6,2011.7 384.8,2012.9 386,2012.3 387.2,2013.4 388.4,2012.7 389.6,2013.8 390.7,2012.9 391.9,2013.9 393.1,2012.9 394.3,2013.8 395.5,2012.7 396.7,2013.5 397.9,2012.3 399,2013 400.2,2011.8 401.4,2012.4 402.6,2011.2 403.8,2011.8 405,2010.5 406.2,2011.1 407.3,2009.7 408.5,2010.1 409.7,2008.6 410.9,2008.8 412.1,2007.2 413.3,2007.3 414.5,2005.6 415.6,2005.6 416.8,2003.5 418,2003.3 419.2,2001.1 420.4,2000.6 421.6,1998.3 422.8,1997.7 423.9,1995 425.1,1994.1 426.3,1991.2 427.5,1990.1 428.7,1987.1 429.9,1985.9 431.1,1982.7 432.2,1981.3 433.4,1978 434.6,1976.5 435.8,1973.1 437,1971.6 438.2,1968.3 439.4,1966.8 440.5,1963.5 441.7,1962.1 442.9,1958.8 444.1,1957.4 445.3,1954.1 446.5,1952.6 447.7,1949.4 448.8,1947.9 450,1944.6 451.2,1943.1 452.4,1939.8 453.6,1938.4 454.8,1935.1 456,1933.6 457.1,1930.4 458.3,1928.9 459.5,1925.6 460.7,1924.1 461.9,1920.8 463.1,1919.4 464.3,1916.1 465.4,1914.7 466.6,1911.3 467.8,1909.8 469,1906.5 470.2,1905.1 471.4,1902.1 472.6,1900.9 473.7,1898 474.9,1897 476.1,1894.2 477.3,1893.2 478.5,1890.3 479.7,1889.3 480.9,1886.4 482,1885.3 483.2,1882.3 484.4,1881.2 485.6,1878.3 486.8,1877.2 488,1874.4 489.2,1873.5 490.3,1870.8 491.5,1870 492.7,1867.5 493.9,1866.7 495.1,1864.3 496.3,1863.6 497.5,1861.3 498.6,1860.8 499.8,1858.6 501,1858.2 502.2,1856.1 503.4,1855.9 505,1854"/>
<g fill="#9a9a9a">
<ellipse cx="94.9" cy="2192.9" rx="8.1" ry="6.5"/>
<ellipse cx="96.1" cy="2192.9" rx="8.1" ry="6.5"/>
<ellipse cx="97.3" cy="2192.9" rx="8.1" ry="6.5"/>
<ellipse cx="98.4" cy="2192.9" rx="8.1" ry="6.5"/>
<ellipse cx="99.6" cy="2192.9" rx="8.1" ry="6.5"/>
<ellipse cx="100.8" cy="2192.9" rx="8.1" ry="6.5"/>
<ellipse cx="102" cy="2192.9" rx="8.1" ry="6.5"/>
<ellipse cx="103.2" cy="2192.9" rx="8.1" ry="6.5"/>
<ellipse cx="104.4" cy="2192.9" rx="8.1" ry="6.5"/>
<ellipse cx="105.6" cy="2192.9" rx="8.1" ry="6.5"/>
<ellipse cx="106.7" cy="2192.9" rx="8.1" ry="6.5"/>
<ellipse cx="107.9" cy="2192.9" rx="8.1" ry="6.5"/>
<ellipse cx="109.1" cy="2192.9" rx="8.1" ry="6.5"/>
<ellipse cx="110.3" cy="2192.9" rx="8.1" ry="6.5"/>
<ellipse cx="111.5" cy="2192.9" rx="8.1" ry="6.5"/>
<ellipse cx="112.7" cy="2192.9" rx="8.1" ry="6.5"/>
<ellipse cx="113.9" cy="2192.9" rx="8.1" ry="6.5"/>
<ellipse cx="115" cy="2192.8" rx="8.1" ry="6.5"/>
<ellipse cx="116.2" cy="2192.8" rx="8.1" ry="6.5"/>
<ellipse cx="117.4" cy="2192.8" rx="8.1" ry="6.5"/>
<ellipse cx="118.6" cy="2192.8" rx="8.1" ry="6.5"/>
<ellipse cx="119.8" cy="2192.8" rx="8.1" ry="6.5"/>
<ellipse cx="121" cy="2192.8" rx="8.1" ry="6.5"/>
<ellipse cx="122.2" cy="2192.8" rx="8.1" ry="6.5"/>
<ellipse cx="123.3" cy="2192.8" rx="8.1" ry="6.5"/>
<ellipse cx="124.5" cy="2192.8" rx="8.1" ry="6.5"/>
<ellipse cx="125.7" cy="2192.7" rx="8.1" ry="6.5"/>
<ellipse cx="126.9" cy="2192.7" rx="8.1" ry="6.5"/>
<ellipse cx="128.1" cy="2192.7" rx="8.1" ry="6.5"/>
<ellipse cx="129.3" cy="2192.7" rx="8.1" ry="6.5"/>
<ellipse cx="130.5" cy="2192.7" rx="8.1" ry="6.5"/>
<ellipse cx="131.6" cy="2192.7" rx="8.1" ry="6.5"/>
<ellipse cx="132.8" cy="2192.7" rx="8.1" ry="6.5"/>
<ellipse cx="134" cy="2192.6" rx="8.1" ry="6.5"/>
<ellipse cx="135.2" cy="2192.6" rx="8.1" ry="6.5"/>
<ellipse cx="136.4" cy="2192.6" rx="8.1" ry="6.5"/>
<ellipse cx="137.6" cy="2192.6" rx="8.1" ry="6.5"/>
<ellipse cx="138.8" cy="2192.6" rx="8.1" ry="6.5"/>
<ellipse cx="139.9" cy="2192.5" rx="8.1" ry="6.5"/>
<ellipse cx="141.1" cy="2192.5" rx="8.1" ry="6.5"/>
<ellipse cx="142.3" cy="2192.4" rx="8.1" ry="6.5"/>
<ellipse cx="143.5" cy="2192.4" rx="8.1" ry="6.5"/>
<ellipse cx="144.7" cy="2192.3" rx="8.1" ry="6.5"/>
<ellipse cx="145.9" cy="2192.3" rx="8.1" ry="6.5"/>
<ellipse cx="147.1" cy="2192.2" rx="8.1" ry="6.5"/>
<ellipse cx="148.2" cy="2192.1" rx="8.1" ry="6.5"/>
<ellipse cx="149.4" cy="2192" rx="8.1" ry="6.5"/>
<ellipse cx="150.6" cy="2191.9" rx="8.1" ry="6.5"/>
<ellipse cx="151.8" cy="2191.8" rx="8.1" ry="6.5"/>
<ellipse cx="153" cy="2191.7" rx="8.1" ry="6.5"/>
<ellipse cx="154.2" cy="2191.6" rx="8.1" ry="6.5"/>
<ellipse cx="155.4" cy="2191.5" rx="8.1" ry="6.5"/>
<ellipse cx="156.5" cy="2191.3" rx="8.1" ry="6.5"/>
<ellipse cx="157.7" cy="2191.2" rx="8.1" ry="6.5"/>
<ellipse cx="158.9" cy="2191.1" rx="8.1" ry="6.5"/>
<ellipse cx="160.1" cy="2190.9" rx="8.1" ry="6.5"/>
<ellipse cx="161.3" cy="2190.6" rx="8.1" ry="6.5"/>
<ellipse cx="162.5" cy="2190.3" rx="8.1" ry="6.5"/>
<ellipse cx="163.7" cy="2189.9" rx="8.1" ry="6.5"/>
<ellipse cx="164.8" cy="2189.5" rx="8.1" ry="6.5"/>
<ellipse cx="166" cy="2189" rx="8.1" ry="6.5"/>
<ellipse cx="167.2" cy="2188.5" rx="8.1" ry="6.5"/>
<ellipse cx="168.4" cy="2188" rx="8.1" ry="6.5"/>
<ellipse cx="169.6" cy="2187.1" rx="8.1" ry="6.5"/>
<ellipse cx="170.8" cy="2187.5" rx="8.1" ry="6.5"/>
<ellipse cx="172" cy="2186.1" rx="8.1" ry="6.5"/>
<ellipse cx="173.1" cy="2186.6" rx="8.1" ry="6.5"/>
<ellipse cx="174.3" cy="2185.1" rx="8.1" ry="6.5"/>
<ellipse cx="175.5" cy="2185.6" rx="8.1" ry="6.5"/>
<ellipse cx="176.7" cy="2184.1" rx="8.1" ry="6.5"/>
<ellipse cx="177.9" cy="2184.6" rx="8.1" ry="6.5"/>
<ellipse cx="179.1" cy="2183.1" rx="8.1" ry="6.5"/>
<ellipse cx="180.3" cy="2183.5" rx="8.1" ry="6.5"/>
<ellipse cx="181.4" cy="2182" rx="8.1" ry="6.5"/>
<ellipse cx="182.6" cy="2182.3" rx="8.1" ry="6.5"/>
<ellipse cx="183.8" cy="2180.8" rx="8.1" ry="6.5"/>
<ellipse cx="185" cy="2181" rx="8.1" ry="6.5"/>
<ellipse cx="186.2" cy="2179.5" rx="8.1" ry="6.5"/>
<ellipse cx="187.4" cy="2179.7" rx="8.1" ry="6.5"/>
<ellipse cx="188.6" cy="2178.1" rx="8.1" ry="6.5"/>
<ellipse cx="189.7" cy="2178.2" rx="8.1" ry="6.5"/>
<ellipse cx="190.9" cy="2176.5" rx="8.1" ry="6.5"/>
<ellipse cx="192.1" cy="2176.5" rx="8.1" ry="6.5"/>
<ellipse cx="193.3" cy="2174.6" rx="8.1" ry="6.5"/>
<ellipse cx="194.5" cy="2174.4" rx="8.1" ry="6.5"/>
<ellipse cx="195.7" cy="2172.2" rx="8.1" ry="6.5"/>
<ellipse cx="196.9" cy="2171.7" rx="8.1" ry="6.5"/>
<ellipse cx="198" cy="2169.2" rx="8.1" ry="6.5"/>
<ellipse cx="199.2" cy="2168.5" rx="8.1" ry="6.5"/>
<ellipse cx="200.4" cy="2165.8" rx="8.1" ry="6.5"/>
<ellipse cx="201.6" cy="2164.8" rx="8.1" ry="6.5"/>
<ellipse cx="202.8" cy="2161.8" rx="8.1" ry="6.5"/>
<ellipse cx="204" cy="2160.6" rx="8.1" ry="6.5"/>
<ellipse cx="205.2" cy="2157.5" rx="8.1" ry="6.5"/>
<ellipse cx="206.3" cy="2156.2" rx="8.1" ry="6.5"/>
<ellipse cx="207.5" cy="2153" rx="8.1" ry="6.5"/>
<ellipse cx="208.7" cy="2151.6" rx="8.1" ry="6.5"/>
<ellipse cx="209.9" cy="2148.2" rx="8.1" ry="6.5"/>
<ellipse cx="211.1" cy="2146.7" rx="8.1" ry="6.5"/>
<ellipse cx="212.3" cy="2143.5" rx="8.1" ry="6.5"/>
<ellipse cx="213.5" cy="2142" rx="8.1" ry="6.5"/>
<ellipse cx="214.6" cy="2138.8" rx="8.1" ry="6.5"/>
<ellipse cx="215.8" cy="2137.2" rx="8.1" ry="6.5"/>
<ellipse cx="217" cy="2133.5" rx="8.1" ry="6.5"/>
<ellipse cx="218.2" cy="2131.5" rx="8.1" ry="6.5"/>
<ellipse cx="219.4" cy="2127.7" rx="8.1" ry="6.5"/>
<ellipse cx="220.6" cy="2126.2" rx="8.1" ry="6.5"/>
<ellipse cx="221.8" cy="2123.2" rx="8.1" ry="6.5"/>
<ellipse cx="222.9" cy="2122.3" rx="8.1" ry="6.5"/>
<ellipse cx="224.1" cy="2119.4" rx="8.1" ry="6.5"/>
<ellipse cx="225.3" cy="2117.8" rx="8.1" ry="6.5"/>
<ellipse cx="227.7" cy="2111.2" rx="8.1" ry="6.5"/>
<ellipse cx="232.1" cy="2096.7" rx="8.1" ry="6.5"/>
<ellipse cx="236.2" cy="2079.4" rx="8.1" ry="6.5"/>
<ellipse cx="240.6" cy="2057.4" rx="8.1" ry="6.5"/>
<ellipse cx="244.7" cy="2033.2" rx="8.1" ry="6.5"/>
<ellipse cx="249.1" cy="2001.8" rx="8.1" ry="6.5"/>
<ellipse cx="253.2" cy="1965.6" rx="8.1" ry="6.5"/>
<ellipse cx="257.2" cy="1924.8" rx="8.1" ry="6.5"/>
<ellipse cx="261.3" cy="1882.3" rx="8.1" ry="6.5"/>
<ellipse cx="265.4" cy="1850.3" rx="8.1" ry="6.5"/>
<ellipse cx="270.1" cy="1843" rx="8.1" ry="6.5"/>
<ellipse cx="273.9" cy="1858.7" rx="8.1" ry="6.5"/>
<ellipse cx="278.3" cy="1876.7" rx="8.1" ry="6.5"/>
<ellipse cx="282.4" cy="1903.7" rx="8.1" ry="6.5"/>
<ellipse cx="286.8" cy="1920.7" rx="8.1" ry="6.5"/>
<ellipse cx="291.2" cy="1936.7" rx="8.1" ry="6.5"/>
<ellipse cx="295.9" cy="1948.3" rx="8.1" ry="6.5"/>
<ellipse cx="300.6" cy="1957.8" rx="8.1" ry="6.5"/>
<ellipse cx="303" cy="1960.8" rx="8.1" ry="6.5"/>
<ellipse cx="304.2" cy="1963.2" rx="8.1" ry="6.5"/>
<ellipse cx="305.4" cy="1963.6" rx="8.1" ry="6.5"/>
<ellipse cx="306.6" cy="1965.8" rx="8.1" ry="6.5"/>
<ellipse cx="307.7" cy="1965.9" rx="8.1" ry="6.5"/>
<ellipse cx="308.9" cy="1967.7" rx="8.1" ry="6.5"/>
<ellipse cx="310.1" cy="1967.7" rx="8.1" ry="6.5"/>
<ellipse cx="311.3" cy="1969.4" rx="8.1" ry="6.5"/>
<ellipse cx="312.5" cy="1969.2" rx="8.1" ry="6.5"/>
<ellipse cx="313.7" cy="1970.8" rx="8.1" ry="6.5"/>
<ellipse cx="314.9" cy="1970.6" rx="8.1" ry="6.5"/>
<ellipse cx="316" cy="1972.2" rx="8.1" ry="6.5"/>
<ellipse cx="317.2" cy="1972" rx="8.1" ry="6.5"/>
<ellipse cx="318.4" cy="1973.5" rx="8.1" ry="6.5"/>
<ellipse cx="319.6" cy="1973.3" rx="8.1" ry="6.5"/>
<ellipse cx="320.8" cy="1974.9" rx="8.1" ry="6.5"/>
<ellipse cx="322" cy="1974.6" rx="8.1" ry="6.5"/>
<ellipse cx="323.2" cy="1976" rx="8.1" ry="6.5"/>
<ellipse cx="324.3" cy="1975.7" rx="8.1" ry="6.5"/>
<ellipse cx="325.5" cy="1977.2" rx="8.1" ry="6.5"/>
<ellipse cx="326.7" cy="1976.8" rx="8.1" ry="6.5"/>
<ellipse cx="327.9" cy="1978.2" rx="8.1" ry="6.5"/>
<ellipse cx="329.1" cy="1977.8" rx="8.1" ry="6.5"/>
<ellipse cx="330.3" cy="1979.2" rx="8.1" ry="6.5"/>
<ellipse cx="331.5" cy="1978.7" rx="8.1" ry="6.5"/>
<ellipse cx="332.6" cy="1979.9" rx="8.1" ry="6.5"/>
<ellipse cx="333.8" cy="1979.4" rx="8.1" ry="6.5"/>
<ellipse cx="335" cy="1980.7" rx="8.1" ry="6.5"/>
<ellipse cx="336.2" cy="1980.1" rx="8.1" ry="6.5"/>
<ellipse cx="337.4" cy="1981.4" rx="8.1" ry="6.5"/>
<ellipse cx="338.6" cy="1980.9" rx="8.1" ry="6.5"/>
<ellipse cx="339.8" cy="1982.1" rx="8.1" ry="6.5"/>
<ellipse cx="340.9" cy="1981.6" rx="8.1" ry="6.5"/>
<ellipse cx="342.1" cy="1983" rx="8.1" ry="6.5"/>
<ellipse cx="343.3" cy="1982.5" rx="8.1" ry="6.5"/>
<ellipse cx="344.5" cy="1983.9" rx="8.1" ry="6.5"/>
<ellipse cx="345.7" cy="1983.3" rx="8.1" ry="6.5"/>
<ellipse cx="346.9" cy="1984.7" rx="8.1" ry="6.5"/>
<ellipse cx="348.1" cy="1984.3" rx="8.1" ry="6.5"/>
<ellipse cx="349.2" cy="1985.7" rx="8.1" ry="6.5"/>
<ellipse cx="350.4" cy="1985.3" rx="8.1" ry="6.5"/>
<ellipse cx="351.6" cy="1986.8" rx="8.1" ry="6.5"/>
<ellipse cx="352.8" cy="1986.5" rx="8.1" ry="6.5"/>
<ellipse cx="354" cy="1988.1" rx="8.1" ry="6.5"/>
<ellipse cx="355.2" cy="1987.9" rx="8.1" ry="6.5"/>
<ellipse cx="356.4" cy="1989.6" rx="8.1" ry="6.5"/>
<ellipse cx="357.5" cy="1989.7" rx="8.1" ry="6.5"/>
<ellipse cx="358.7" cy="1991.6" rx="8.1" ry="6.5"/>
<ellipse cx="359.9" cy="1991.7" rx="8.1" ry="6.5"/>
<ellipse cx="361.1" cy="1993.7" rx="8.1" ry="6.5"/>
<ellipse cx="362.3" cy="1993.9" rx="8.1" ry="6.5"/>
<ellipse cx="363.5" cy="1995.9" rx="8.1" ry="6.5"/>
<ellipse cx="364.7" cy="1996.1" rx="8.1" ry="6.5"/>
<ellipse cx="365.8" cy="1998.3" rx="8.1" ry="6.5"/>
<ellipse cx="367" cy="1998.6" rx="8.1" ry="6.5"/>
<ellipse cx="368.2" cy="2000.7" rx="8.1" ry="6.5"/>
<ellipse cx="369.4" cy="2001.1" rx="8.1" ry="6.5"/>
<ellipse cx="370.6" cy="2003.2" rx="8.1" ry="6.5"/>
<ellipse cx="371.8" cy="2003.4" rx="8.1" ry="6.5"/>
<ellipse cx="373" cy="2005.4" rx="8.1" ry="6.5"/>
<ellipse cx="374.1" cy="2005.5" rx="8.1" ry="6.5"/>
<ellipse cx="375.3" cy="2007.5" rx="8.1" ry="6.5"/>
<ellipse cx="376.5" cy="2007.6" rx="8.1" ry="6.5"/>
<ellipse cx="377.7" cy="2009.5" rx="8.1" ry="6.5"/>
<ellipse cx="378.9" cy="2009.6" rx="8.1" ry="6.5"/>
<ellipse cx="380.1" cy="2011.3" rx="8.1" ry="6.5"/>
<ellipse cx="381.3" cy="2011" rx="8.1" ry="6.5"/>
<ellipse cx="382.4" cy="2012.4" rx="8.1" ry="6.5"/>
<ellipse cx="383.6" cy="2011.7" rx="8.1" ry="6.5"/>
<ellipse cx="384.8" cy="2012.9" rx="8.1" ry="6.5"/>
<ellipse cx="386" cy="2012.3" rx="8.1" ry="6.5"/>
<ellipse cx="387.2" cy="2013.4" rx="8.1" ry="6.5"/>
<ellipse cx="388.4" cy="2012.7" rx="8.1" ry="6.5"/>
<ellipse cx="389.6" cy="2013.8" rx="8.1" ry="6.5"/>
<ellipse cx="390.7" cy="2012.9" rx="8.1" ry="6.5"/>
<ellipse cx="391.9" cy="2013.9" rx="8.1" ry="6.5"/>
<ellipse cx="393.1" cy="2012.9" rx="8.1" ry="6.5"/>
<ellipse cx="394.3" cy="2013.8" rx="8.1" ry="6.5"/>
<ellipse cx="395.5" cy="2012.7" rx="8.1" ry="6.5"/>
<ellipse cx="396.7" cy="2013.5" rx="8.1" ry="6.5"/>
<ellipse cx="397.9" cy="2012.3" rx="8.1" ry="6.5"/>
<ellipse cx="399" cy="2013" rx="8.1" ry="6.5"/>
<ellipse cx="400.2" cy="2011.8" rx="8.1" ry="6.5"/>
<ellipse cx="401.4" cy="2012.4" rx="8.1" ry="6.5"/>
<ellipse cx="402.6" cy="2011.2" rx="8.1" ry="6.5"/>
<ellipse cx="403.8" cy="2011.8" rx="8.1" ry="6.5"/>
<ellipse cx="405" cy="2010.5" rx="8.1" ry="6.5"/>
<ellipse cx="406.2" cy="2011.1" rx="8.1" ry="6.5"/>
<ellipse cx="407.3" cy="2009.7" rx="8.1" ry="6.5"/>
<ellipse cx="408.5" cy="2010.1" rx="8.1" ry="6.5"/>
<ellipse cx="409.7" cy="2008.6" rx="8.1" ry="6.5"/>
<ellipse cx="410.9" cy="2008.8" rx="8.1" ry="6.5"/>
<ellipse cx="412.1" cy="2007.2" rx="8.1" ry="6.5"/>
<ellipse cx="413.3" cy="2007.3" rx="8.1" ry="6.5"/>
<ellipse cx="414.5" cy="2005.6" rx="8.1" ry="6.5"/>
<ellipse cx="415.6" cy="2005.6" rx="8.1" ry="6.5"/>
<ellipse cx="416.8" cy="2003.5" rx="8.1" ry="6.5"/>
<ellipse cx="418" cy="2003.3" rx="8.1" ry="6.5"/>
<ellipse cx="419.2" cy="2001.1" rx="8.1" ry="6.5"/>
<ellipse cx="420.4" cy="2000.6" rx="8.1" ry="6.5"/>
<ellipse cx="421.6" cy="1998.3" rx="8.1" ry="6.5"/>
<ellipse cx="422.8" cy="1997.7" rx="8.1" ry="6.5"/>
<ellipse cx="423.9" cy="1995" rx="8.1" ry="6.5"/>
<ellipse cx="425.1" cy="1994.1" rx="8.1" ry="6.5"/>
<ellipse cx="426.3" cy="1991.2" rx="8.1" ry="6.5"/>
<ellipse cx="427.5" cy="1990.1" rx="8.1" ry="6.5"/>
<ellipse cx="428.7" cy="1987.1" rx="8.1" ry="6.5"/>
<ellipse cx="429.9" cy="1985.9" rx="8.1" ry="6.5"/>
<ellipse cx="431.1" cy="1982.7" rx="8.1" ry="6.5"/>
<ellipse cx="432.2" cy="1981.3" rx="8.1" ry="6.5"/>
<ellipse cx="433.4" cy="1978" rx="8.1" ry="6.5"/>
<ellipse cx="434.6" cy="1976.5" rx="8.1" ry="6.5"/>
<ellipse cx="435.8" cy="1973.1" rx="8.1" ry="6.5"/>
<ellipse cx="437" cy="1971.6" rx="8.1" ry="6.5"/>
<ellipse cx="438.2" cy="1968.3" rx="8.1" ry="6.5"/>
<ellipse cx="439.4" cy="1966.8" rx="8.1" ry="6.5"/>
<ellipse cx="440.5" cy="1963.5" rx="8.1" ry="6.5"/>
<ellipse cx="441.7" cy="1962.1" rx="8.1" ry="6.5"/>
<ellipse cx="442.9" cy="1958.8" rx="8.1" ry="6.5"/>
<ellipse cx="444.1" cy="1957.4" rx="8.1" ry="6.5"/>
<ellipse cx="445.3" cy="1954.1" rx="8.1" ry="6.5"/>
<ellipse cx="446.5" cy="1952.6" rx="8.1" ry="6.5"/>
<ellipse cx="447.7" cy="1949.4" rx="8.1" ry="6.5"/>
<ellipse cx="448.8" cy="1947.9" rx="8.1" ry="6.5"/>
<ellipse cx="450" cy="1944.6" rx="8.1" ry="6.5"/>
<ellipse cx="451.2" cy="1943.1" rx="8.1" ry="6.5"/>
<ellipse cx="452.4" cy="1939.8" rx="8.1" ry="6.5"/>
<ellipse cx="453.6" cy="1938.4" rx="8.1" ry="6.5"/>
<ellipse cx="454.8" cy="1935.1" rx="8.1" ry="6.5"/>
<ellipse cx="456" cy="1933.6" rx="8.1" ry="6.5"/>
<ellipse cx="457.1" cy="1930.4" rx="8.1" ry="6.5"/>
<ellipse cx="458.3" cy="1928.9" rx="8.1" ry="6.5"/>
<ellipse cx="459.5" cy="1925.6" rx="8.1" ry="6.5"/>
<ellipse cx="460.7" cy="1924.1" rx="8.1" ry="6.5"/>
<ellipse cx="461.9" cy="1920.8" rx="8.1" ry="6.5"/>
<ellipse cx="463.1" cy="1919.4" rx="8.1" ry="6.5"/>
<ellipse cx="464.3" cy="1916.1" rx="8.1" ry="6.5"/>
<ellipse cx="465.4" cy="1914.7" rx="8.1" ry="6.5"/>
<ellipse cx="466.6" cy="1911.3" rx="8.1" ry="6.5"/>
<ellipse cx="467.8" cy="1909.8" rx="8.1" ry="6.5"/>
<ellipse cx="469" cy="1906.5" rx="8.1" ry="6.5"/>
<ellipse cx="470.2" cy="1905.1" rx="8.1" ry="6.5"/>
<ellipse cx="471.4" cy="1902.1" rx="8.1" ry="6.5"/>
<ellipse cx="472.6" cy="1900.9" rx="8.1" ry="6.5"/>
<ellipse cx="473.7" cy="1898" rx="8.1" ry="6.5"/>
<ellipse cx="474.9" cy="1897" rx="8.1" ry="6.5"/>
<ellipse cx="476.1" cy="1894.2" rx="8.1" ry="6.5"/>
<ellipse cx="477.3" cy="1893.2" rx="8.1" ry="6.5"/>
<ellipse cx="478.5" cy="1890.3" rx="8.1" ry="6.5"/>
<ellipse cx="479.7" cy="1889.3" rx="8.1" ry="6.5"/>
<ellipse cx="480.9" cy="1886.4" rx="8.1" ry="6.5"/>
<ellipse cx="482" cy="1885.3" rx="8.1" ry="6.5"/>
<ellipse cx="483.2" cy="1882.3" rx="8.1" ry="6.5"/>
<ellipse cx="484.4" cy="1881.2" rx="8.1" ry="6.5"/>
<ellipse cx="485.6" cy="1878.3" rx="8.1" ry="6.5"/>
<ellipse cx="486.8" cy="1877.2" rx="8.1" ry="6.5"/>
<ellipse cx="488" cy="1874.4" rx="8.1" ry="6.5"/>
<ellipse cx="489.2" cy="1873.5" rx="8.1" ry="6.5"/>
<ellipse cx="490.3" cy="1870.8" rx="8.1" ry="6.5"/>
<ellipse cx="491.5" cy="1870" rx="8.1" ry="6.5"/>
<ellipse cx="492.7" cy="1867.5" rx="8.1" ry="6.5"/>
<ellipse cx="493.9" cy="1866.7" rx="8.1" ry="6.5"/>
<ellipse cx="495.1" cy="1864.3" rx="8.1" ry="6.5"/>
<ellipse cx="496.3" cy="1863.6" rx="8.1" ry="6.5"/>
<ellipse cx="497.5" cy="1861.3" rx="8.1" ry="6.5"/>
<ellipse cx="498.6" cy="1860.8" rx="8.1" ry="6.5"/>
<ellipse cx="499.8" cy="1858.6" rx="8.1" ry="6.5"/>
<ellipse cx="501" cy="1858.2" rx="8.1" ry="6.5"/>
<ellipse cx="502.2" cy="1856.1" rx="8.1" ry="6.5"/>
<ellipse cx="503.4" cy="1855.9" rx="8.1" ry="6.5"/>
<ellipse cx="505" cy="1854" rx="8.1" ry="6.5"/>
</g>
</g>
<g stroke="#000" fill="none" stroke-linecap="butt">
<path d="M96.9 1781.5V2191.2" stroke-width="3.0"/>
<path d="M546.5 1781.5V2191.2" stroke-width="2.6"/>
<path d="M88.4 2190.3H555" stroke-width="1.9"/>
<path d="M88.4 2190.3H105.4M88.4 2122.4H105.4M88.4 2054.4H105.4M88.4 1986.5H105.4M88.4 1918.5H105.4M88.4 1850.5H105.4M88.4 1782.6H105.4M538 2190.3H555M538 2108.8H555M538 2027.2H555M538 1945.7H555M538 1864.1H555M538 1782.6H555M96.9 2181.8V2198.8M186.8 2181.8V2198.8M276.7 2181.8V2198.8M366.7 2181.8V2198.8M456.6 2181.8V2198.8M546.5 2181.8V2198.8" stroke-width="2.1"/>
<path d="M96.9 2176.7H103.4M96.9 2163.1H103.4M96.9 2149.5H103.4M96.9 2135.9H103.4M96.9 2108.8H103.4M96.9 2095.2H103.4M96.9 2081.6H103.4M96.9 2068H103.4M96.9 2040.8H103.4M96.9 2027.2H103.4M96.9 2013.6H103.4M96.9 2000H103.4M96.9 1972.9H103.4M96.9 1959.3H103.4M96.9 1945.7H103.4M96.9 1932.1H103.4M96.9 1904.9H103.4M96.9 1891.3H103.4M96.9 1877.7H103.4M96.9 1864.1H103.4M96.9 1837H103.4M96.9 1823.4H103.4M96.9 1809.8H103.4M96.9 1796.2H103.4M540 2174H546.5M540 2157.7H546.5M540 2141.4H546.5M540 2125.1H546.5M540 2092.5H546.5M540 2076.1H546.5M540 2059.8H546.5M540 2043.5H546.5M540 2010.9H546.5M540 1994.6H546.5M540 1978.3H546.5M540 1962H546.5M540 1929.4H546.5M540 1913.1H546.5M540 1896.8H546.5M540 1880.4H546.5M540 1847.8H546.5M540 1831.5H546.5M540 1815.2H546.5M540 1798.9H546.5M114.9 2183.8V2190.3M132.9 2183.8V2190.3M150.9 2183.8V2190.3M168.8 2183.8V2190.3M204.8 2183.8V2190.3M222.8 2183.8V2190.3M240.8 2183.8V2190.3M258.8 2183.8V2190.3M294.7 2183.8V2190.3M312.7 2183.8V2190.3M330.7 2183.8V2190.3M348.7 2183.8V2190.3M384.6 2183.8V2190.3M402.6 2183.8V2190.3M420.6 2183.8V2190.3M438.6 2183.8V2190.3M474.6 2183.8V2190.3M492.5 2183.8V2190.3M510.5 2183.8V2190.3M528.5 2183.8V2190.3" stroke-width="1.8"/>
</g>
<g font-family='"Liberation Sans", Arial, Helvetica, sans-serif' font-size="16.0" fill="#000" stroke="#000" stroke-width="0.35">
<text transform="translate(36.1 2195.5) scale(1.26 1)">0</text>
<text transform="translate(36.1 2127.6) scale(1.26 1)">200</text>
<text transform="translate(36.1 2059.6) scale(1.26 1)">400</text>
<text transform="translate(36.1 1991.7) scale(1.26 1)">600</text>
<text transform="translate(36.1 1923.7) scale(1.26 1)">800</text>
<text transform="translate(36.1 1855.8) scale(1.26 1)">1000</text>
<text transform="translate(36.1 1787.8) scale(1.26 1)">1200</text>
<text transform="translate(578.5 2196) scale(1.26 1)">0.00</text>
<text transform="translate(578.5 2114.5) scale(1.26 1)">20.00</text>
<text transform="translate(578.5 2032.9) scale(1.26 1)">40.00</text>
<text transform="translate(578.5 1951.4) scale(1.26 1)">60.00</text>
<text transform="translate(578.5 1869.9) scale(1.26 1)">80.00</text>
<text transform="translate(578.5 1788.3) scale(1.26 1)">100.00</text>
<text text-anchor="middle" transform="translate(104.7 2212.5) scale(1.26 1)">0.0</text>
<text text-anchor="middle" transform="translate(194.6 2212.5) scale(1.26 1)">5.0</text>
<text text-anchor="middle" transform="translate(284.5 2212.5) scale(1.26 1)">10.0</text>
<text text-anchor="middle" transform="translate(374.5 2212.5) scale(1.26 1)">15.0</text>
<text text-anchor="middle" transform="translate(464.4 2212.5) scale(1.26 1)">20.0</text>
<text text-anchor="middle" transform="translate(554.3 2212.5) scale(1.26 1)">25.0</text>
</g>
<g font-family='"Liberation Sans", Arial, Helvetica, sans-serif' font-size="16.5" fill="#000" stroke="#000" stroke-width="0.35">
<text transform="translate(263.7 2241.8) scale(1.1961 1)">Time t  in min</text>
<text transform="translate(16 2050.7) rotate(-90) scale(1.0037 1.12)">Viscosity  η  in cP</text>
<text transform="translate(657.2 2065.1) rotate(-90) scale(1.0288 1.12)">Temperature T  in °C</text>
</g>
</g>
<!-- 70FT -->
<g>
<g stroke-width="1" stroke-dasharray="9.4 2.9" fill="none">
<path d="M929.4 2105.5H1359.4" stroke="#6c6c6c"/>
<path d="M929.4 2029.5H1359.4" stroke="#6c6c6c"/>
<path d="M929.4 1952.5H1359.4" stroke="#c8c8c8"/>
<path d="M929.4 1875.5H1359.4" stroke="#6c6c6c"/>
<path d="M1015.5 1799.2V2182.6" stroke="#6c6c6c"/>
<path d="M1101.5 1799.2V2182.6" stroke="#989898"/>
<path d="M1187.5 1799.2V2182.6" stroke="#6c6c6c"/>
<path d="M1273.5 1799.2V2182.6" stroke="#c8c8c8"/>
</g>
<path d="M929.4 1799.2H1359.4" stroke="#333" stroke-width="1.5" stroke-dasharray="7 3" fill="none"/>
<clipPath id="cp_70FT"><rect x="929.4" y="1799.2" width="430" height="383.4"/></clipPath>
<g clip-path="url(#cp_70FT)">
<polyline fill="none" stroke="#00ced1" stroke-width="1.35" stroke-linejoin="round" points="929.4,2011.6 936.8,1997 945.4,1994 953.5,1983.2 975.2,1952.9 1016.3,1900.2 1034.8,1876.4 1049.5,1857.5 1062.2,1841.8 1074.4,1824.9 1082.1,1820.3 1100.7,1819.1 1159.9,1818.4 1186.9,1850 1205.5,1876.1 1223.2,1900.2 1237.1,1918.6 1252.8,1936.9 1265.1,1950.4 1272.5,1959.6 1285.3,1971.7 1297.7,1982.2 1303.5,1987.8 1321,1989.4"/>
<polyline fill="none" stroke="#00ced1" stroke-width="1.6" stroke-linejoin="round" points="928.5,2180.6 929.6,2180.6 930.8,2180.6 931.9,2180.6 933.1,2180.6 934.3,2180.6 935.4,2180.6 936.6,2180.6 937.7,2180.6 938.9,2180.6 940.1,2180.6 941.2,2180.6 942.4,2180.6 943.5,2180.6 944.7,2180.6 945.9,2180.6 947,2180.6 948.2,2180.6 949.3,2180.6 950.5,2180.6 951.7,2180.6 952.8,2180.6 954,2180.6 955.1,2180.6 956.3,2180.6 957.5,2180.6 958.6,2180.6 959.8,2180.6 960.9,2180.6 962.1,2180.6 963.3,2180.6 964.4,2180.6 965.6,2180.6 966.7,2180.6 967.9,2180.6 969.1,2180.6 970.2,2180.7 971.4,2180.7 972.5,2180.7 973.7,2180.7 974.9,2180.7 976,2180.8 977.2,2180.8 978.3,2180.8 979.5,2180.8 980.7,2180.8 981.8,2180.9 983,2180.9 984.1,2180.9 985.3,2180.9 986.5,2180.9 987.6,2180.9 988.8,2180.9 989.9,2180.9 991.1,2180.8 992.3,2180.6 993.4,2180.3 994.6,2180 995.7,2179.6 996.9,2179.3 998.1,2178.9 999.2,2178 1000.4,2178.5 1001.5,2177.2 1002.7,2177.7 1003.9,2176.3 1005,2176.8 1006.2,2175.2 1007.3,2175.6 1008.5,2174.1 1009.7,2174.4 1010.8,2172.8 1012,2173 1013.1,2171.3 1014.3,2171.5 1015.5,2169.7 1016.6,2169.7 1017.8,2167.8 1018.9,2167.7 1020.1,2165.8 1021.3,2165.6 1022.4,2163.5 1023.6,2163.2 1024.7,2160.9 1025.9,2160.3 1027.1,2157.7 1029.4,2153.8 1033.7,2138.5 1037.7,2115.4 1042,2078.5 1046,2031.7 1050.3,1979.1 1054.3,1932.9 1058.3,1894.8 1062.3,1862.2 1066.3,1835.4 1069.7,1814.5 1074,1804 1078,1810.2 1082,1832.9 1086,1868.3 1090.3,1905.5 1094.6,1940.6 1098.3,1966.5 1102,1987.7 1106.3,2000 1108.6,2005.6 1109.8,2006.9 1110.9,2009.8 1112.1,2010.7 1113.3,2013.2 1114.4,2013.9 1115.6,2016.3 1116.7,2016.7 1117.9,2018.7 1119.1,2018.6 1120.2,2020.2 1121.4,2019.8 1122.5,2021.2 1123.7,2020.6 1124.9,2021.8 1126,2021.2 1127.2,2022.5 1128.3,2021.9 1129.5,2023.3 1130.7,2022.8 1131.8,2024.2 1133,2023.8 1134.1,2025.4 1135.3,2025.1 1136.5,2026.6 1137.6,2026.3 1138.8,2027.8 1139.9,2027.4 1141.1,2028.9 1142.3,2028.5 1143.4,2030.1 1144.6,2029.7 1145.7,2031.1 1146.9,2030.6 1148.1,2032 1149.2,2031.4 1150.4,2032.5 1151.5,2031.9 1152.7,2033.2 1153.9,2032.5 1155,2033.6 1156.2,2032.9 1157.3,2034 1158.5,2033.3 1159.7,2034.2 1160.8,2033.4 1162,2034.3 1163.1,2033 1164.3,2033.5 1165.5,2032 1166.6,2032.2 1167.8,2030.5 1168.9,2030.7 1170.1,2028.9 1171.3,2028.9 1172.4,2027 1173.6,2026.8 1174.7,2024.6 1175.9,2024.3 1177.1,2022 1178.2,2021.7 1179.4,2019.6 1180.5,2019.5 1181.7,2017.5 1182.9,2017.3 1184,2015.3 1185.2,2015.2 1186.3,2013.4 1187.5,2013.5 1188.7,2011.9 1189.8,2012.3 1191,2010.9 1192.1,2011.3 1193.3,2010 1194.5,2010.6 1195.6,2009.4 1196.8,2010 1197.9,2008.8 1199.1,2009.4 1200.3,2008.3 1201.4,2009 1202.6,2007.9 1203.7,2008.7 1204.9,2007.5 1206.1,2008.3 1207.2,2007.2 1208.4,2007.9 1209.5,2006.8 1210.7,2007.4 1211.9,2006.3 1213,2007 1214.2,2005.8 1215.3,2006.4 1216.5,2005.2 1217.7,2005.9 1218.8,2004.6 1220,2005.2 1221.1,2003.9 1222.3,2004.6 1223.5,2003.3 1224.6,2003.9 1225.8,2002.6 1226.9,2003.1 1228.1,2001.8 1229.3,2002.3 1230.4,2000.9 1231.6,2001.3 1232.7,1999.9 1233.9,2000.1 1235.1,1998.5 1236.2,1998.7 1237.4,1996.8 1238.5,1996.8 1239.7,1994.8 1240.9,1994.5 1242,1992.4 1243.2,1991.9 1244.3,1989.4 1245.5,1988.6 1246.7,1985.9 1247.8,1985 1249,1982.3 1250.1,1981.3 1251.3,1978.3 1252.5,1977.1 1253.6,1974.1 1254.8,1972.8 1255.9,1969.7 1257.1,1968.5 1258.3,1965.5 1259.4,1964.4 1260.6,1961.4 1261.7,1960.2 1262.9,1957.2 1264.1,1955.9 1265.2,1952.8 1266.4,1951.4 1267.5,1948 1268.7,1946.3 1269.9,1942.8 1271,1941.1 1272.2,1937.6 1273.3,1936 1274.5,1932.7 1275.7,1931.3 1276.8,1928.2 1278,1926.9 1279.1,1923.9 1280.3,1922.7 1281.5,1919.7 1282.6,1918.6 1283.8,1915.6 1284.9,1914.4 1286.1,1911.3 1287.3,1910 1288.4,1906.9 1289.6,1905.6 1290.7,1902.6 1291.9,1901.4 1293.1,1898.5 1294.2,1897.6 1295.4,1894.8 1296.5,1894 1297.7,1891.3 1298.9,1890.6 1300,1888 1301.2,1887.2 1302.3,1884.5 1303.5,1883.7 1304.7,1881.1 1305.8,1880.2 1307,1877.5 1308.1,1876.6 1309.3,1874 1310.5,1873.2 1311.6,1870.6 1312.8,1869.9 1313.9,1867.4 1315.1,1866.8 1316.3,1864.3 1317.4,1863.8 1318.6,1861.3 1319.5,1860.6"/>
<g fill="#00ced1">
<ellipse cx="928.5" cy="2180.6" rx="8.0" ry="6.3"/>
<ellipse cx="929.6" cy="2180.6" rx="8.0" ry="6.3"/>
<ellipse cx="930.8" cy="2180.6" rx="8.0" ry="6.3"/>
<ellipse cx="931.9" cy="2180.6" rx="8.0" ry="6.3"/>
<ellipse cx="933.1" cy="2180.6" rx="8.0" ry="6.3"/>
<ellipse cx="934.3" cy="2180.6" rx="8.0" ry="6.3"/>
<ellipse cx="935.4" cy="2180.6" rx="8.0" ry="6.3"/>
<ellipse cx="936.6" cy="2180.6" rx="8.0" ry="6.3"/>
<ellipse cx="937.7" cy="2180.6" rx="8.0" ry="6.3"/>
<ellipse cx="938.9" cy="2180.6" rx="8.0" ry="6.3"/>
<ellipse cx="940.1" cy="2180.6" rx="8.0" ry="6.3"/>
<ellipse cx="941.2" cy="2180.6" rx="8.0" ry="6.3"/>
<ellipse cx="942.4" cy="2180.6" rx="8.0" ry="6.3"/>
<ellipse cx="943.5" cy="2180.6" rx="8.0" ry="6.3"/>
<ellipse cx="944.7" cy="2180.6" rx="8.0" ry="6.3"/>
<ellipse cx="945.9" cy="2180.6" rx="8.0" ry="6.3"/>
<ellipse cx="947" cy="2180.6" rx="8.0" ry="6.3"/>
<ellipse cx="948.2" cy="2180.6" rx="8.0" ry="6.3"/>
<ellipse cx="949.3" cy="2180.6" rx="8.0" ry="6.3"/>
<ellipse cx="950.5" cy="2180.6" rx="8.0" ry="6.3"/>
<ellipse cx="951.7" cy="2180.6" rx="8.0" ry="6.3"/>
<ellipse cx="952.8" cy="2180.6" rx="8.0" ry="6.3"/>
<ellipse cx="954" cy="2180.6" rx="8.0" ry="6.3"/>
<ellipse cx="955.1" cy="2180.6" rx="8.0" ry="6.3"/>
<ellipse cx="956.3" cy="2180.6" rx="8.0" ry="6.3"/>
<ellipse cx="957.5" cy="2180.6" rx="8.0" ry="6.3"/>
<ellipse cx="958.6" cy="2180.6" rx="8.0" ry="6.3"/>
<ellipse cx="959.8" cy="2180.6" rx="8.0" ry="6.3"/>
<ellipse cx="960.9" cy="2180.6" rx="8.0" ry="6.3"/>
<ellipse cx="962.1" cy="2180.6" rx="8.0" ry="6.3"/>
<ellipse cx="963.3" cy="2180.6" rx="8.0" ry="6.3"/>
<ellipse cx="964.4" cy="2180.6" rx="8.0" ry="6.3"/>
<ellipse cx="965.6" cy="2180.6" rx="8.0" ry="6.3"/>
<ellipse cx="966.7" cy="2180.6" rx="8.0" ry="6.3"/>
<ellipse cx="967.9" cy="2180.6" rx="8.0" ry="6.3"/>
<ellipse cx="969.1" cy="2180.6" rx="8.0" ry="6.3"/>
<ellipse cx="970.2" cy="2180.7" rx="8.0" ry="6.3"/>
<ellipse cx="971.4" cy="2180.7" rx="8.0" ry="6.3"/>
<ellipse cx="972.5" cy="2180.7" rx="8.0" ry="6.3"/>
<ellipse cx="973.7" cy="2180.7" rx="8.0" ry="6.3"/>
<ellipse cx="974.9" cy="2180.7" rx="8.0" ry="6.3"/>
<ellipse cx="976" cy="2180.8" rx="8.0" ry="6.3"/>
<ellipse cx="977.2" cy="2180.8" rx="8.0" ry="6.3"/>
<ellipse cx="978.3" cy="2180.8" rx="8.0" ry="6.3"/>
<ellipse cx="979.5" cy="2180.8" rx="8.0" ry="6.3"/>
<ellipse cx="980.7" cy="2180.8" rx="8.0" ry="6.3"/>
<ellipse cx="981.8" cy="2180.9" rx="8.0" ry="6.3"/>
<ellipse cx="983" cy="2180.9" rx="8.0" ry="6.3"/>
<ellipse cx="984.1" cy="2180.9" rx="8.0" ry="6.3"/>
<ellipse cx="985.3" cy="2180.9" rx="8.0" ry="6.3"/>
<ellipse cx="986.5" cy="2180.9" rx="8.0" ry="6.3"/>
<ellipse cx="987.6" cy="2180.9" rx="8.0" ry="6.3"/>
<ellipse cx="988.8" cy="2180.9" rx="8.0" ry="6.3"/>
<ellipse cx="989.9" cy="2180.9" rx="8.0" ry="6.3"/>
<ellipse cx="991.1" cy="2180.8" rx="8.0" ry="6.3"/>
<ellipse cx="992.3" cy="2180.6" rx="8.0" ry="6.3"/>
<ellipse cx="993.4" cy="2180.3" rx="8.0" ry="6.3"/>
<ellipse cx="994.6" cy="2180" rx="8.0" ry="6.3"/>
<ellipse cx="995.7" cy="2179.6" rx="8.0" ry="6.3"/>
<ellipse cx="996.9" cy="2179.3" rx="8.0" ry="6.3"/>
<ellipse cx="998.1" cy="2178.9" rx="8.0" ry="6.3"/>
<ellipse cx="999.2" cy="2178" rx="8.0" ry="6.3"/>
<ellipse cx="1000.4" cy="2178.5" rx="8.0" ry="6.3"/>
<ellipse cx="1001.5" cy="2177.2" rx="8.0" ry="6.3"/>
<ellipse cx="1002.7" cy="2177.7" rx="8.0" ry="6.3"/>
<ellipse cx="1003.9" cy="2176.3" rx="8.0" ry="6.3"/>
<ellipse cx="1005" cy="2176.8" rx="8.0" ry="6.3"/>
<ellipse cx="1006.2" cy="2175.2" rx="8.0" ry="6.3"/>
<ellipse cx="1007.3" cy="2175.6" rx="8.0" ry="6.3"/>
<ellipse cx="1008.5" cy="2174.1" rx="8.0" ry="6.3"/>
<ellipse cx="1009.7" cy="2174.4" rx="8.0" ry="6.3"/>
<ellipse cx="1010.8" cy="2172.8" rx="8.0" ry="6.3"/>
<ellipse cx="1012" cy="2173" rx="8.0" ry="6.3"/>
<ellipse cx="1013.1" cy="2171.3" rx="8.0" ry="6.3"/>
<ellipse cx="1014.3" cy="2171.5" rx="8.0" ry="6.3"/>
<ellipse cx="1015.5" cy="2169.7" rx="8.0" ry="6.3"/>
<ellipse cx="1016.6" cy="2169.7" rx="8.0" ry="6.3"/>
<ellipse cx="1017.8" cy="2167.8" rx="8.0" ry="6.3"/>
<ellipse cx="1018.9" cy="2167.7" rx="8.0" ry="6.3"/>
<ellipse cx="1020.1" cy="2165.8" rx="8.0" ry="6.3"/>
<ellipse cx="1021.3" cy="2165.6" rx="8.0" ry="6.3"/>
<ellipse cx="1022.4" cy="2163.5" rx="8.0" ry="6.3"/>
<ellipse cx="1023.6" cy="2163.2" rx="8.0" ry="6.3"/>
<ellipse cx="1024.7" cy="2160.9" rx="8.0" ry="6.3"/>
<ellipse cx="1025.9" cy="2160.3" rx="8.0" ry="6.3"/>
<ellipse cx="1027.1" cy="2157.7" rx="8.0" ry="6.3"/>
<ellipse cx="1029.4" cy="2153.8" rx="8.0" ry="6.3"/>
<ellipse cx="1033.7" cy="2138.5" rx="8.0" ry="6.3"/>
<ellipse cx="1037.7" cy="2115.4" rx="8.0" ry="6.3"/>
<ellipse cx="1042" cy="2078.5" rx="8.0" ry="6.3"/>
<ellipse cx="1046" cy="2031.7" rx="8.0" ry="6.3"/>
<ellipse cx="1050.3" cy="1979.1" rx="8.0" ry="6.3"/>
<ellipse cx="1054.3" cy="1932.9" rx="8.0" ry="6.3"/>
<ellipse cx="1058.3" cy="1894.8" rx="8.0" ry="6.3"/>
<ellipse cx="1062.3" cy="1862.2" rx="8.0" ry="6.3"/>
<ellipse cx="1066.3" cy="1835.4" rx="8.0" ry="6.3"/>
<ellipse cx="1069.7" cy="1814.5" rx="8.0" ry="6.3"/>
<ellipse cx="1074" cy="1804" rx="8.0" ry="6.3"/>
<ellipse cx="1078" cy="1810.2" rx="8.0" ry="6.3"/>
<ellipse cx="1082" cy="1832.9" rx="8.0" ry="6.3"/>
<ellipse cx="1086" cy="1868.3" rx="8.0" ry="6.3"/>
<ellipse cx="1090.3" cy="1905.5" rx="8.0" ry="6.3"/>
<ellipse cx="1094.6" cy="1940.6" rx="8.0" ry="6.3"/>
<ellipse cx="1098.3" cy="1966.5" rx="8.0" ry="6.3"/>
<ellipse cx="1102" cy="1987.7" rx="8.0" ry="6.3"/>
<ellipse cx="1106.3" cy="2000" rx="8.0" ry="6.3"/>
<ellipse cx="1108.6" cy="2005.6" rx="8.0" ry="6.3"/>
<ellipse cx="1109.8" cy="2006.9" rx="8.0" ry="6.3"/>
<ellipse cx="1110.9" cy="2009.8" rx="8.0" ry="6.3"/>
<ellipse cx="1112.1" cy="2010.7" rx="8.0" ry="6.3"/>
<ellipse cx="1113.3" cy="2013.2" rx="8.0" ry="6.3"/>
<ellipse cx="1114.4" cy="2013.9" rx="8.0" ry="6.3"/>
<ellipse cx="1115.6" cy="2016.3" rx="8.0" ry="6.3"/>
<ellipse cx="1116.7" cy="2016.7" rx="8.0" ry="6.3"/>
<ellipse cx="1117.9" cy="2018.7" rx="8.0" ry="6.3"/>
<ellipse cx="1119.1" cy="2018.6" rx="8.0" ry="6.3"/>
<ellipse cx="1120.2" cy="2020.2" rx="8.0" ry="6.3"/>
<ellipse cx="1121.4" cy="2019.8" rx="8.0" ry="6.3"/>
<ellipse cx="1122.5" cy="2021.2" rx="8.0" ry="6.3"/>
<ellipse cx="1123.7" cy="2020.6" rx="8.0" ry="6.3"/>
<ellipse cx="1124.9" cy="2021.8" rx="8.0" ry="6.3"/>
<ellipse cx="1126" cy="2021.2" rx="8.0" ry="6.3"/>
<ellipse cx="1127.2" cy="2022.5" rx="8.0" ry="6.3"/>
<ellipse cx="1128.3" cy="2021.9" rx="8.0" ry="6.3"/>
<ellipse cx="1129.5" cy="2023.3" rx="8.0" ry="6.3"/>
<ellipse cx="1130.7" cy="2022.8" rx="8.0" ry="6.3"/>
<ellipse cx="1131.8" cy="2024.2" rx="8.0" ry="6.3"/>
<ellipse cx="1133" cy="2023.8" rx="8.0" ry="6.3"/>
<ellipse cx="1134.1" cy="2025.4" rx="8.0" ry="6.3"/>
<ellipse cx="1135.3" cy="2025.1" rx="8.0" ry="6.3"/>
<ellipse cx="1136.5" cy="2026.6" rx="8.0" ry="6.3"/>
<ellipse cx="1137.6" cy="2026.3" rx="8.0" ry="6.3"/>
<ellipse cx="1138.8" cy="2027.8" rx="8.0" ry="6.3"/>
<ellipse cx="1139.9" cy="2027.4" rx="8.0" ry="6.3"/>
<ellipse cx="1141.1" cy="2028.9" rx="8.0" ry="6.3"/>
<ellipse cx="1142.3" cy="2028.5" rx="8.0" ry="6.3"/>
<ellipse cx="1143.4" cy="2030.1" rx="8.0" ry="6.3"/>
<ellipse cx="1144.6" cy="2029.7" rx="8.0" ry="6.3"/>
<ellipse cx="1145.7" cy="2031.1" rx="8.0" ry="6.3"/>
<ellipse cx="1146.9" cy="2030.6" rx="8.0" ry="6.3"/>
<ellipse cx="1148.1" cy="2032" rx="8.0" ry="6.3"/>
<ellipse cx="1149.2" cy="2031.4" rx="8.0" ry="6.3"/>
<ellipse cx="1150.4" cy="2032.5" rx="8.0" ry="6.3"/>
<ellipse cx="1151.5" cy="2031.9" rx="8.0" ry="6.3"/>
<ellipse cx="1152.7" cy="2033.2" rx="8.0" ry="6.3"/>
<ellipse cx="1153.9" cy="2032.5" rx="8.0" ry="6.3"/>
<ellipse cx="1155" cy="2033.6" rx="8.0" ry="6.3"/>
<ellipse cx="1156.2" cy="2032.9" rx="8.0" ry="6.3"/>
<ellipse cx="1157.3" cy="2034" rx="8.0" ry="6.3"/>
<ellipse cx="1158.5" cy="2033.3" rx="8.0" ry="6.3"/>
<ellipse cx="1159.7" cy="2034.2" rx="8.0" ry="6.3"/>
<ellipse cx="1160.8" cy="2033.4" rx="8.0" ry="6.3"/>
<ellipse cx="1162" cy="2034.3" rx="8.0" ry="6.3"/>
<ellipse cx="1163.1" cy="2033" rx="8.0" ry="6.3"/>
<ellipse cx="1164.3" cy="2033.5" rx="8.0" ry="6.3"/>
<ellipse cx="1165.5" cy="2032" rx="8.0" ry="6.3"/>
<ellipse cx="1166.6" cy="2032.2" rx="8.0" ry="6.3"/>
<ellipse cx="1167.8" cy="2030.5" rx="8.0" ry="6.3"/>
<ellipse cx="1168.9" cy="2030.7" rx="8.0" ry="6.3"/>
<ellipse cx="1170.1" cy="2028.9" rx="8.0" ry="6.3"/>
<ellipse cx="1171.3" cy="2028.9" rx="8.0" ry="6.3"/>
<ellipse cx="1172.4" cy="2027" rx="8.0" ry="6.3"/>
<ellipse cx="1173.6" cy="2026.8" rx="8.0" ry="6.3"/>
<ellipse cx="1174.7" cy="2024.6" rx="8.0" ry="6.3"/>
<ellipse cx="1175.9" cy="2024.3" rx="8.0" ry="6.3"/>
<ellipse cx="1177.1" cy="2022" rx="8.0" ry="6.3"/>
<ellipse cx="1178.2" cy="2021.7" rx="8.0" ry="6.3"/>
<ellipse cx="1179.4" cy="2019.6" rx="8.0" ry="6.3"/>
<ellipse cx="1180.5" cy="2019.5" rx="8.0" ry="6.3"/>
<ellipse cx="1181.7" cy="2017.5" rx="8.0" ry="6.3"/>
<ellipse cx="1182.9" cy="2017.3" rx="8.0" ry="6.3"/>
<ellipse cx="1184" cy="2015.3" rx="8.0" ry="6.3"/>
<ellipse cx="1185.2" cy="2015.2" rx="8.0" ry="6.3"/>
<ellipse cx="1186.3" cy="2013.4" rx="8.0" ry="6.3"/>
<ellipse cx="1187.5" cy="2013.5" rx="8.0" ry="6.3"/>
<ellipse cx="1188.7" cy="2011.9" rx="8.0" ry="6.3"/>
<ellipse cx="1189.8" cy="2012.3" rx="8.0" ry="6.3"/>
<ellipse cx="1191" cy="2010.9" rx="8.0" ry="6.3"/>
<ellipse cx="1192.1" cy="2011.3" rx="8.0" ry="6.3"/>
<ellipse cx="1193.3" cy="2010" rx="8.0" ry="6.3"/>
<ellipse cx="1194.5" cy="2010.6" rx="8.0" ry="6.3"/>
<ellipse cx="1195.6" cy="2009.4" rx="8.0" ry="6.3"/>
<ellipse cx="1196.8" cy="2010" rx="8.0" ry="6.3"/>
<ellipse cx="1197.9" cy="2008.8" rx="8.0" ry="6.3"/>
<ellipse cx="1199.1" cy="2009.4" rx="8.0" ry="6.3"/>
<ellipse cx="1200.3" cy="2008.3" rx="8.0" ry="6.3"/>
<ellipse cx="1201.4" cy="2009" rx="8.0" ry="6.3"/>
<ellipse cx="1202.6" cy="2007.9" rx="8.0" ry="6.3"/>
<ellipse cx="1203.7" cy="2008.7" rx="8.0" ry="6.3"/>
<ellipse cx="1204.9" cy="2007.5" rx="8.0" ry="6.3"/>
<ellipse cx="1206.1" cy="2008.3" rx="8.0" ry="6.3"/>
<ellipse cx="1207.2" cy="2007.2" rx="8.0" ry="6.3"/>
<ellipse cx="1208.4" cy="2007.9" rx="8.0" ry="6.3"/>
<ellipse cx="1209.5" cy="2006.8" rx="8.0" ry="6.3"/>
<ellipse cx="1210.7" cy="2007.4" rx="8.0" ry="6.3"/>
<ellipse cx="1211.9" cy="2006.3" rx="8.0" ry="6.3"/>
<ellipse cx="1213" cy="2007" rx="8.0" ry="6.3"/>
<ellipse cx="1214.2" cy="2005.8" rx="8.0" ry="6.3"/>
<ellipse cx="1215.3" cy="2006.4" rx="8.0" ry="6.3"/>
<ellipse cx="1216.5" cy="2005.2" rx="8.0" ry="6.3"/>
<ellipse cx="1217.7" cy="2005.9" rx="8.0" ry="6.3"/>
<ellipse cx="1218.8" cy="2004.6" rx="8.0" ry="6.3"/>
<ellipse cx="1220" cy="2005.2" rx="8.0" ry="6.3"/>
<ellipse cx="1221.1" cy="2003.9" rx="8.0" ry="6.3"/>
<ellipse cx="1222.3" cy="2004.6" rx="8.0" ry="6.3"/>
<ellipse cx="1223.5" cy="2003.3" rx="8.0" ry="6.3"/>
<ellipse cx="1224.6" cy="2003.9" rx="8.0" ry="6.3"/>
<ellipse cx="1225.8" cy="2002.6" rx="8.0" ry="6.3"/>
<ellipse cx="1226.9" cy="2003.1" rx="8.0" ry="6.3"/>
<ellipse cx="1228.1" cy="2001.8" rx="8.0" ry="6.3"/>
<ellipse cx="1229.3" cy="2002.3" rx="8.0" ry="6.3"/>
<ellipse cx="1230.4" cy="2000.9" rx="8.0" ry="6.3"/>
<ellipse cx="1231.6" cy="2001.3" rx="8.0" ry="6.3"/>
<ellipse cx="1232.7" cy="1999.9" rx="8.0" ry="6.3"/>
<ellipse cx="1233.9" cy="2000.1" rx="8.0" ry="6.3"/>
<ellipse cx="1235.1" cy="1998.5" rx="8.0" ry="6.3"/>
<ellipse cx="1236.2" cy="1998.7" rx="8.0" ry="6.3"/>
<ellipse cx="1237.4" cy="1996.8" rx="8.0" ry="6.3"/>
<ellipse cx="1238.5" cy="1996.8" rx="8.0" ry="6.3"/>
<ellipse cx="1239.7" cy="1994.8" rx="8.0" ry="6.3"/>
<ellipse cx="1240.9" cy="1994.5" rx="8.0" ry="6.3"/>
<ellipse cx="1242" cy="1992.4" rx="8.0" ry="6.3"/>
<ellipse cx="1243.2" cy="1991.9" rx="8.0" ry="6.3"/>
<ellipse cx="1244.3" cy="1989.4" rx="8.0" ry="6.3"/>
<ellipse cx="1245.5" cy="1988.6" rx="8.0" ry="6.3"/>
<ellipse cx="1246.7" cy="1985.9" rx="8.0" ry="6.3"/>
<ellipse cx="1247.8" cy="1985" rx="8.0" ry="6.3"/>
<ellipse cx="1249" cy="1982.3" rx="8.0" ry="6.3"/>
<ellipse cx="1250.1" cy="1981.3" rx="8.0" ry="6.3"/>
<ellipse cx="1251.3" cy="1978.3" rx="8.0" ry="6.3"/>
<ellipse cx="1252.5" cy="1977.1" rx="8.0" ry="6.3"/>
<ellipse cx="1253.6" cy="1974.1" rx="8.0" ry="6.3"/>
<ellipse cx="1254.8" cy="1972.8" rx="8.0" ry="6.3"/>
<ellipse cx="1255.9" cy="1969.7" rx="8.0" ry="6.3"/>
<ellipse cx="1257.1" cy="1968.5" rx="8.0" ry="6.3"/>
<ellipse cx="1258.3" cy="1965.5" rx="8.0" ry="6.3"/>
<ellipse cx="1259.4" cy="1964.4" rx="8.0" ry="6.3"/>
<ellipse cx="1260.6" cy="1961.4" rx="8.0" ry="6.3"/>
<ellipse cx="1261.7" cy="1960.2" rx="8.0" ry="6.3"/>
<ellipse cx="1262.9" cy="1957.2" rx="8.0" ry="6.3"/>
<ellipse cx="1264.1" cy="1955.9" rx="8.0" ry="6.3"/>
<ellipse cx="1265.2" cy="1952.8" rx="8.0" ry="6.3"/>
<ellipse cx="1266.4" cy="1951.4" rx="8.0" ry="6.3"/>
<ellipse cx="1267.5" cy="1948" rx="8.0" ry="6.3"/>
<ellipse cx="1268.7" cy="1946.3" rx="8.0" ry="6.3"/>
<ellipse cx="1269.9" cy="1942.8" rx="8.0" ry="6.3"/>
<ellipse cx="1271" cy="1941.1" rx="8.0" ry="6.3"/>
<ellipse cx="1272.2" cy="1937.6" rx="8.0" ry="6.3"/>
<ellipse cx="1273.3" cy="1936" rx="8.0" ry="6.3"/>
<ellipse cx="1274.5" cy="1932.7" rx="8.0" ry="6.3"/>
<ellipse cx="1275.7" cy="1931.3" rx="8.0" ry="6.3"/>
<ellipse cx="1276.8" cy="1928.2" rx="8.0" ry="6.3"/>
<ellipse cx="1278" cy="1926.9" rx="8.0" ry="6.3"/>
<ellipse cx="1279.1" cy="1923.9" rx="8.0" ry="6.3"/>
<ellipse cx="1280.3" cy="1922.7" rx="8.0" ry="6.3"/>
<ellipse cx="1281.5" cy="1919.7" rx="8.0" ry="6.3"/>
<ellipse cx="1282.6" cy="1918.6" rx="8.0" ry="6.3"/>
<ellipse cx="1283.8" cy="1915.6" rx="8.0" ry="6.3"/>
<ellipse cx="1284.9" cy="1914.4" rx="8.0" ry="6.3"/>
<ellipse cx="1286.1" cy="1911.3" rx="8.0" ry="6.3"/>
<ellipse cx="1287.3" cy="1910" rx="8.0" ry="6.3"/>
<ellipse cx="1288.4" cy="1906.9" rx="8.0" ry="6.3"/>
<ellipse cx="1289.6" cy="1905.6" rx="8.0" ry="6.3"/>
<ellipse cx="1290.7" cy="1902.6" rx="8.0" ry="6.3"/>
<ellipse cx="1291.9" cy="1901.4" rx="8.0" ry="6.3"/>
<ellipse cx="1293.1" cy="1898.5" rx="8.0" ry="6.3"/>
<ellipse cx="1294.2" cy="1897.6" rx="8.0" ry="6.3"/>
<ellipse cx="1295.4" cy="1894.8" rx="8.0" ry="6.3"/>
<ellipse cx="1296.5" cy="1894" rx="8.0" ry="6.3"/>
<ellipse cx="1297.7" cy="1891.3" rx="8.0" ry="6.3"/>
<ellipse cx="1298.9" cy="1890.6" rx="8.0" ry="6.3"/>
<ellipse cx="1300" cy="1888" rx="8.0" ry="6.3"/>
<ellipse cx="1301.2" cy="1887.2" rx="8.0" ry="6.3"/>
<ellipse cx="1302.3" cy="1884.5" rx="8.0" ry="6.3"/>
<ellipse cx="1303.5" cy="1883.7" rx="8.0" ry="6.3"/>
<ellipse cx="1304.7" cy="1881.1" rx="8.0" ry="6.3"/>
<ellipse cx="1305.8" cy="1880.2" rx="8.0" ry="6.3"/>
<ellipse cx="1307" cy="1877.5" rx="8.0" ry="6.3"/>
<ellipse cx="1308.1" cy="1876.6" rx="8.0" ry="6.3"/>
<ellipse cx="1309.3" cy="1874" rx="8.0" ry="6.3"/>
<ellipse cx="1310.5" cy="1873.2" rx="8.0" ry="6.3"/>
<ellipse cx="1311.6" cy="1870.6" rx="8.0" ry="6.3"/>
<ellipse cx="1312.8" cy="1869.9" rx="8.0" ry="6.3"/>
<ellipse cx="1313.9" cy="1867.4" rx="8.0" ry="6.3"/>
<ellipse cx="1315.1" cy="1866.8" rx="8.0" ry="6.3"/>
<ellipse cx="1316.3" cy="1864.3" rx="8.0" ry="6.3"/>
<ellipse cx="1317.4" cy="1863.8" rx="8.0" ry="6.3"/>
<ellipse cx="1318.6" cy="1861.3" rx="8.0" ry="6.3"/>
<ellipse cx="1319.5" cy="1860.6" rx="8.0" ry="6.3"/>
</g>
</g>
<g stroke="#000" fill="none" stroke-linecap="butt">
<path d="M929.4 1797.8V2184.3" stroke-width="3.9"/>
<path d="M1359.4 1797.8V2184.3" stroke-width="3.0"/>
<path d="M920.9 2182.6H1367.9" stroke-width="3.4"/>
<path d="M920.9 2182.6H937.9M920.9 2105.9H937.9M920.9 2029.2H937.9M920.9 1952.6H937.9M920.9 1875.9H937.9M920.9 1799.2H937.9M1350.9 2182.6H1367.9M1350.9 2105.9H1367.9M1350.9 2029.2H1367.9M1350.9 1952.6H1367.9M1350.9 1875.9H1367.9M1350.9 1799.2H1367.9M929.4 2174.1V2191.1M1015.4 2174.1V2191.1M1101.4 2174.1V2191.1M1187.4 2174.1V2191.1M1273.4 2174.1V2191.1M1359.4 2174.1V2191.1" stroke-width="2.9"/>
<path d="M929.4 2167.3H936.4M929.4 2151.9H936.4M929.4 2136.6H936.4M929.4 2121.3H936.4M929.4 2090.6H936.4M929.4 2075.2H936.4M929.4 2059.9H936.4M929.4 2044.6H936.4M929.4 2013.9H936.4M929.4 1998.6H936.4M929.4 1983.2H936.4M929.4 1967.9H936.4M929.4 1937.2H936.4M929.4 1921.9H936.4M929.4 1906.6H936.4M929.4 1891.2H936.4M929.4 1860.5H936.4M929.4 1845.2H936.4M929.4 1829.9H936.4M929.4 1814.5H936.4M1352.4 2167.3H1359.4M1352.4 2151.9H1359.4M1352.4 2136.6H1359.4M1352.4 2121.3H1359.4M1352.4 2090.6H1359.4M1352.4 2075.2H1359.4M1352.4 2059.9H1359.4M1352.4 2044.6H1359.4M1352.4 2013.9H1359.4M1352.4 1998.6H1359.4M1352.4 1983.2H1359.4M1352.4 1967.9H1359.4M1352.4 1937.2H1359.4M1352.4 1921.9H1359.4M1352.4 1906.6H1359.4M1352.4 1891.2H1359.4M1352.4 1860.5H1359.4M1352.4 1845.2H1359.4M1352.4 1829.9H1359.4M1352.4 1814.5H1359.4M946.6 2175.6V2182.6M963.8 2175.6V2182.6M981 2175.6V2182.6M998.2 2175.6V2182.6M1032.6 2175.6V2182.6M1049.8 2175.6V2182.6M1067 2175.6V2182.6M1084.2 2175.6V2182.6M1118.6 2175.6V2182.6M1135.8 2175.6V2182.6M1153 2175.6V2182.6M1170.2 2175.6V2182.6M1204.6 2175.6V2182.6M1221.8 2175.6V2182.6M1239 2175.6V2182.6M1256.2 2175.6V2182.6M1290.6 2175.6V2182.6M1307.8 2175.6V2182.6M1325 2175.6V2182.6M1342.2 2175.6V2182.6" stroke-width="2.4"/>
</g>
<g font-family='"Liberation Sans", Arial, Helvetica, sans-serif' font-size="15.2" fill="#000" stroke="#000" stroke-width="0.35">
<text transform="translate(871.5 2188.4) scale(1.23 1)">0</text>
<text transform="translate(871.5 2111.8) scale(1.23 1)">1000</text>
<text transform="translate(871.5 2035.1) scale(1.23 1)">2000</text>
<text transform="translate(871.5 1958.4) scale(1.23 1)">3000</text>
<text transform="translate(871.5 1881.7) scale(1.23 1)">4000</text>
<text transform="translate(871.5 1805) scale(1.23 1)">5000</text>
<text transform="translate(1390.8 2188.2) scale(1.23 1)">0.00</text>
<text transform="translate(1390.8 2111.6) scale(1.23 1)">20.00</text>
<text transform="translate(1390.8 2034.9) scale(1.23 1)">40.00</text>
<text transform="translate(1390.8 1958.2) scale(1.23 1)">60.00</text>
<text transform="translate(1390.8 1881.5) scale(1.23 1)">80.00</text>
<text transform="translate(1390.8 1804.8) scale(1.23 1)">100.00</text>
<text text-anchor="middle" transform="translate(936.9 2204.5) scale(1.23 1)">0.0</text>
<text text-anchor="middle" transform="translate(1022.9 2204.5) scale(1.23 1)">5.0</text>
<text text-anchor="middle" transform="translate(1108.9 2204.5) scale(1.23 1)">10.0</text>
<text text-anchor="middle" transform="translate(1194.9 2204.5) scale(1.23 1)">15.0</text>
<text text-anchor="middle" transform="translate(1280.9 2204.5) scale(1.23 1)">20.0</text>
<text text-anchor="middle" transform="translate(1366.9 2204.5) scale(1.23 1)">25.0</text>
</g>
<g font-family='"Liberation Sans", Arial, Helvetica, sans-serif' font-size="15.5" fill="#000" stroke="#000" stroke-width="0.35">
<text transform="translate(1088.5 2231) scale(1.2152 1)">Time t  in min</text>
<text transform="translate(851.9 2052.2) rotate(-90) scale(1.0071 1.245)">Viscosity  η  in cP</text>
<text transform="translate(1466.2 2065.1) rotate(-90) scale(1.0291 1.2)">Temperature T  in °C</text>
</g>
<text x="1006.5" y="1775.3" font-family='"Liberation Sans", Arial, sans-serif' font-size="21" fill="#111" stroke="#111" stroke-width="0.2" clip-path="url(#clipB)" textLength="297.4" lengthAdjust="spacingAndGlyphs">Anton Paar RheoCompass</text>
</g>
<g font-family='"Liberation Serif", "Times New Roman", Times, serif' fill="#000">
<text x="551.4" y="412.6" font-size="50.2">Control (100% HWF)</text>
<text x="107.5" y="1080.6" font-size="50">90% HWF+10% FE</text>
<text x="925.6" y="1080.6" font-size="50">90% HWF+10% FT</text>
<text x="108" y="1704.2" font-size="50">80% HWF+20% FE</text>
<text x="926.2" y="1711" font-size="50">80% HWF+20% FT</text>
<text x="106" y="2305.3" font-size="50">70% HWF+30% FE</text>
<text x="924.1" y="2294.4" font-size="50">70% HWF+30% FT</text>
</g>
</svg>
</body>
</html>
